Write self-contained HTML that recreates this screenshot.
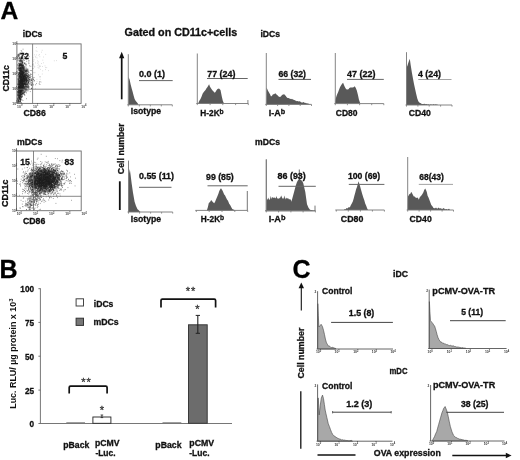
<!DOCTYPE html>
<html><head><meta charset="utf-8"><title>Figure</title>
<style>html,body{margin:0;padding:0;background:#fff;overflow:hidden}svg{display:block;filter:grayscale(1) blur(0.4px)}</style></head>
<body>
<svg width="520" height="460" viewBox="0 0 520 460" font-family="&quot;Liberation Sans&quot;, Arial, sans-serif" font-weight="bold">
<rect width="520" height="460" fill="#fff"/>
<text x="0.6" y="19.3" font-size="24.6" fill="#000" stroke="#000" stroke-width="0.3" text-anchor="start" >A</text>
<text x="-0.6" y="278.3" font-size="25" fill="#000" stroke="#000" stroke-width="0.3" text-anchor="start" >B</text>
<text x="292.6" y="278.4" font-size="25" fill="#000" stroke="#000" stroke-width="0.3" text-anchor="start" >C</text>
<path d="M25.5 81.4h0.7M21.1 69.9h0.7M17.5 98.5h0.7M36.2 83.6h0.7M23.6 86.1h0.7M24.3 88.4h0.7M20.7 65.0h0.7M19.8 95.2h0.7M21.4 79.7h0.7M21.4 65.6h0.7M30.2 75.7h0.7M25.5 83.7h0.7M19.3 83.6h0.7M30.9 85.6h0.7M22.2 74.9h0.7M22.4 73.8h0.7M22.2 62.7h0.7M21.0 97.4h0.7M23.0 77.8h0.7M18.7 100.6h0.7M23.8 79.0h0.7M19.6 73.5h0.7M20.6 98.0h0.7M22.9 83.6h0.7M28.9 76.1h0.7M17.9 93.1h0.7M25.1 78.8h0.7M20.2 91.7h0.7M21.4 79.1h0.7M18.9 86.7h0.7M19.7 76.2h0.7M23.0 86.1h0.7M20.9 87.9h0.7M20.3 67.0h0.7M22.3 68.2h0.7M20.2 70.4h0.7M25.1 81.1h0.7M18.5 68.6h0.7M20.3 69.7h0.7M21.5 70.5h0.7M23.4 73.1h0.7M25.1 71.6h0.7M19.5 83.8h0.7M19.1 87.5h0.7M21.1 73.5h0.7M24.2 77.0h0.7M25.0 77.6h0.7M19.6 92.7h0.7M23.6 78.0h0.7M22.3 80.9h0.7M20.9 79.1h0.7M25.7 71.5h0.7M20.7 84.1h0.7M24.7 68.9h0.7M21.8 81.3h0.7M27.3 86.8h0.7M23.6 83.6h0.7M23.8 69.7h0.7M22.4 85.9h0.7M23.9 79.3h0.7M22.6 72.0h0.7M20.6 81.0h0.7M20.2 100.9h0.7M17.9 101.2h0.7M30.2 80.0h0.7M19.2 72.7h0.7M21.2 81.0h0.7M27.2 76.5h0.7M22.0 92.5h0.7M20.7 96.7h0.7M17.4 96.2h0.7M26.6 76.2h0.7M22.0 61.2h0.7M23.6 76.6h0.7M19.7 64.1h0.7M25.7 84.3h0.7M26.0 88.5h0.7M25.1 86.6h0.7M22.2 67.4h0.7M23.5 79.5h0.7M22.2 71.0h0.7M17.6 83.7h0.7M21.6 83.0h0.7M20.6 83.0h0.7M23.0 77.2h0.7M23.6 72.9h0.7M22.0 83.6h0.7M20.6 66.3h0.7M19.7 85.7h0.7M22.1 67.3h0.7M25.2 84.7h0.7M23.6 72.8h0.7M21.5 67.7h0.7M26.5 80.9h0.7M19.9 89.5h0.7M20.6 96.7h0.7M20.0 94.0h0.7M20.6 75.8h0.7M26.7 70.1h0.7M25.7 72.8h0.7M19.6 90.6h0.7M21.5 90.7h0.7M21.1 84.1h0.7M21.0 81.4h0.7M22.0 93.7h0.7M24.4 92.6h0.7M21.1 81.3h0.7M18.7 65.5h0.7M30.9 80.4h0.7M25.9 75.0h0.7M21.7 80.8h0.7M22.6 68.6h0.7M22.3 74.1h0.7M20.2 77.1h0.7M19.7 90.2h0.7M24.6 88.3h0.7M24.5 75.2h0.7M23.3 67.9h0.7M21.9 93.5h0.7M20.5 70.3h0.7M21.7 83.4h0.7M20.5 73.4h0.7M28.4 72.0h0.7M25.6 77.8h0.7M20.3 74.0h0.7M18.5 91.2h0.7M22.4 84.7h0.7M23.4 81.3h0.7M19.9 67.8h0.7M24.6 89.4h0.7M21.1 65.4h0.7M23.7 68.0h0.7M19.1 73.8h0.7M28.5 77.6h0.7M20.7 84.8h0.7M23.2 80.2h0.7M21.8 93.3h0.7M21.5 86.0h0.7M20.1 80.0h0.7M22.0 84.5h0.7M20.2 68.0h0.7M23.8 75.3h0.7M26.9 83.6h0.7M21.3 71.3h0.7M26.0 78.3h0.7M19.6 96.3h0.7M20.6 89.1h0.7M24.1 80.9h0.7M24.3 70.7h0.7M33.8 81.1h0.7M19.7 76.0h0.7M25.0 71.4h0.7M20.9 75.0h0.7M22.7 76.4h0.7M22.7 77.8h0.7M22.6 85.9h0.7M22.6 70.6h0.7M19.3 72.6h0.7M20.5 94.2h0.7M20.2 65.5h0.7M25.6 79.6h0.7M18.5 91.4h0.7M23.5 81.6h0.7M22.9 70.8h0.7M23.5 69.4h0.7M20.3 79.9h0.7M26.4 83.3h0.7M24.5 84.2h0.7M25.7 86.8h0.7M21.4 86.3h0.7M19.3 68.4h0.7M27.4 80.5h0.7M28.8 87.1h0.7M23.0 71.6h0.7M23.9 63.1h0.7M28.5 74.7h0.7M20.9 68.2h0.7M26.9 82.3h0.7M19.1 70.1h0.7M19.3 77.9h0.7M23.6 74.2h0.7M17.5 99.9h0.7M24.5 84.0h0.7M20.8 76.1h0.7M20.1 59.3h0.7M21.1 90.6h0.7M24.0 88.6h0.7M27.4 77.2h0.7M28.5 88.2h0.7M21.1 65.8h0.7M18.5 82.7h0.7M21.9 82.2h0.7M25.2 76.8h0.7M22.6 75.7h0.7M23.6 80.9h0.7M20.4 92.7h0.7M23.4 72.5h0.7M18.4 80.6h0.7M21.8 81.6h0.7M21.3 82.7h0.7M19.5 75.8h0.7M20.6 84.9h0.7M19.1 82.4h0.7M20.7 68.1h0.7M20.4 72.7h0.7M18.0 87.0h0.7M20.0 74.9h0.7M20.0 77.7h0.7M24.3 79.4h0.7M20.0 58.9h0.7M24.3 80.5h0.7M21.2 74.5h0.7M28.3 70.2h0.7M17.6 82.9h0.7M18.8 81.7h0.7M24.3 69.0h0.7M19.8 91.2h0.7M18.1 100.1h0.7M27.2 76.1h0.7M21.5 87.2h0.7M20.9 87.6h0.7M26.6 71.2h0.7M29.2 79.5h0.7M20.5 60.2h0.7M21.8 74.6h0.7M18.7 73.0h0.7M27.1 78.1h0.7M21.5 72.2h0.7M20.0 80.0h0.7M26.1 81.3h0.7M30.0 82.0h0.7M21.3 94.4h0.7M20.4 92.8h0.7M20.3 78.0h0.7M19.5 84.8h0.7M20.6 83.5h0.7M19.6 80.7h0.7M22.4 72.7h0.7M31.7 83.6h0.7M21.8 71.3h0.7M22.6 67.2h0.7M20.7 82.8h0.7M19.7 82.6h0.7M20.4 86.7h0.7M19.7 89.6h0.7M24.5 86.8h0.7M29.7 81.9h0.7M20.9 72.3h0.7M24.7 87.0h0.7M25.0 83.7h0.7M20.7 80.0h0.7M19.4 76.9h0.7M25.3 79.6h0.7M20.9 75.3h0.7M18.3 89.1h0.7M19.2 86.2h0.7M20.9 94.4h0.7M19.8 93.5h0.7M21.6 70.9h0.7M19.8 99.5h0.7M26.0 81.9h0.7M21.6 87.4h0.7M21.7 82.2h0.7M25.9 77.3h0.7M18.3 95.7h0.7M21.6 72.5h0.7M22.4 80.3h0.7M23.2 77.5h0.7M24.1 89.7h0.7M20.8 76.6h0.7M20.5 69.2h0.7M23.6 68.7h0.7M21.5 61.2h0.7M23.9 78.4h0.7M18.9 85.5h0.7M18.5 74.9h0.7M26.8 85.1h0.7M19.9 97.0h0.7M17.8 86.4h0.7M19.6 72.6h0.7M19.2 76.5h0.7M28.8 80.8h0.7M20.4 80.3h0.7M24.6 70.6h0.7M21.5 83.1h0.7M28.8 81.4h0.7M23.1 86.4h0.7M20.2 81.4h0.7M20.3 97.0h0.7M27.1 69.4h0.7M22.1 72.6h0.7M22.3 83.4h0.7M18.2 92.4h0.7M24.4 74.2h0.7M19.8 57.5h0.7M24.7 75.9h0.7M24.5 91.1h0.7M20.1 78.7h0.7M20.0 70.0h0.7M28.8 75.2h0.7M23.6 76.0h0.7M20.5 99.6h0.7M26.6 87.7h0.7M22.4 67.3h0.7M33.7 77.5h0.7M23.3 76.6h0.7M22.8 85.4h0.7M19.3 86.5h0.7M21.1 90.7h0.7M24.7 87.6h0.7M20.0 88.2h0.7M20.0 87.3h0.7M24.7 79.2h0.7M31.5 82.6h0.7M21.8 85.4h0.7M24.3 74.2h0.7M18.3 95.6h0.7M27.4 87.0h0.7M20.5 77.2h0.7M17.6 88.2h0.7M20.5 83.5h0.7M18.9 83.8h0.7M25.5 80.7h0.7M19.4 65.8h0.7M19.7 89.2h0.7M25.6 83.0h0.7M20.4 70.5h0.7M22.1 83.7h0.7M18.4 97.3h0.7M17.7 98.2h0.7M21.4 79.9h0.7M20.0 90.2h0.7M20.5 81.7h0.7M31.0 88.5h0.7M19.0 64.5h0.7M19.3 70.6h0.7M21.7 73.7h0.7M21.8 74.7h0.7M23.3 59.0h0.7M21.8 92.2h0.7M17.9 88.0h0.7M19.2 65.1h0.7M23.9 75.8h0.7M20.7 70.1h0.7M20.7 100.2h0.7M19.7 68.2h0.7M22.3 64.1h0.7M18.8 97.9h0.7M18.0 89.5h0.7M20.6 61.7h0.7M21.9 90.6h0.7M24.9 77.0h0.7M24.5 70.9h0.7M19.8 75.9h0.7M22.3 71.5h0.7M19.7 87.8h0.7M20.2 92.1h0.7M21.4 65.3h0.7M24.0 91.5h0.7M22.7 78.5h0.7M23.9 72.7h0.7M23.5 79.1h0.7M19.0 77.2h0.7M20.5 79.8h0.7M22.3 83.6h0.7M20.1 70.4h0.7M22.5 75.0h0.7M17.3 94.9h0.7M22.5 65.7h0.7M19.1 81.7h0.7M22.5 62.7h0.7M24.1 75.6h0.7M20.5 85.3h0.7M19.1 92.1h0.7M20.1 91.1h0.7M20.2 86.4h0.7M22.0 87.9h0.7M18.6 94.4h0.7M24.4 82.9h0.7M22.6 88.4h0.7M25.6 70.5h0.7M22.0 90.2h0.7M19.2 89.9h0.7M26.1 87.1h0.7M24.5 90.4h0.7M19.7 88.7h0.7M20.3 81.5h0.7M23.9 66.6h0.7M19.4 89.5h0.7M21.6 83.7h0.7M22.6 77.5h0.7M24.9 82.4h0.7M26.8 80.9h0.7M24.1 74.3h0.7M24.7 80.6h0.7M22.0 69.6h0.7M20.3 96.2h0.7M19.0 68.0h0.7M20.1 92.1h0.7M25.8 91.9h0.7M17.5 91.4h0.7M24.7 78.7h0.7M20.4 76.6h0.7M22.8 86.9h0.7M22.2 87.2h0.7M20.8 65.1h0.7M20.6 93.9h0.7M29.9 74.0h0.7M22.0 53.1h0.7M22.1 80.4h0.7M25.7 73.8h0.7M19.3 68.3h0.7M25.3 76.6h0.7M20.8 89.8h0.7M22.1 79.6h0.7M24.1 83.7h0.7M19.8 83.0h0.7M23.7 83.9h0.7M22.3 90.0h0.7M21.8 88.3h0.7M19.4 87.5h0.7M20.9 84.9h0.7M19.2 70.5h0.7M19.5 86.4h0.7M18.6 74.2h0.7M19.0 97.2h0.7M20.7 84.0h0.7M22.8 80.5h0.7M19.8 88.8h0.7M23.3 87.7h0.7M20.7 71.3h0.7M26.2 80.1h0.7M20.7 65.1h0.7M20.3 68.4h0.7M19.9 86.1h0.7M27.2 84.3h0.7M19.6 98.1h0.7M20.4 78.5h0.7M30.9 79.9h0.7M24.0 95.0h0.7M18.9 65.0h0.7M20.9 66.9h0.7M21.6 83.2h0.7M19.1 84.4h0.7M19.7 95.0h0.7M21.5 51.3h0.7M26.2 79.3h0.7M26.4 77.6h0.7M18.5 91.7h0.7M20.0 84.8h0.7M22.6 67.4h0.7M22.4 76.3h0.7M20.3 64.2h0.7M23.4 81.7h0.7M25.4 75.5h0.7M20.1 74.1h0.7M18.1 89.0h0.7M21.6 73.7h0.7M23.1 69.2h0.7M19.3 70.6h0.7M19.4 96.1h0.7M20.4 98.1h0.7M21.5 73.2h0.7M18.2 86.3h0.7M18.6 85.3h0.7M20.9 73.4h0.7M19.3 79.3h0.7M19.3 95.4h0.7M20.2 83.0h0.7M24.2 76.9h0.7M22.2 78.8h0.7M18.1 101.3h0.7M18.0 86.5h0.7M26.7 80.1h0.7M18.5 67.1h0.7M26.0 75.3h0.7M19.3 84.1h0.7M20.8 89.4h0.7M20.7 71.7h0.7M19.2 78.7h0.7M23.2 79.9h0.7M24.7 80.1h0.7M33.1 79.6h0.7M22.1 83.0h0.7M26.6 81.3h0.7M21.2 80.8h0.7M23.2 85.4h0.7M21.1 89.6h0.7M20.4 78.0h0.7M25.0 80.6h0.7M22.1 79.6h0.7M25.7 84.8h0.7M22.3 79.9h0.7M19.9 71.3h0.7M20.2 74.7h0.7M25.6 71.4h0.7M28.1 87.3h0.7M31.3 74.4h0.7M28.8 83.9h0.7M21.3 61.4h0.7M22.5 93.2h0.7M22.5 84.6h0.7M20.9 73.2h0.7M18.6 87.0h0.7M19.3 88.4h0.7M17.8 88.1h0.7M20.1 85.9h0.7M21.0 86.8h0.7M22.2 76.5h0.7M20.2 68.8h0.7M20.5 72.5h0.7M20.6 95.0h0.7M19.1 87.0h0.7M24.3 94.6h0.7M19.4 90.9h0.7M21.1 77.6h0.7M24.9 79.7h0.7M27.6 87.1h0.7M22.5 78.2h0.7M22.2 73.5h0.7M20.1 74.5h0.7M20.7 78.6h0.7M21.3 77.3h0.7M21.3 86.8h0.7M20.9 73.4h0.7M19.8 64.1h0.7M24.1 81.7h0.7M24.8 89.4h0.7M23.7 72.0h0.7M22.0 74.1h0.7M18.5 92.4h0.7M19.4 70.1h0.7M23.9 79.2h0.7M20.1 94.8h0.7M21.6 82.6h0.7M21.6 62.9h0.7M19.3 99.5h0.7M21.6 77.2h0.7M21.6 65.5h0.7M19.3 94.8h0.7M20.9 76.8h0.7M20.9 83.9h0.7M25.6 77.8h0.7M25.3 84.2h0.7M19.3 58.2h0.7M27.8 76.1h0.7M25.9 82.0h0.7M26.0 84.7h0.7M24.7 83.1h0.7M22.8 86.4h0.7M22.3 78.0h0.7M26.8 86.3h0.7M23.4 81.1h0.7M20.9 71.8h0.7M23.1 77.9h0.7M27.8 82.2h0.7M20.0 100.0h0.7M23.1 72.5h0.7M19.4 74.5h0.7M23.7 72.9h0.7M19.3 93.5h0.7M24.9 73.6h0.7M19.5 68.9h0.7M22.6 83.5h0.7M27.2 75.0h0.7M20.4 70.3h0.7M21.8 82.7h0.7M19.6 69.0h0.7M23.4 83.3h0.7M20.0 68.7h0.7M25.9 71.2h0.7M18.4 90.7h0.7M18.4 96.6h0.7M26.6 76.9h0.7M19.9 61.7h0.7M20.8 78.6h0.7M23.0 72.8h0.7M17.8 83.1h0.7M20.5 95.9h0.7M28.1 81.6h0.7M18.7 95.2h0.7M18.0 85.8h0.7M31.2 80.6h0.7M20.3 75.8h0.7M22.1 79.5h0.7M24.4 92.5h0.7M21.9 61.4h0.7M20.7 78.8h0.7M21.9 81.8h0.7M23.1 65.0h0.7M26.1 73.4h0.7M24.1 79.6h0.7M27.1 71.1h0.7M19.4 93.7h0.7M20.8 64.7h0.7M22.9 74.4h0.7M28.4 83.2h0.7M22.7 74.0h0.7M22.6 70.8h0.7M22.7 90.0h0.7M21.7 84.8h0.7M24.6 95.1h0.7M21.8 75.5h0.7M27.4 84.4h0.7M22.4 84.6h0.7M20.4 92.1h0.7M21.3 71.1h0.7M21.1 72.8h0.7M20.7 92.5h0.7M26.9 85.8h0.7M22.8 76.7h0.7M20.2 71.4h0.7M21.6 67.5h0.7M19.1 85.1h0.7M19.7 93.6h0.7M20.8 81.9h0.7M22.5 71.5h0.7M21.0 76.9h0.7M33.0 79.4h0.7M19.9 64.8h0.7M20.7 74.9h0.7M27.0 81.9h0.7M19.8 81.1h0.7M19.0 77.2h0.7M20.9 90.6h0.7M24.4 84.0h0.7M21.7 77.4h0.7M20.8 87.0h0.7M22.6 89.4h0.7M22.3 73.1h0.7M24.5 86.2h0.7M25.4 76.2h0.7M18.0 81.0h0.7M27.4 83.1h0.7M23.6 88.4h0.7M20.1 90.9h0.7M22.9 83.2h0.7M19.6 74.7h0.7M25.1 77.0h0.7M21.6 83.6h0.7M21.7 88.0h0.7M18.4 75.0h0.7M23.6 75.8h0.7M19.5 98.3h0.7M21.7 84.4h0.7M22.8 86.8h0.7M22.3 93.3h0.7M23.0 91.7h0.7M22.1 90.9h0.7M18.3 78.6h0.7M24.1 80.5h0.7M19.6 92.7h0.7M21.9 85.8h0.7M18.3 87.7h0.7M28.6 86.7h0.7M20.8 69.7h0.7M25.4 81.5h0.7M18.3 99.0h0.7M20.1 87.4h0.7M26.1 90.3h0.7M24.4 78.0h0.7M21.0 95.8h0.7M18.4 101.4h0.7M18.5 87.2h0.7M29.0 77.6h0.7M24.7 67.9h0.7M23.6 78.4h0.7M22.3 87.2h0.7M24.1 80.0h0.7M19.6 67.7h0.7M26.7 79.9h0.7M26.4 68.8h0.7M20.4 93.2h0.7M20.8 64.8h0.7M24.8 84.4h0.7M21.7 66.9h0.7M26.3 85.3h0.7M27.6 76.6h0.7M20.1 86.3h0.7M23.7 70.2h0.7M22.2 72.3h0.7M19.5 92.2h0.7M27.1 75.6h0.7M29.4 79.7h0.7M18.2 93.3h0.7M18.8 76.3h0.7M25.1 88.3h0.7M20.6 82.9h0.7M19.1 65.5h0.7M25.8 79.5h0.7M21.3 81.4h0.7M20.3 81.6h0.7M19.6 67.5h0.7M18.6 95.5h0.7M21.2 85.2h0.7M23.6 84.6h0.7M25.6 72.2h0.7M26.2 84.1h0.7M26.4 75.5h0.7M22.5 71.1h0.7M27.8 84.7h0.7M20.7 87.6h0.7M20.2 95.7h0.7M18.4 92.6h0.7M23.3 85.2h0.7M20.0 84.6h0.7M22.2 89.7h0.7M20.9 84.7h0.7M23.7 80.7h0.7M22.0 71.2h0.7M25.0 74.7h0.7M23.4 80.7h0.7M28.6 72.4h0.7M21.1 74.5h0.7M21.3 87.7h0.7M23.3 83.5h0.7M22.5 88.7h0.7M19.6 69.4h0.7M27.6 86.8h0.7M21.9 73.8h0.7M22.4 82.2h0.7M22.7 86.6h0.7M18.5 86.0h0.7M19.0 97.3h0.7M19.3 97.0h0.7M19.5 97.2h0.7M20.7 90.5h0.7M23.9 76.5h0.7M22.7 49.2h0.7M21.9 89.9h0.7M25.4 75.7h0.7M19.9 73.1h0.7M19.4 88.2h0.7M19.4 91.7h0.7M21.2 77.6h0.7M23.5 84.3h0.7M27.7 73.7h0.7M19.0 75.8h0.7M20.0 71.5h0.7M22.9 82.2h0.7M19.8 83.6h0.7M22.1 88.1h0.7M17.6 85.0h0.7M19.8 90.7h0.7M24.4 78.9h0.7M19.8 82.1h0.7M19.5 90.4h0.7M22.2 65.6h0.7M27.4 78.6h0.7M19.3 87.1h0.7M19.9 72.9h0.7M30.8 79.8h0.7M20.0 81.2h0.7M28.7 84.7h0.7M22.4 57.9h0.7M22.5 81.2h0.7M18.9 73.2h0.7M23.6 82.1h0.7M22.0 72.3h0.7M21.4 69.6h0.7M22.5 86.4h0.7M18.5 95.9h0.7M18.7 90.6h0.7M21.0 77.5h0.7M28.6 80.0h0.7M28.4 75.8h0.7M19.0 87.1h0.7M22.6 61.7h0.7M20.9 77.3h0.7M24.2 83.2h0.7M18.6 91.4h0.7M25.2 71.1h0.7M21.4 74.5h0.7M20.4 78.4h0.7M18.5 74.5h0.7M22.0 84.5h0.7M25.3 78.0h0.7M21.9 75.5h0.7M18.4 67.6h0.7M22.8 73.6h0.7M20.2 85.2h0.7M22.4 77.9h0.7M20.8 94.5h0.7M19.3 92.5h0.7M26.1 69.7h0.7M22.7 78.3h0.7M22.6 73.0h0.7M23.4 88.9h0.7M23.4 78.4h0.7M22.0 94.8h0.7M22.9 79.4h0.7M19.2 66.2h0.7M21.6 87.6h0.7M26.5 79.6h0.7M23.6 77.7h0.7M28.4 79.8h0.7M19.6 96.3h0.7M20.9 68.1h0.7M25.0 73.7h0.7M22.5 85.2h0.7M26.8 75.3h0.7M22.7 73.8h0.7M23.3 81.6h0.7M18.8 87.0h0.7M17.9 102.6h0.7M30.0 84.0h0.7M24.3 82.0h0.7M18.5 69.8h0.7M24.0 72.0h0.7M18.6 84.5h0.7M19.3 96.2h0.7M21.6 80.5h0.7M20.4 98.1h0.7M25.8 86.9h0.7M19.1 89.2h0.7M19.1 79.9h0.7M20.5 74.1h0.7M20.8 87.9h0.7M20.5 61.4h0.7M22.4 80.4h0.7M24.5 71.1h0.7M17.4 101.0h0.7M23.4 73.8h0.7M22.5 78.0h0.7M24.1 78.8h0.7M23.4 72.9h0.7M22.4 65.2h0.7M24.2 83.1h0.7M18.3 91.4h0.7M21.3 94.2h0.7M25.7 78.7h0.7M23.1 90.1h0.7M26.7 84.1h0.7M22.2 75.3h0.7M32.9 78.1h0.7M23.2 67.8h0.7M23.0 69.2h0.7M19.7 80.6h0.7M19.2 80.5h0.7M23.2 77.8h0.7M25.0 85.1h0.7M24.7 69.6h0.7M19.6 66.5h0.7M27.5 89.7h0.7M20.9 69.8h0.7M21.2 79.5h0.7M21.6 84.0h0.7M23.7 56.6h0.7M24.0 79.6h0.7M18.7 97.5h0.7M21.6 64.5h0.7M23.3 84.5h0.7M17.9 92.4h0.7M24.9 85.7h0.7M20.9 92.3h0.7M23.6 87.2h0.7M19.0 98.2h0.7M19.0 54.1h0.7M20.6 85.9h0.7M26.8 73.7h0.7M20.9 81.5h0.7M27.3 84.9h0.7M25.7 85.9h0.7M19.1 76.1h0.7M19.9 88.3h0.7M22.9 90.6h0.7M18.9 69.4h0.7M22.0 82.2h0.7M19.8 76.9h0.7M19.5 88.0h0.7M20.9 75.3h0.7M23.9 68.9h0.7M25.7 72.0h0.7M21.4 67.0h0.7M20.6 79.6h0.7M18.5 98.3h0.7M22.2 85.7h0.7M25.2 89.0h0.7M25.6 75.1h0.7M19.3 67.2h0.7M21.7 67.4h0.7M22.4 79.3h0.7M23.2 71.5h0.7M24.6 83.9h0.7M24.1 83.9h0.7M24.8 68.9h0.7M18.8 87.0h0.7M18.1 84.3h0.7M18.9 102.6h0.7M21.2 76.6h0.7M19.5 95.0h0.7M19.9 73.0h0.7M21.6 78.7h0.7M20.4 83.1h0.7M23.0 90.6h0.7M21.6 69.2h0.7M25.3 76.7h0.7M21.0 85.3h0.7M21.1 64.3h0.7M20.4 76.9h0.7M20.7 77.4h0.7M22.3 72.4h0.7M22.8 84.9h0.7M26.8 81.0h0.7M21.8 66.3h0.7M27.7 78.7h0.7M20.0 60.8h0.7M21.1 68.8h0.7M23.9 86.2h0.7M20.8 70.3h0.7M20.9 97.7h0.7M20.7 89.6h0.7M17.9 98.7h0.7M22.9 79.1h0.7M23.6 78.6h0.7M25.4 70.3h0.7M20.6 88.9h0.7M27.7 78.8h0.7M26.5 86.2h0.7M23.0 72.1h0.7M30.7 84.8h0.7M22.3 91.5h0.7M21.7 88.7h0.7M19.5 80.9h0.7M23.9 87.9h0.7M20.2 85.9h0.7M20.6 91.4h0.7M23.1 85.1h0.7M27.8 79.6h0.7M22.4 80.2h0.7M27.3 77.1h0.7M20.7 93.3h0.7M26.8 80.1h0.7M23.5 85.1h0.7M23.8 80.5h0.7M20.0 91.9h0.7M28.3 82.6h0.7M20.6 86.2h0.7M18.2 87.2h0.7M23.5 93.3h0.7M18.3 97.3h0.7M23.5 81.8h0.7M20.9 67.3h0.7M21.9 69.1h0.7M20.3 70.8h0.7M19.4 65.6h0.7M20.0 81.7h0.7M23.5 88.0h0.7M18.8 96.7h0.7M24.7 82.6h0.7M20.0 77.3h0.7M22.2 79.2h0.7M23.8 80.4h0.7M22.8 65.4h0.7M18.2 73.2h0.7M18.2 86.9h0.7M20.2 91.2h0.7M19.4 94.0h0.7M27.5 77.6h0.7M23.1 81.6h0.7M19.8 96.5h0.7M23.3 87.8h0.7M21.5 89.0h0.7M19.9 65.8h0.7M18.4 94.6h0.7M17.2 89.4h0.7M19.6 75.0h0.7M21.3 78.7h0.7M19.4 75.4h0.7M20.6 94.9h0.7M20.5 91.3h0.7M20.6 90.7h0.7M20.6 81.3h0.7M26.0 87.0h0.7M19.9 82.6h0.7M24.6 77.4h0.7M20.2 80.9h0.7M19.5 99.5h0.7M19.9 68.4h0.7M25.8 84.2h0.7M19.2 86.2h0.7M21.4 89.9h0.7M21.8 83.3h0.7M28.0 76.6h0.7M25.7 74.4h0.7M22.8 91.1h0.7M21.0 72.0h0.7M20.2 76.8h0.7M21.2 73.0h0.7M19.6 65.8h0.7M25.7 79.4h0.7M18.4 83.9h0.7M22.9 78.1h0.7M23.4 80.8h0.7M32.6 84.2h0.7M19.8 81.3h0.7M20.5 64.0h0.7M20.8 77.5h0.7M22.1 80.6h0.7M21.3 68.7h0.7M20.0 80.4h0.7M20.9 79.4h0.7M26.7 80.7h0.7M19.0 95.5h0.7M27.5 69.8h0.7M24.5 62.9h0.7M20.5 82.8h0.7M21.4 95.0h0.7M19.9 71.5h0.7M20.9 66.4h0.7M23.3 92.8h0.7M22.1 80.5h0.7M22.8 85.3h0.7M27.4 84.8h0.7M22.9 69.2h0.7M18.4 90.5h0.7M22.1 87.7h0.7M21.8 96.5h0.7M20.0 88.6h0.7M17.9 96.8h0.7M26.0 83.2h0.7M22.8 74.8h0.7M17.8 90.4h0.7M29.6 80.0h0.7M20.4 78.7h0.7M22.3 80.1h0.7M20.7 86.6h0.7M21.0 89.3h0.7M21.1 81.8h0.7M22.4 82.8h0.7M25.6 86.1h0.7M24.1 76.6h0.7M19.9 67.9h0.7M19.9 87.8h0.7M20.0 90.7h0.7M23.2 78.6h0.7M22.9 86.6h0.7M22.0 79.6h0.7M20.6 68.3h0.7M25.2 79.1h0.7M22.2 93.8h0.7M20.4 71.4h0.7M19.8 71.8h0.7M18.8 89.1h0.7M19.0 80.0h0.7M20.5 64.2h0.7M23.0 70.6h0.7M21.5 76.1h0.7M22.4 76.7h0.7M19.3 65.1h0.7M25.4 70.0h0.7M20.1 88.0h0.7M21.0 90.4h0.7M23.4 72.4h0.7M19.1 78.0h0.7M18.8 72.1h0.7M24.3 83.8h0.7M21.4 76.5h0.7M25.4 90.0h0.7M25.1 80.4h0.7M18.0 79.8h0.7M18.8 95.3h0.7M21.0 78.4h0.7M22.6 69.0h0.7M20.6 64.5h0.7M21.1 84.7h0.7M21.1 79.9h0.7M22.7 87.4h0.7M26.0 81.5h0.7M20.6 93.5h0.7M17.8 92.5h0.7M20.3 85.3h0.7M19.0 84.3h0.7M23.5 70.7h0.7M20.6 92.4h0.7M19.8 93.3h0.7M21.2 94.7h0.7M25.1 83.1h0.7M24.7 75.8h0.7M21.4 80.6h0.7M26.2 77.2h0.7M25.9 70.6h0.7M21.8 81.6h0.7M24.1 78.6h0.7M21.2 68.8h0.7M23.2 75.9h0.7M27.1 73.5h0.7M20.3 79.5h0.7M22.7 80.8h0.7M21.5 86.1h0.7M26.7 80.3h0.7M25.5 89.5h0.7M22.9 67.6h0.7M22.5 76.7h0.7M18.6 97.4h0.7M22.3 64.0h0.7M21.1 86.7h0.7M19.9 88.6h0.7M21.8 71.9h0.7M21.0 64.6h0.7M22.4 86.3h0.7M20.9 84.1h0.7M22.7 73.2h0.7M23.3 82.8h0.7M26.1 79.6h0.7M24.8 74.1h0.7M21.8 87.6h0.7M22.5 82.3h0.7M19.1 84.3h0.7M20.8 65.8h0.7M22.2 87.3h0.7M21.8 83.5h0.7M17.7 84.4h0.7M22.5 85.0h0.7M19.3 61.1h0.7M24.2 83.9h0.7M22.2 87.3h0.7M18.6 88.3h0.7M18.2 81.7h0.7M21.8 75.3h0.7M25.3 64.8h0.7M21.7 76.9h0.7M28.0 82.7h0.7M20.0 58.4h0.7M21.7 57.8h0.7M21.1 63.8h0.7M25.2 77.9h0.7M22.5 74.3h0.7M21.6 87.1h0.7M27.7 80.6h0.7M24.6 76.5h0.7M23.0 94.4h0.7M17.8 77.2h0.7M26.2 75.1h0.7M22.4 76.7h0.7M21.4 69.1h0.7M22.8 76.9h0.7M20.6 86.1h0.7M21.1 76.3h0.7M20.2 83.3h0.7M19.9 95.2h0.7M18.6 88.2h0.7M20.6 75.2h0.7M22.7 78.0h0.7M20.4 80.4h0.7M28.2 78.4h0.7M22.7 77.2h0.7M19.0 77.6h0.7M22.5 78.7h0.7M23.7 76.9h0.7M25.6 79.2h0.7M23.0 76.3h0.7M22.4 73.0h0.7M20.4 78.0h0.7M20.7 74.7h0.7M18.4 96.1h0.7M23.5 93.2h0.7M31.4 84.2h0.7M22.9 92.3h0.7M22.6 66.2h0.7M19.8 82.6h0.7M27.6 72.4h0.7M22.7 68.5h0.7M25.1 87.4h0.7M18.8 99.0h0.7M21.4 71.1h0.7M25.6 80.2h0.7M22.0 77.4h0.7M23.7 75.1h0.7M22.3 65.0h0.7M21.8 62.7h0.7M21.3 72.0h0.7M22.0 85.2h0.7M20.6 80.8h0.7M19.5 70.3h0.7M21.7 76.0h0.7M18.4 73.7h0.7M19.0 98.4h0.7M18.1 76.3h0.7M19.0 57.7h0.7M19.2 64.3h0.7M21.9 74.2h0.7M26.4 89.2h0.7M20.6 92.4h0.7M22.5 78.5h0.7M22.7 71.9h0.7M28.4 82.8h0.7M24.2 76.7h0.7M18.7 75.5h0.7M21.9 75.2h0.7M26.5 75.6h0.7M18.3 81.2h0.7M23.0 88.7h0.7M24.2 76.3h0.7M22.6 86.2h0.7M23.4 76.2h0.7M19.7 88.9h0.7M22.7 87.8h0.7M20.9 77.1h0.7M19.3 98.1h0.7M18.5 80.1h0.7M19.8 78.0h0.7M19.2 82.0h0.7M28.3 82.9h0.7M21.5 58.7h0.7M27.8 74.7h0.7M24.5 86.9h0.7M27.2 70.9h0.7M26.1 76.0h0.7M20.6 87.6h0.7M27.9 88.0h0.7M27.4 70.5h0.7M17.5 92.4h0.7M21.0 89.5h0.7M22.8 84.1h0.7M18.9 75.8h0.7M20.2 88.8h0.7M26.1 86.7h0.7M21.3 91.4h0.7M26.6 71.9h0.7M20.9 82.0h0.7M22.7 67.2h0.7M22.2 73.3h0.7M19.7 98.3h0.7M24.3 71.1h0.7M28.5 81.1h0.7M21.2 92.0h0.7M23.4 77.6h0.7M21.2 91.2h0.7M19.8 75.2h0.7M18.6 101.1h0.7M21.3 77.9h0.7M18.1 82.3h0.7M17.8 92.9h0.7M17.9 82.0h0.7M20.8 86.2h0.7M25.4 82.3h0.7M21.8 91.2h0.7M22.7 75.1h0.7M19.8 88.0h0.7M25.6 76.9h0.7M21.0 88.3h0.7M18.9 91.9h0.7M25.3 70.4h0.7M22.2 73.7h0.7M26.0 81.1h0.7M25.3 72.2h0.7M20.5 85.6h0.7M23.2 88.9h0.7M28.3 80.1h0.7M22.1 89.2h0.7M20.1 82.6h0.7M23.8 76.9h0.7M19.7 92.3h0.7M18.5 95.1h0.7M24.3 82.0h0.7M19.8 64.0h0.7M25.4 89.2h0.7M19.7 65.6h0.7M18.3 102.3h0.7M22.6 78.8h0.7M18.4 78.9h0.7M23.9 89.9h0.7M21.2 74.6h0.7M19.3 91.7h0.7M22.2 81.6h0.7M23.1 92.9h0.7M20.1 79.1h0.7M22.9 75.2h0.7M29.6 77.9h0.7M22.0 83.7h0.7M19.9 81.7h0.7M18.2 91.2h0.7M29.6 83.2h0.7M22.7 82.2h0.7M20.0 72.5h0.7M18.9 89.1h0.7M24.4 63.4h0.7M26.7 80.8h0.7M26.1 82.4h0.7M23.8 88.3h0.7M23.9 82.7h0.7M23.3 73.2h0.7M22.4 88.3h0.7M20.1 97.6h0.7M26.4 76.9h0.7M17.6 95.3h0.7M22.5 84.2h0.7M20.7 85.5h0.7M20.9 90.1h0.7M26.9 90.8h0.7M25.1 75.8h0.7M23.9 81.6h0.7M22.2 72.2h0.7M19.8 80.6h0.7M28.4 81.6h0.7M24.8 85.9h0.7M22.3 86.7h0.7M31.1 70.6h0.7M22.2 69.3h0.7M18.5 83.9h0.7M23.9 84.0h0.7M17.9 79.1h0.7M20.8 88.1h0.7M22.2 65.7h0.7M18.9 92.1h0.7M20.6 63.7h0.7M24.3 67.8h0.7M19.9 90.7h0.7M23.4 76.6h0.7M21.7 97.0h0.7M19.5 96.0h0.7M19.7 65.5h0.7M24.1 74.2h0.7M20.3 99.2h0.7M23.9 84.2h0.7M19.2 98.6h0.7M22.4 82.5h0.7M20.5 60.5h0.7M27.0 87.7h0.7M28.1 74.3h0.7M18.8 76.5h0.7M22.7 93.6h0.7M20.0 69.8h0.7M19.7 59.9h0.7M22.9 85.4h0.7M26.3 89.4h0.7M21.2 91.3h0.7M25.2 78.1h0.7M22.8 82.9h0.7M19.7 80.9h0.7M20.0 68.0h0.7M22.9 74.0h0.7M19.5 96.8h0.7M23.0 68.6h0.7M20.7 83.1h0.7M25.8 78.5h0.7M22.2 70.9h0.7M18.6 93.1h0.7M22.9 84.6h0.7M25.6 74.8h0.7M19.4 90.8h0.7M20.6 73.3h0.7M20.8 77.5h0.7M30.7 76.5h0.7M20.6 87.0h0.7M21.5 81.3h0.7M21.3 71.7h0.7M22.2 79.3h0.7M21.7 77.7h0.7M20.4 74.4h0.7M22.4 80.0h0.7M20.1 75.4h0.7M20.6 81.6h0.7M19.5 66.3h0.7M23.5 79.6h0.7M18.0 93.0h0.7M25.6 81.0h0.7M24.1 83.3h0.7M23.0 73.8h0.7M19.1 89.1h0.7M20.5 75.7h0.7M20.5 63.8h0.7M23.9 78.9h0.7M25.9 79.1h0.7M20.3 88.6h0.7M25.8 84.4h0.7M20.1 70.6h0.7M18.4 85.4h0.7M21.5 90.3h0.7M19.5 53.2h0.7M20.6 85.5h0.7M21.5 70.8h0.7M18.9 94.5h0.7M24.3 81.6h0.7M21.8 81.7h0.7M21.0 79.1h0.7M19.3 97.8h0.7M17.3 102.1h0.7M19.6 88.7h0.7M19.4 82.7h0.7M23.7 82.5h0.7M21.0 83.3h0.7M19.2 64.4h0.7M18.3 79.7h0.7M20.7 72.5h0.7M31.3 88.2h0.7M20.5 71.6h0.7M23.5 91.6h0.7M22.0 87.6h0.7M28.2 82.1h0.7M27.5 83.6h0.7M17.3 97.5h0.7M22.1 82.3h0.7M18.5 85.1h0.7M23.8 83.8h0.7M26.1 90.0h0.7M24.6 92.0h0.7M23.3 66.0h0.7M20.8 88.1h0.7M20.5 84.9h0.7M20.6 65.7h0.7M24.7 78.7h0.7M24.7 75.1h0.7M19.6 83.6h0.7M21.1 91.1h0.7M20.8 92.2h0.7M20.7 84.5h0.7M20.3 88.2h0.7M28.6 80.3h0.7M21.2 81.4h0.7M22.2 65.7h0.7M21.5 79.7h0.7M18.3 97.1h0.7M22.0 61.0h0.7M23.1 73.1h0.7M21.6 84.2h0.7M20.6 74.8h0.7M25.2 84.1h0.7M22.1 85.7h0.7M24.9 89.3h0.7M21.1 84.2h0.7M19.8 60.4h0.7M18.7 90.8h0.7M28.0 85.8h0.7M20.4 90.0h0.7M19.4 85.9h0.7M22.9 79.2h0.7M19.4 82.8h0.7M20.8 89.5h0.7M20.1 87.1h0.7M22.9 77.4h0.7M23.2 68.2h0.7M21.4 81.1h0.7M21.9 78.8h0.7M22.9 66.7h0.7M18.0 88.8h0.7M24.3 81.1h0.7M22.6 83.8h0.7M18.6 70.4h0.7M28.0 75.9h0.7M20.1 74.7h0.7M22.4 77.3h0.7M19.4 73.2h0.7M19.8 101.4h0.7M20.8 91.6h0.7M22.1 67.4h0.7M28.5 75.9h0.7M26.3 70.9h0.7M20.8 81.1h0.7M21.6 80.7h0.7M21.5 84.7h0.7M17.7 84.0h0.7M21.0 88.7h0.7M18.4 79.8h0.7M19.4 83.2h0.7M26.7 79.4h0.7M22.4 82.9h0.7M20.1 92.1h0.7M18.5 99.2h0.7M17.5 95.3h0.7M22.3 81.2h0.7M21.0 80.2h0.7M22.4 83.8h0.7M20.8 74.4h0.7M23.2 75.4h0.7M20.1 89.0h0.7M21.3 93.6h0.7M24.0 80.9h0.7M23.8 75.9h0.7M22.1 76.1h0.7M19.2 61.5h0.7M30.2 77.9h0.7M18.5 88.3h0.7M30.3 77.1h0.7M20.4 79.9h0.7M26.9 76.1h0.7M20.8 64.6h0.7M26.8 71.6h0.7M18.3 93.6h0.7M23.0 77.1h0.7M25.5 88.1h0.7M26.6 87.1h0.7M18.0 100.6h0.7M20.0 76.4h0.7M20.3 81.0h0.7M23.4 68.9h0.7M20.3 78.9h0.7M20.9 75.0h0.7M21.9 74.8h0.7M19.3 63.7h0.7M18.0 72.5h0.7M22.7 69.7h0.7M19.5 95.3h0.7M28.6 78.4h0.7M21.9 91.0h0.7M28.2 76.7h0.7M22.1 66.6h0.7M19.8 71.7h0.7M20.2 82.1h0.7M23.8 86.6h0.7M24.6 79.0h0.7M23.0 87.8h0.7M24.1 77.7h0.7M20.0 100.2h0.7M25.8 80.9h0.7M20.4 57.9h0.7M18.5 78.0h0.7M21.2 70.7h0.7M21.5 62.5h0.7M18.6 88.1h0.7M26.3 80.7h0.7M26.0 82.8h0.7M24.2 75.6h0.7M22.3 75.0h0.7M20.2 79.8h0.7M20.9 85.0h0.7M23.7 87.9h0.7M26.0 77.5h0.7M19.5 84.8h0.7M22.3 63.1h0.7M24.1 79.2h0.7M18.9 73.5h0.7M20.5 79.0h0.7M24.9 89.3h0.7M26.7 77.4h0.7M21.6 71.1h0.7M24.8 80.0h0.7M21.0 57.6h0.7M23.6 79.7h0.7M21.9 65.2h0.7M19.6 92.0h0.7M21.6 72.1h0.7M22.4 79.0h0.7M19.7 81.9h0.7M23.7 76.2h0.7M23.7 81.4h0.7M20.2 85.3h0.7M20.4 92.1h0.7M24.3 87.5h0.7M19.8 81.4h0.7M23.7 81.0h0.7M24.3 79.7h0.7M27.8 90.8h0.7M21.0 58.2h0.7M19.3 88.1h0.7M24.8 77.2h0.7M22.1 85.9h0.7M23.7 78.8h0.7M20.8 67.8h0.7M21.5 88.3h0.7M18.6 89.7h0.7M19.1 65.8h0.7M21.4 80.9h0.7M22.3 68.5h0.7M20.1 76.4h0.7M22.1 90.9h0.7M22.1 64.2h0.7M22.2 89.6h0.7M21.1 65.9h0.7M39.8 81.8h0.7M23.7 70.3h0.7M25.5 82.3h0.7M28.5 78.0h0.7M20.8 80.4h0.7M21.1 77.0h0.7M20.5 73.9h0.7M19.2 60.2h0.7M22.2 68.3h0.7M22.8 84.4h0.7M20.9 89.9h0.7M21.4 87.6h0.7M21.4 79.6h0.7M20.7 83.2h0.7M22.6 60.1h0.7M22.3 84.4h0.7M20.9 86.7h0.7M20.8 85.7h0.7M24.2 73.8h0.7M19.3 86.9h0.7M20.1 94.9h0.7M20.9 96.3h0.7M22.0 95.9h0.7M18.8 63.4h0.7M22.2 84.8h0.7M18.8 81.3h0.7M24.8 84.3h0.7M22.9 79.1h0.7M24.8 71.9h0.7M20.2 76.7h0.7M25.6 86.3h0.7M19.6 77.6h0.7M19.5 85.2h0.7M24.7 86.4h0.7M19.8 58.6h0.7M23.3 76.5h0.7M22.6 76.8h0.7M20.8 74.1h0.7M20.0 80.5h0.7M25.2 82.0h0.7M28.1 86.2h0.7M18.6 80.2h0.7M21.0 87.5h0.7M21.9 75.3h0.7M25.1 78.4h0.7M18.2 84.8h0.7M21.5 67.1h0.7M23.1 70.0h0.7M19.3 69.0h0.7M25.7 74.1h0.7M21.0 77.1h0.7M24.3 74.7h0.7M34.2 80.4h0.7M21.7 79.8h0.7M20.6 93.9h0.7M17.7 94.8h0.7M20.3 71.1h0.7M24.1 87.8h0.7M26.3 78.6h0.7M25.7 75.6h0.7M18.1 77.8h0.7M22.1 78.9h0.7M19.2 71.8h0.7M22.9 87.1h0.7M20.1 68.2h0.7M23.9 78.1h0.7M20.7 88.1h0.7M21.6 82.5h0.7M20.0 90.1h0.7M18.7 70.1h0.7M25.9 84.6h0.7M23.5 75.7h0.7M19.6 84.9h0.7M22.3 83.3h0.7M21.5 87.3h0.7M20.8 78.9h0.7M29.2 77.4h0.7M24.4 84.4h0.7M19.3 84.0h0.7M22.6 71.3h0.7M25.1 77.3h0.7M20.0 74.5h0.7M28.0 86.0h0.7M22.3 87.2h0.7M19.8 93.8h0.7M21.0 71.3h0.7M23.3 74.9h0.7M19.0 92.0h0.7M19.2 78.7h0.7M19.6 78.6h0.7M21.4 71.1h0.7M22.1 73.1h0.7M23.2 88.9h0.7M22.3 58.0h0.7M21.2 84.9h0.7M26.6 73.4h0.7M21.9 81.2h0.7M33.0 84.9h0.7M20.5 63.4h0.7M19.6 90.8h0.7M17.5 88.0h0.7M27.6 83.0h0.7M31.2 84.4h0.7M20.5 79.4h0.7M20.7 76.9h0.7M19.5 88.3h0.7M20.4 92.7h0.7M24.6 74.5h0.7M26.0 78.4h0.7M21.9 92.5h0.7M23.6 86.9h0.7M24.5 79.4h0.7M29.3 79.5h0.7M21.7 79.8h0.7M23.9 77.9h0.7M24.5 76.6h0.7M18.2 88.8h0.7M25.8 80.4h0.7M26.0 92.9h0.7M19.4 86.4h0.7M19.3 84.5h0.7M21.1 74.2h0.7M18.5 74.6h0.7M18.9 73.5h0.7M20.8 50.6h0.7M20.7 73.2h0.7M31.1 78.7h0.7M23.6 85.5h0.7M29.3 75.8h0.7M22.3 82.4h0.7M22.4 65.5h0.7M20.5 82.0h0.7M24.3 67.3h0.7M22.7 81.5h0.7M19.1 81.9h0.7M19.9 88.2h0.7M19.9 76.1h0.7M20.4 85.8h0.7M23.8 79.2h0.7M22.3 75.2h0.7M22.3 89.0h0.7M26.4 89.5h0.7M24.2 70.0h0.7M21.2 71.2h0.7M21.1 80.3h0.7M23.0 86.0h0.7M26.6 74.4h0.7M22.7 66.5h0.7M31.1 88.4h0.7M21.0 78.6h0.7M20.1 61.0h0.7M18.7 88.9h0.7M24.2 77.2h0.7M21.4 82.0h0.7M18.6 87.3h0.7M27.8 87.8h0.7M22.1 58.2h0.7M26.5 79.9h0.7M22.2 88.1h0.7M21.0 89.1h0.7M19.5 86.6h0.7M19.7 86.4h0.7M25.4 84.8h0.7M18.9 66.2h0.7M20.1 69.0h0.7M19.7 77.0h0.7M23.8 71.9h0.7M21.6 89.5h0.7M19.6 72.8h0.7M25.4 78.3h0.7M39.7 76.8h0.7M20.7 68.3h0.7M22.8 73.9h0.7M20.5 81.6h0.7M19.0 91.1h0.7M19.7 75.8h0.7M18.7 87.3h0.7M21.5 82.6h0.7M20.7 69.0h0.7M20.2 80.4h0.7M21.0 73.3h0.7M18.4 92.8h0.7M17.7 89.5h0.7M31.4 85.5h0.7M19.5 72.8h0.7M19.2 60.2h0.7M17.3 98.6h0.7M17.5 56.8h0.7M28.5 77.7h0.7M17.7 101.6h0.7M17.6 75.2h0.7M19.7 95.1h0.7M19.8 80.0h0.7M19.8 67.9h0.7M18.2 64.2h0.7M17.4 84.3h0.7M23.6 65.0h0.7M17.1 75.9h0.7M21.1 88.5h0.7M22.0 96.8h0.7M22.9 86.0h0.7M17.4 81.2h0.7M18.8 83.2h0.7M19.0 88.4h0.7M21.1 60.5h0.7M21.9 60.2h0.7M22.6 75.4h0.7M17.2 78.7h0.7M30.5 66.3h0.7M17.6 92.8h0.7M21.5 78.1h0.7M25.4 91.8h0.7M21.2 81.9h0.7M24.9 75.2h0.7M29.9 91.6h0.7M18.6 68.4h0.7M23.1 84.9h0.7M31.0 80.0h0.7M32.5 64.5h0.7M23.9 75.9h0.7M31.3 82.2h0.7M20.6 99.2h0.7M23.2 81.0h0.7M28.7 56.6h0.7M19.6 71.0h0.7M21.8 69.0h0.7M19.8 73.8h0.7M21.4 61.5h0.7M26.2 70.4h0.7M18.1 66.2h0.7M25.9 72.2h0.7M21.1 78.6h0.7M21.4 57.4h0.7M19.0 81.2h0.7M32.6 68.5h0.7M24.7 84.0h0.7M20.7 56.7h0.7M20.7 87.7h0.7M18.9 98.2h0.7M18.7 60.8h0.7M17.2 87.4h0.7M18.6 96.4h0.7M20.1 84.8h0.7M23.8 93.8h0.7M23.0 65.4h0.7M17.6 61.0h0.7M19.2 81.3h0.7M20.2 76.0h0.7M21.2 102.5h0.7M19.4 83.9h0.7M19.3 97.0h0.7M17.0 95.7h0.7M16.9 103.1h0.7M22.7 66.4h0.7M21.0 89.9h0.7M20.3 74.8h0.7M17.4 72.6h0.7M17.8 54.9h0.7M21.6 68.5h0.7M18.2 56.1h0.7M20.3 99.5h0.7M23.7 84.9h0.7M22.4 93.4h0.7M18.6 55.5h0.7M17.7 103.0h0.7M18.4 101.1h0.7M22.4 75.6h0.7M20.0 91.0h0.7M28.0 71.7h0.7M18.0 76.2h0.7M18.9 63.1h0.7M19.9 102.9h0.7M18.7 54.0h0.7M18.3 94.3h0.7M20.9 67.2h0.7M19.0 55.7h0.7M19.9 103.1h0.7M23.3 68.6h0.7M22.8 67.8h0.7M19.7 101.5h0.7M28.5 61.1h0.7M19.9 64.3h0.7M20.7 60.6h0.7M19.9 74.0h0.7M19.1 93.4h0.7M21.5 62.3h0.7M28.6 63.6h0.7M20.3 101.0h0.7M21.2 56.1h0.7M19.7 76.9h0.7M18.9 54.3h0.7M17.5 100.1h0.7M23.9 92.3h0.7M18.4 84.2h0.7M17.7 79.6h0.7M17.5 55.4h0.7M21.2 93.0h0.7M20.2 85.1h0.7M19.4 77.9h0.7M19.4 69.1h0.7M21.8 75.2h0.7M20.1 65.3h0.7M17.6 94.6h0.7M18.6 70.9h0.7M20.6 70.4h0.7M20.6 60.3h0.7M16.9 91.7h0.7M25.3 80.3h0.7M24.8 66.8h0.7M17.7 89.9h0.7M20.4 98.7h0.7M20.4 99.8h0.7M18.6 54.2h0.7M19.0 72.2h0.7M38.8 83.7h0.7M21.6 85.8h0.7M25.8 65.3h0.7M25.3 74.2h0.7M21.0 57.7h0.7M28.5 62.8h0.7M23.4 64.9h0.7M20.9 73.7h0.7M25.9 70.4h0.7M20.7 83.0h0.7M17.7 55.0h0.7M20.9 71.5h0.7M25.6 74.2h0.7M19.8 98.3h0.7M22.6 70.0h0.7M20.7 89.0h0.7M19.2 90.0h0.7M25.9 81.6h0.7M18.5 63.0h0.7M17.9 58.9h0.7M21.2 58.6h0.7M17.0 55.0h0.7M30.1 74.3h0.7M18.3 55.7h0.7M23.3 60.0h0.7M19.5 95.0h0.7M21.1 84.8h0.7M17.2 99.3h0.7M17.5 65.4h0.7M20.4 98.7h0.7M19.8 90.8h0.7M22.8 67.4h0.7M18.7 102.9h0.7M26.4 61.3h0.7M17.6 99.5h0.7M18.2 65.2h0.7M25.6 64.1h0.7M20.3 94.5h0.7M22.0 79.6h0.7M18.3 82.9h0.7M19.7 65.3h0.7M20.1 81.2h0.7M19.6 85.6h0.7M20.5 59.1h0.7M18.9 99.3h0.7M24.1 80.8h0.7M18.4 78.6h0.7M18.5 81.3h0.7M20.3 67.9h0.7M17.1 68.4h0.7M24.1 72.3h0.7M19.4 84.5h0.7M19.5 97.9h0.7M22.8 75.9h0.7M23.9 58.0h0.7M21.2 57.5h0.7M18.3 91.5h0.7M21.6 99.6h0.7M19.1 95.6h0.7M21.9 86.6h0.7M24.9 91.1h0.7M20.7 90.7h0.7M20.9 60.9h0.7M22.5 81.4h0.7M22.6 66.2h0.7M19.6 100.6h0.7M18.1 69.7h0.7M19.3 72.8h0.7M21.6 74.7h0.7M26.3 78.4h0.7M18.4 63.7h0.7M18.9 75.9h0.7M20.9 73.2h0.7M19.4 89.9h0.7M18.6 67.9h0.7M21.0 96.5h0.7M22.3 62.9h0.7M17.1 67.9h0.7M17.0 94.2h0.7M20.7 92.0h0.7M17.1 91.7h0.7M29.9 70.5h0.7M17.5 84.8h0.7M18.5 100.0h0.7M18.3 89.7h0.7M19.5 93.6h0.7M25.8 64.3h0.7M23.9 79.7h0.7M18.1 54.5h0.7M18.0 100.3h0.7M35.1 84.8h0.7M28.6 60.6h0.7M20.7 84.4h0.7M21.3 94.1h0.7M19.3 58.2h0.7M39.6 84.5h0.7M22.6 58.1h0.7M20.9 70.3h0.7M25.4 83.1h0.7M17.4 57.2h0.7M19.3 101.7h0.7M18.2 67.2h0.7M17.2 59.9h0.7M19.7 92.7h0.7M22.8 93.2h0.7M18.2 83.8h0.7M21.1 74.4h0.7M22.6 100.5h0.7M26.3 59.2h0.7M25.9 67.2h0.7M23.0 68.2h0.7M26.0 70.9h0.7M17.2 93.6h0.7M21.0 54.7h0.7M22.7 89.0h0.7M23.0 78.7h0.7M25.0 90.3h0.7M19.7 101.3h0.7M21.0 79.9h0.7M26.2 98.7h0.7M20.3 99.5h0.7M19.8 74.4h0.7M22.0 94.7h0.7M20.3 94.7h0.7M20.2 74.3h0.7M17.4 79.9h0.7M25.4 54.0h0.7M25.3 58.1h0.7M24.5 57.0h0.7M24.2 56.5h0.7M19.8 92.5h0.7M27.5 68.8h0.7M20.0 54.3h0.7M19.3 90.1h0.7M18.3 90.6h0.7M17.7 94.8h0.7M18.1 68.8h0.7M22.8 88.3h0.7M17.7 66.0h0.7M22.1 62.6h0.7M24.4 63.7h0.7M19.4 68.5h0.7M26.1 69.0h0.7M17.0 100.1h0.7M19.1 58.1h0.7M18.3 81.0h0.7M20.2 96.4h0.7M19.8 64.6h0.7M21.5 71.6h0.7M19.9 101.7h0.7M17.2 91.5h0.7M22.7 80.5h0.7M20.0 62.4h0.7M17.5 57.4h0.7M23.0 63.0h0.7M19.4 76.5h0.7M23.9 54.5h0.7M21.7 79.6h0.7M20.6 76.2h0.7M23.5 83.1h0.7M18.2 74.6h0.7M18.7 101.2h0.7M29.1 65.8h0.7M17.8 60.1h0.7M18.6 56.6h0.7M24.3 60.4h0.7M17.0 64.6h0.7M20.9 63.5h0.7M18.6 58.4h0.7M21.2 97.6h0.7M18.5 56.3h0.7M24.6 63.4h0.7M17.0 92.5h0.7M19.9 102.1h0.7M18.7 74.0h0.7M23.7 66.6h0.7M18.5 87.0h0.7M39.1 82.0h0.7M19.7 69.2h0.7M17.0 58.3h0.7M19.3 85.8h0.7M20.8 59.7h0.7M22.6 54.9h0.7M18.5 95.1h0.7M18.0 77.3h0.7M21.3 91.6h0.7M19.5 82.7h0.7M21.9 79.9h0.7M18.1 87.9h0.7M19.8 74.2h0.7M21.3 85.5h0.7M17.3 98.9h0.7M17.9 82.6h0.7M17.9 68.6h0.7M17.1 102.2h0.7M20.7 95.7h0.7" stroke="#222" stroke-width="0.7" stroke-opacity="0.8" fill="none"/>
<path d="M37.2 63.2h0.7M32.9 72.6h0.7M33.8 67.1h0.7M33.2 61.4h0.7M32.8 65.3h0.7M39.9 66.4h0.7M33.0 63.8h0.7M39.5 66.4h0.7M53.9 60.8h0.7M43.0 57.0h0.7M42.2 66.5h0.7M45.4 54.4h0.7M35.7 50.8h0.7M42.5 60.2h0.7M38.0 74.8h0.7M33.4 80.8h0.7M36.6 79.4h0.7M39.1 54.5h0.7M34.5 72.8h0.7M56.3 60.6h0.7M36.7 51.4h0.7M41.0 63.5h0.7M39.5 56.7h0.7M38.9 66.9h0.7M34.5 66.7h0.7M38.2 61.9h0.7M36.7 57.9h0.7M33.6 66.0h0.7M38.0 64.2h0.7M41.9 74.0h0.7M35.1 62.9h0.7M36.2 47.5h0.7M41.3 52.2h0.7M34.0 54.8h0.7M37.6 65.6h0.7M34.9 56.4h0.7M44.7 65.9h0.7M37.7 67.5h0.7M36.7 81.6h0.7M45.3 67.6h0.7M35.5 57.3h0.7M40.2 69.4h0.7M43.2 62.8h0.7M34.6 72.4h0.7M32.7 57.6h0.7M45.0 69.6h0.7M38.5 55.3h0.7M42.4 70.8h0.7M32.6 60.0h0.7M39.8 79.3h0.7M46.4 67.6h0.7M48.1 70.6h0.7M37.3 60.9h0.7M36.0 54.9h0.7M35.3 88.6h0.7M39.5 65.4h0.7M41.8 50.3h0.7M41.0 82.1h0.7M38.6 68.3h0.7M33.7 59.7h0.7" stroke="#b0b0b0" stroke-width="0.7" stroke-opacity="0.8" fill="none"/>
<rect x="16.9" y="43.9" width="64.2" height="59.5" fill="none" stroke="#6a6a6a" stroke-width="0.9"/>
<line x1="32.6" y1="43.9" x2="32.6" y2="103.4" stroke="#6a6a6a" stroke-width="0.8"/>
<line x1="16.9" y1="89.2" x2="81.1" y2="89.2" stroke="#6a6a6a" stroke-width="0.8"/>
<text x="12.3" y="45.1" font-size="3.4" fill="#444">10<tspan font-size="2.6" dy="-1.2">4</tspan></text>
<text x="17.1" y="107.6" font-size="3.4" fill="#444">10<tspan font-size="2.6" dy="-1.2">0</tspan></text>
<text x="12.3" y="60.0" font-size="3.4" fill="#444">10<tspan font-size="2.6" dy="-1.2">3</tspan></text>
<text x="33.1" y="107.6" font-size="3.4" fill="#444">10<tspan font-size="2.6" dy="-1.2">1</tspan></text>
<text x="12.3" y="74.9" font-size="3.4" fill="#444">10<tspan font-size="2.6" dy="-1.2">2</tspan></text>
<text x="49.2" y="107.6" font-size="3.4" fill="#444">10<tspan font-size="2.6" dy="-1.2">2</tspan></text>
<text x="12.3" y="89.7" font-size="3.4" fill="#444">10<tspan font-size="2.6" dy="-1.2">1</tspan></text>
<text x="65.2" y="107.6" font-size="3.4" fill="#444">10<tspan font-size="2.6" dy="-1.2">3</tspan></text>
<text x="12.3" y="104.6" font-size="3.4" fill="#444">10<tspan font-size="2.6" dy="-1.2">0</tspan></text>
<text x="81.3" y="107.6" font-size="3.4" fill="#444">10<tspan font-size="2.6" dy="-1.2">4</tspan></text>
<text x="22.8" y="37.4" font-size="8.7" fill="#111" stroke="#111" stroke-width="0.3" text-anchor="start" textLength="19.6" lengthAdjust="spacingAndGlyphs" >iDCs</text>
<text x="20.0" y="58.6" font-size="8.7" fill="#111" stroke="#111" stroke-width="0.3" text-anchor="start" textLength="8.8" lengthAdjust="spacingAndGlyphs" >72</text>
<text x="62.6" y="58.6" font-size="8.7" fill="#111" stroke="#111" stroke-width="0.3" text-anchor="start" >5</text>
<text transform="translate(9.1 91.6) rotate(-90)" font-size="8.7" fill="#111" stroke="#111" stroke-width="0.3" textLength="26.4" lengthAdjust="spacingAndGlyphs">CD11c</text>
<text x="23.5" y="116.4" font-size="8.7" fill="#111" stroke="#111" stroke-width="0.3" text-anchor="start" textLength="22.3" lengthAdjust="spacingAndGlyphs" >CD86</text>
<path d="M33.9 186.4h0.7M35.5 183.5h0.7M35.7 173.9h0.7M46.6 181.6h0.7M55.0 184.0h0.7M46.5 187.1h0.7M41.3 174.0h0.7M31.8 168.0h0.7M46.2 180.9h0.7M57.6 172.9h0.7M41.4 187.0h0.7M24.0 190.4h0.7M46.2 173.0h0.7M52.7 174.4h0.7M32.5 187.5h0.7M29.5 179.5h0.7M32.8 186.5h0.7M40.1 182.5h0.7M52.3 173.6h0.7M24.8 181.6h0.7M35.9 175.6h0.7M53.1 172.6h0.7M44.6 174.4h0.7M33.4 185.4h0.7M37.2 193.0h0.7M40.1 180.5h0.7M49.9 174.6h0.7M39.8 178.9h0.7M48.0 176.0h0.7M36.5 183.1h0.7M55.9 184.0h0.7M44.7 185.3h0.7M33.3 179.0h0.7M36.3 184.1h0.7M44.2 175.6h0.7M39.8 182.9h0.7M57.5 178.7h0.7M31.2 176.7h0.7M44.3 179.5h0.7M57.8 182.1h0.7M54.6 179.5h0.7M40.2 178.1h0.7M41.3 180.9h0.7M40.5 177.9h0.7M31.5 177.6h0.7M46.0 186.9h0.7M62.8 173.1h0.7M40.4 179.7h0.7M28.5 158.4h0.7M41.5 177.0h0.7M53.6 183.5h0.7M47.1 182.1h0.7M49.0 181.7h0.7M25.2 173.1h0.7M35.4 182.6h0.7M49.4 184.8h0.7M35.6 171.7h0.7M52.8 179.0h0.7M36.3 190.6h0.7M30.4 173.6h0.7M53.6 171.5h0.7M53.8 178.8h0.7M47.0 188.1h0.7M48.8 182.8h0.7M42.3 189.3h0.7M30.2 177.4h0.7M23.0 181.6h0.7M42.8 189.2h0.7M35.5 183.0h0.7M46.2 180.9h0.7M42.0 181.5h0.7M39.9 175.5h0.7M47.1 167.4h0.7M48.6 181.5h0.7M38.7 178.5h0.7M26.7 183.7h0.7M44.9 179.0h0.7M41.6 180.3h0.7M33.7 180.2h0.7M55.6 167.5h0.7M38.8 178.1h0.7M53.4 183.8h0.7M43.1 175.0h0.7M48.4 180.7h0.7M46.5 183.6h0.7M44.6 175.9h0.7M36.5 183.6h0.7M54.9 183.1h0.7M41.7 178.0h0.7M44.5 172.2h0.7M29.3 168.3h0.7M43.2 180.5h0.7M57.1 170.7h0.7M27.0 174.8h0.7M34.8 170.5h0.7M35.4 182.5h0.7M52.6 178.8h0.7M55.4 175.4h0.7M38.2 173.2h0.7M61.3 186.2h0.7M55.6 180.2h0.7M46.1 174.4h0.7M20.8 179.2h0.7M48.1 183.8h0.7M17.3 181.2h0.7M45.8 189.1h0.7M49.9 183.3h0.7M41.5 174.4h0.7M41.1 181.5h0.7M46.0 184.2h0.7M51.2 185.3h0.7M39.3 174.4h0.7M35.5 178.8h0.7M52.0 172.8h0.7M39.9 186.3h0.7M57.0 175.0h0.7M34.7 172.5h0.7M45.8 176.3h0.7M47.3 184.8h0.7M41.5 179.4h0.7M42.9 176.2h0.7M50.9 171.7h0.7M33.7 185.9h0.7M43.5 187.4h0.7M51.9 187.5h0.7M57.8 176.2h0.7M44.4 166.1h0.7M46.6 180.1h0.7M49.1 180.6h0.7M62.2 176.1h0.7M35.8 183.4h0.7M37.0 185.1h0.7M37.0 188.6h0.7M51.4 173.7h0.7M38.1 173.1h0.7M58.1 187.8h0.7M45.1 170.3h0.7M45.0 188.3h0.7M33.4 176.9h0.7M33.0 186.8h0.7M50.8 190.3h0.7M47.1 186.4h0.7M43.0 183.8h0.7M51.3 179.3h0.7M56.6 185.3h0.7M44.5 181.0h0.7M45.7 182.5h0.7M44.8 182.3h0.7M46.3 186.8h0.7M34.4 178.9h0.7M56.1 177.2h0.7M24.0 180.0h0.7M37.6 189.8h0.7M49.7 167.7h0.7M44.9 178.5h0.7M50.6 175.0h0.7M32.4 174.9h0.7M48.7 177.2h0.7M64.3 183.4h0.7M59.3 175.8h0.7M40.2 175.0h0.7M33.7 181.4h0.7M54.0 174.9h0.7M43.1 187.5h0.7M52.3 180.8h0.7M54.5 171.3h0.7M44.9 190.6h0.7M48.9 175.0h0.7M43.8 171.5h0.7M53.4 196.3h0.7M52.8 178.7h0.7M32.0 186.6h0.7M41.6 171.2h0.7M30.9 180.7h0.7M68.2 179.3h0.7M44.7 177.2h0.7M54.7 183.8h0.7M57.9 166.4h0.7M64.3 178.9h0.7M59.4 174.6h0.7M37.6 177.7h0.7M40.9 176.2h0.7M35.3 185.9h0.7M45.6 174.0h0.7M55.0 188.0h0.7M31.3 182.0h0.7M36.1 176.3h0.7M42.4 178.8h0.7M59.0 184.6h0.7M37.1 180.7h0.7M44.0 171.7h0.7M57.2 184.8h0.7M24.4 188.1h0.7M49.1 173.7h0.7M38.3 178.7h0.7M44.3 171.0h0.7M47.1 180.4h0.7M56.3 175.1h0.7M31.2 183.5h0.7M35.7 184.9h0.7M56.7 173.9h0.7M39.0 182.5h0.7M52.8 183.4h0.7M48.7 172.9h0.7M48.2 183.0h0.7M50.9 188.3h0.7M47.5 185.2h0.7M39.7 183.2h0.7M58.8 172.4h0.7M48.5 181.6h0.7M34.9 172.8h0.7M25.0 188.8h0.7M45.6 179.4h0.7M50.5 179.7h0.7M36.7 181.4h0.7M33.6 179.6h0.7M47.9 176.0h0.7M53.9 178.9h0.7M35.3 179.8h0.7M59.0 177.6h0.7M26.0 173.5h0.7M61.3 179.0h0.7M29.4 178.8h0.7M42.7 172.8h0.7M52.1 174.9h0.7M59.0 176.6h0.7M29.0 181.3h0.7M34.4 182.8h0.7M41.0 184.5h0.7M44.6 185.0h0.7M47.9 181.4h0.7M39.4 183.7h0.7M24.5 185.2h0.7M56.4 174.1h0.7M40.5 173.5h0.7M54.6 178.1h0.7M27.2 167.6h0.7M30.1 175.2h0.7M50.6 189.2h0.7M36.5 174.7h0.7M60.4 174.1h0.7M34.1 187.8h0.7M44.6 186.6h0.7M35.4 184.7h0.7M38.5 182.2h0.7M53.9 173.7h0.7M45.1 178.2h0.7M46.3 182.9h0.7M31.4 179.7h0.7M48.3 180.6h0.7M35.2 187.3h0.7M37.3 177.9h0.7M44.8 179.4h0.7M57.7 178.0h0.7M53.3 173.3h0.7M40.5 186.9h0.7M35.9 175.1h0.7M57.7 177.0h0.7M53.3 179.3h0.7M41.6 172.6h0.7M43.3 193.0h0.7M53.9 185.0h0.7M43.5 182.5h0.7M33.4 174.7h0.7M55.4 181.6h0.7M40.8 154.3h0.7M40.9 183.8h0.7M60.3 183.9h0.7M52.7 174.3h0.7M41.4 183.8h0.7M55.7 171.9h0.7M37.6 192.3h0.7M66.1 178.3h0.7M53.9 177.1h0.7M39.6 168.4h0.7M32.3 190.2h0.7M43.8 179.5h0.7M48.9 178.9h0.7M44.3 186.4h0.7M39.4 175.5h0.7M47.5 172.2h0.7M46.5 183.2h0.7M50.1 171.9h0.7M50.6 174.5h0.7M32.3 187.2h0.7M54.0 173.7h0.7M38.6 190.2h0.7M39.7 181.5h0.7M54.1 187.4h0.7M42.2 190.5h0.7M45.1 183.7h0.7M42.4 177.9h0.7M46.8 173.5h0.7M41.2 177.9h0.7M45.4 177.6h0.7M51.7 172.2h0.7M36.2 184.4h0.7M37.8 184.7h0.7M49.1 173.5h0.7M49.3 175.8h0.7M51.7 173.8h0.7M49.9 185.2h0.7M47.9 186.2h0.7M57.2 175.1h0.7M48.2 183.9h0.7M52.8 175.8h0.7M49.7 177.2h0.7M40.5 188.6h0.7M36.1 183.8h0.7M53.0 169.3h0.7M36.4 168.6h0.7M25.6 181.6h0.7M56.0 194.7h0.7M47.3 181.5h0.7M45.7 184.3h0.7M48.8 168.4h0.7M44.2 185.1h0.7M47.1 173.2h0.7M31.7 182.5h0.7M39.6 183.7h0.7M36.9 176.9h0.7M53.0 182.4h0.7M52.6 181.8h0.7M59.1 175.0h0.7M39.1 181.0h0.7M46.8 172.5h0.7M29.2 186.1h0.7M34.3 182.7h0.7M38.8 173.4h0.7M34.9 188.2h0.7M33.4 190.7h0.7M43.5 175.7h0.7M49.3 181.1h0.7M41.0 182.9h0.7M32.7 186.8h0.7M48.5 174.3h0.7M66.2 173.3h0.7M46.5 168.3h0.7M39.8 179.9h0.7M35.2 178.1h0.7M31.3 172.2h0.7M38.9 177.3h0.7M49.0 187.0h0.7M44.6 176.4h0.7M30.5 177.7h0.7M56.6 178.2h0.7M49.9 187.4h0.7M45.8 184.8h0.7M27.2 178.5h0.7M44.5 181.7h0.7M45.5 185.2h0.7M38.3 186.2h0.7M54.6 186.3h0.7M64.8 176.0h0.7M48.0 167.5h0.7M36.1 176.2h0.7M38.3 173.0h0.7M41.0 175.2h0.7M40.4 175.8h0.7M57.8 173.6h0.7M36.7 174.7h0.7M49.2 180.0h0.7M51.6 187.2h0.7M41.1 179.4h0.7M45.3 177.5h0.7M50.8 182.7h0.7M46.0 189.5h0.7M32.0 181.5h0.7M41.1 171.4h0.7M46.0 179.5h0.7M39.0 178.7h0.7M39.1 183.5h0.7M59.2 180.4h0.7M51.2 175.1h0.7M35.2 178.7h0.7M46.0 180.5h0.7M41.2 180.3h0.7M57.0 166.9h0.7M45.1 180.2h0.7M57.5 175.2h0.7M51.0 163.9h0.7M45.9 162.6h0.7M47.4 182.3h0.7M53.1 172.1h0.7M47.7 183.7h0.7M39.5 188.8h0.7M53.6 182.4h0.7M41.3 186.6h0.7M55.6 176.1h0.7M49.0 187.4h0.7M47.9 179.6h0.7M43.5 182.3h0.7M39.6 183.0h0.7M46.5 185.4h0.7M35.3 173.4h0.7M35.7 179.2h0.7M45.6 170.0h0.7M59.7 175.4h0.7M51.8 190.7h0.7M38.5 186.3h0.7M38.4 178.9h0.7M35.7 186.8h0.7M39.9 179.6h0.7M25.7 184.9h0.7M52.0 167.0h0.7M37.7 175.6h0.7M53.2 175.9h0.7M48.6 180.9h0.7M34.1 177.6h0.7M51.6 176.3h0.7M22.2 193.7h0.7M35.4 187.7h0.7M47.0 174.5h0.7M45.8 185.0h0.7M30.7 183.8h0.7M31.7 174.0h0.7M47.0 178.6h0.7M39.4 193.3h0.7M56.3 184.9h0.7M44.6 188.1h0.7M33.9 174.5h0.7M36.5 194.5h0.7M48.1 163.1h0.7M40.7 177.1h0.7M55.6 171.0h0.7M55.5 174.3h0.7M39.9 177.9h0.7M40.4 171.5h0.7M31.2 182.9h0.7M52.7 174.6h0.7M42.8 182.1h0.7M40.7 184.8h0.7M50.3 179.5h0.7M42.4 183.3h0.7M39.7 175.1h0.7M30.3 180.7h0.7M53.1 180.9h0.7M47.8 176.0h0.7M43.1 180.6h0.7M34.3 182.3h0.7M35.9 172.3h0.7M50.9 179.9h0.7M37.9 182.0h0.7M37.7 182.3h0.7M46.8 184.5h0.7M38.6 188.0h0.7M26.4 190.2h0.7M52.4 182.6h0.7M27.5 176.9h0.7M44.3 179.8h0.7M54.6 178.8h0.7M56.0 196.1h0.7M53.5 178.5h0.7M53.3 177.3h0.7M43.3 182.4h0.7M59.7 181.7h0.7M36.5 199.9h0.7M34.6 180.6h0.7M47.0 174.1h0.7M45.2 181.0h0.7M50.2 181.1h0.7M44.4 168.9h0.7M44.7 184.7h0.7M44.6 173.3h0.7M31.2 178.7h0.7M38.4 188.1h0.7M31.5 185.1h0.7M20.0 181.7h0.7M45.8 171.4h0.7M39.7 179.9h0.7M48.1 180.3h0.7M55.0 182.2h0.7M32.8 183.2h0.7M36.5 169.9h0.7M51.1 186.9h0.7M51.6 175.8h0.7M53.9 182.9h0.7M38.4 188.5h0.7M58.2 176.8h0.7M41.5 171.9h0.7M56.8 173.5h0.7M44.2 182.1h0.7M34.0 193.2h0.7M28.6 181.2h0.7M56.2 186.9h0.7M39.7 182.7h0.7M56.7 181.1h0.7M50.8 177.9h0.7M47.2 177.8h0.7M49.3 179.1h0.7M30.2 182.9h0.7M39.4 173.7h0.7M36.0 194.9h0.7M36.6 183.9h0.7M36.7 167.8h0.7M51.2 190.2h0.7M43.4 176.4h0.7M46.8 180.8h0.7M37.1 183.0h0.7M47.7 182.9h0.7M40.2 170.3h0.7M25.3 183.5h0.7M43.3 182.8h0.7M45.5 175.4h0.7M28.4 180.8h0.7M42.9 180.3h0.7M44.6 186.4h0.7M40.1 175.2h0.7M45.4 177.8h0.7M54.4 190.7h0.7M36.6 180.4h0.7M36.2 171.3h0.7M55.7 178.2h0.7M47.3 183.9h0.7M50.0 188.8h0.7M41.4 180.9h0.7M43.4 178.9h0.7M57.3 181.1h0.7M54.8 171.1h0.7M52.4 172.8h0.7M30.6 192.1h0.7M48.2 182.9h0.7M36.7 181.3h0.7M37.9 176.4h0.7M48.4 176.8h0.7M29.2 175.7h0.7M58.3 183.0h0.7M47.7 171.3h0.7M52.0 191.5h0.7M50.7 187.8h0.7M38.9 181.3h0.7M36.7 164.2h0.7M40.8 181.6h0.7M34.3 181.3h0.7M39.5 181.8h0.7M43.1 184.2h0.7M33.9 176.8h0.7M55.7 185.4h0.7M39.7 180.4h0.7M49.6 190.0h0.7M48.5 173.8h0.7M37.7 158.1h0.7M37.9 173.4h0.7M49.1 172.9h0.7M49.8 176.8h0.7M51.2 187.7h0.7M46.4 185.8h0.7M45.7 183.8h0.7M56.2 181.1h0.7M44.7 188.1h0.7M47.3 173.1h0.7M55.6 181.1h0.7M44.8 174.3h0.7M42.0 181.0h0.7M34.2 182.1h0.7M51.8 184.3h0.7M43.1 172.3h0.7M36.2 166.9h0.7M34.5 169.7h0.7M59.3 175.1h0.7M36.7 178.7h0.7M50.1 167.6h0.7M40.9 181.9h0.7M42.5 167.8h0.7M31.4 189.8h0.7M37.1 174.4h0.7M43.0 173.6h0.7M45.6 191.6h0.7M44.6 188.7h0.7M33.6 178.6h0.7M38.8 168.8h0.7M48.7 180.8h0.7M58.1 184.6h0.7M48.1 181.1h0.7M58.8 169.1h0.7M47.8 174.2h0.7M51.8 182.1h0.7M54.3 180.8h0.7M53.0 189.2h0.7M41.3 186.1h0.7M46.4 164.7h0.7M43.3 179.6h0.7M47.2 172.2h0.7M44.0 178.1h0.7M48.8 191.4h0.7M44.5 172.9h0.7M48.7 186.9h0.7M57.9 171.9h0.7M51.0 177.3h0.7M50.3 180.8h0.7M49.0 176.8h0.7M28.7 186.2h0.7M52.0 176.2h0.7M43.4 177.2h0.7M44.3 181.2h0.7M29.2 177.1h0.7M74.2 174.3h0.7M47.3 180.9h0.7M35.1 176.4h0.7M28.4 189.5h0.7M39.3 178.4h0.7M41.8 183.1h0.7M57.5 180.9h0.7M58.3 174.6h0.7M41.9 173.3h0.7M53.2 183.1h0.7M48.1 188.4h0.7M39.2 186.1h0.7M34.0 187.8h0.7M51.9 182.4h0.7M46.5 176.0h0.7M48.0 179.3h0.7M34.0 181.1h0.7M53.2 178.4h0.7M44.3 177.5h0.7M52.8 177.6h0.7M32.7 185.8h0.7M30.5 174.0h0.7M55.2 182.8h0.7M35.8 184.4h0.7M33.8 170.6h0.7M47.6 184.6h0.7M51.5 180.0h0.7M35.0 180.0h0.7M36.0 187.2h0.7M53.4 172.3h0.7M41.9 182.8h0.7M37.6 189.4h0.7M31.5 186.5h0.7M42.1 178.8h0.7M43.2 178.0h0.7M36.2 174.4h0.7M47.9 169.8h0.7M43.6 181.8h0.7M54.1 180.8h0.7M37.5 181.8h0.7M58.5 180.4h0.7M53.6 182.2h0.7M35.7 179.0h0.7M41.9 189.6h0.7M50.7 165.5h0.7M27.8 177.1h0.7M48.6 177.1h0.7M43.3 188.6h0.7M44.1 183.8h0.7M71.0 181.6h0.7M36.2 185.5h0.7M41.0 186.4h0.7M44.2 169.1h0.7M57.9 188.4h0.7M37.8 187.8h0.7M59.5 180.3h0.7M36.2 178.3h0.7M50.3 174.4h0.7M57.0 177.0h0.7M29.4 173.0h0.7M46.1 177.8h0.7M52.4 179.6h0.7M40.0 184.2h0.7M51.1 184.4h0.7M50.8 182.1h0.7M54.1 171.8h0.7M34.7 192.9h0.7M45.9 172.3h0.7M57.7 180.1h0.7M43.6 172.9h0.7M37.4 191.7h0.7M62.0 171.6h0.7M49.9 179.3h0.7M37.4 167.7h0.7M36.5 184.0h0.7M48.0 172.7h0.7M44.5 170.0h0.7M50.5 186.9h0.7M52.5 185.6h0.7M55.7 187.9h0.7M31.3 171.1h0.7M31.3 179.7h0.7M49.3 181.3h0.7M47.8 178.6h0.7M48.9 167.9h0.7M41.0 184.5h0.7M37.9 174.2h0.7M44.5 181.4h0.7M20.7 200.3h0.7M37.3 175.2h0.7M39.7 173.4h0.7M47.5 183.3h0.7M43.7 171.9h0.7M51.3 182.2h0.7M49.0 190.0h0.7M55.5 182.8h0.7M45.1 179.1h0.7M38.7 168.4h0.7M32.4 186.9h0.7M44.2 170.1h0.7M40.8 185.3h0.7M54.2 188.0h0.7M36.1 171.0h0.7M50.8 178.5h0.7M27.0 176.1h0.7M46.1 180.8h0.7M31.9 192.0h0.7M27.4 180.7h0.7M46.2 179.9h0.7M31.0 174.4h0.7M24.6 176.2h0.7M38.4 184.9h0.7M56.7 182.0h0.7M39.4 178.2h0.7M63.8 173.4h0.7M24.5 173.1h0.7M27.5 184.1h0.7M36.9 174.1h0.7M47.6 187.1h0.7M32.6 173.6h0.7M39.6 185.9h0.7M36.8 195.1h0.7M52.8 185.3h0.7M41.4 190.9h0.7M35.2 182.6h0.7M39.4 176.6h0.7M58.5 173.9h0.7M50.1 182.6h0.7M48.3 185.6h0.7M35.2 187.3h0.7M54.2 178.2h0.7M45.1 182.3h0.7M46.4 180.5h0.7M46.9 173.4h0.7M57.6 168.5h0.7M36.7 171.6h0.7M51.9 178.3h0.7M36.6 178.8h0.7M56.8 191.8h0.7M53.0 177.1h0.7M52.6 169.7h0.7M50.9 181.1h0.7M40.5 172.1h0.7M47.9 170.4h0.7M41.1 173.5h0.7M30.8 180.5h0.7M49.1 186.8h0.7M44.4 164.1h0.7M40.5 174.5h0.7M40.5 183.4h0.7M45.3 173.5h0.7M46.0 188.9h0.7M39.7 174.7h0.7M60.4 179.5h0.7M43.1 185.9h0.7M30.5 178.6h0.7M50.5 183.6h0.7M56.9 170.2h0.7M41.4 178.3h0.7M53.6 179.3h0.7M58.2 179.0h0.7M61.2 178.2h0.7M34.1 184.0h0.7M29.2 179.7h0.7M40.1 177.9h0.7M49.8 180.6h0.7M34.0 175.7h0.7M50.5 177.2h0.7M45.7 172.0h0.7M38.6 169.4h0.7M32.9 176.3h0.7M45.4 181.9h0.7M48.3 170.4h0.7M44.1 183.3h0.7M50.7 191.6h0.7M49.3 187.0h0.7M45.3 179.8h0.7M32.0 189.4h0.7M42.0 180.6h0.7M40.0 171.9h0.7M46.3 173.7h0.7M41.5 181.4h0.7M30.5 175.2h0.7M38.3 179.9h0.7M50.0 183.2h0.7M53.0 190.4h0.7M51.1 174.1h0.7M44.4 182.0h0.7M57.0 178.9h0.7M31.5 180.0h0.7M33.2 173.8h0.7M39.0 186.8h0.7M48.6 183.4h0.7M57.5 182.4h0.7M30.5 184.6h0.7M39.1 168.6h0.7M53.8 184.7h0.7M54.4 172.3h0.7M44.9 172.6h0.7M44.1 191.5h0.7M41.9 170.4h0.7M53.1 164.8h0.7M53.6 181.5h0.7M54.9 158.5h0.7M61.3 184.2h0.7M34.1 173.4h0.7M55.6 179.1h0.7M45.0 181.3h0.7M45.7 183.1h0.7M49.2 181.7h0.7M45.2 181.2h0.7M54.7 182.0h0.7M35.7 185.9h0.7M46.5 174.6h0.7M45.7 178.5h0.7M50.8 181.2h0.7M54.5 172.8h0.7M49.7 189.4h0.7M36.2 190.2h0.7M39.0 178.7h0.7M33.5 183.7h0.7M36.8 180.5h0.7M49.5 188.9h0.7M44.6 173.8h0.7M45.9 173.5h0.7M39.1 179.0h0.7M50.2 185.9h0.7M49.5 175.5h0.7M43.1 196.3h0.7M45.8 181.0h0.7M53.3 176.1h0.7M55.3 179.1h0.7M38.3 179.8h0.7M46.0 172.7h0.7M47.5 173.9h0.7M38.7 178.2h0.7M38.8 179.6h0.7M39.6 179.3h0.7M34.2 185.8h0.7M57.5 182.7h0.7M43.4 177.0h0.7M47.7 183.7h0.7M41.6 175.6h0.7M30.1 183.5h0.7M38.4 191.3h0.7M46.8 175.4h0.7M20.0 186.1h0.7M50.0 183.5h0.7M37.0 184.9h0.7M53.7 176.6h0.7M41.5 183.8h0.7M48.5 178.9h0.7M49.5 185.2h0.7M49.0 180.5h0.7M30.9 180.0h0.7M28.7 190.8h0.7M41.3 174.7h0.7M57.8 177.4h0.7M36.9 182.3h0.7M41.2 180.8h0.7M49.2 185.0h0.7M43.0 174.5h0.7M59.0 174.4h0.7M45.2 191.4h0.7M49.1 171.9h0.7M34.7 192.5h0.7M28.0 182.3h0.7M62.3 178.9h0.7M32.5 175.0h0.7M45.5 183.9h0.7M45.1 191.7h0.7M40.1 188.3h0.7M37.4 173.8h0.7M44.4 172.3h0.7M49.6 181.7h0.7M35.9 172.8h0.7M44.0 175.9h0.7M52.5 187.2h0.7M47.3 174.1h0.7M40.9 182.9h0.7M37.0 172.6h0.7M47.3 174.6h0.7M46.4 176.9h0.7M56.2 174.4h0.7M51.7 185.6h0.7M51.2 176.7h0.7M29.1 183.3h0.7M36.6 188.9h0.7M31.9 178.1h0.7M37.0 171.0h0.7M44.0 185.6h0.7M27.4 178.9h0.7M39.8 195.7h0.7M49.1 165.2h0.7M37.0 178.9h0.7M46.3 174.9h0.7M42.3 188.0h0.7M55.5 176.0h0.7M47.7 182.2h0.7M53.5 189.9h0.7M41.0 174.9h0.7M30.7 181.6h0.7M49.9 188.6h0.7M37.8 176.9h0.7M58.5 177.6h0.7M54.2 183.8h0.7M37.8 187.1h0.7M53.5 176.3h0.7M41.7 185.3h0.7M55.6 176.8h0.7M47.3 186.3h0.7M48.2 180.6h0.7M28.0 182.7h0.7M43.2 174.3h0.7M58.5 178.8h0.7M43.3 182.7h0.7M33.4 178.5h0.7M34.3 179.8h0.7M52.9 176.4h0.7M37.4 181.5h0.7M40.7 176.1h0.7M49.7 190.6h0.7M36.0 179.6h0.7M51.8 179.6h0.7M42.3 185.6h0.7M65.8 180.5h0.7M41.9 182.4h0.7M41.3 182.0h0.7M32.3 175.3h0.7M44.1 181.7h0.7M49.8 171.2h0.7M40.6 185.8h0.7M28.9 177.4h0.7M33.9 176.7h0.7M37.4 176.6h0.7M63.8 189.8h0.7M47.4 173.2h0.7M49.9 173.5h0.7M33.8 185.5h0.7M52.7 172.6h0.7M49.9 177.6h0.7M38.0 179.5h0.7M55.4 180.3h0.7M44.9 175.4h0.7M39.4 175.3h0.7M40.6 180.7h0.7M46.7 181.2h0.7M41.7 183.0h0.7M24.8 174.2h0.7M69.4 172.9h0.7M41.2 185.8h0.7M55.8 174.0h0.7M43.5 182.9h0.7M48.3 178.3h0.7M36.0 188.4h0.7M62.7 177.0h0.7M62.0 173.4h0.7M43.2 173.7h0.7M55.9 169.4h0.7M43.1 183.2h0.7M31.5 182.6h0.7M46.3 181.7h0.7M42.3 191.5h0.7M53.6 170.8h0.7M35.7 181.9h0.7M44.8 169.4h0.7M40.6 186.9h0.7M40.1 175.5h0.7M29.7 185.5h0.7M41.9 174.8h0.7M43.8 178.6h0.7M28.4 190.3h0.7M52.9 164.2h0.7M49.4 186.3h0.7M44.3 185.6h0.7M46.2 184.9h0.7M37.7 188.4h0.7M50.2 186.6h0.7M50.0 182.9h0.7M42.0 174.1h0.7M42.6 169.5h0.7M59.6 188.4h0.7M54.9 177.5h0.7M39.5 179.7h0.7M50.2 181.8h0.7M45.3 189.0h0.7M40.1 170.8h0.7M50.2 175.9h0.7M64.3 174.0h0.7M47.7 182.7h0.7M35.4 181.4h0.7M50.7 180.1h0.7M46.9 185.2h0.7M44.6 168.0h0.7M41.5 163.9h0.7M34.6 181.0h0.7M33.7 185.2h0.7M48.2 181.2h0.7M19.3 195.3h0.7M62.3 176.5h0.7M34.0 177.7h0.7M55.8 181.8h0.7M55.0 170.3h0.7M50.2 180.7h0.7M37.1 175.1h0.7M49.4 183.5h0.7M43.7 189.6h0.7M41.1 174.9h0.7M51.6 175.4h0.7M43.5 185.1h0.7M51.5 176.6h0.7M47.9 176.5h0.7M37.7 174.8h0.7M42.9 175.2h0.7M47.6 176.4h0.7M32.7 181.6h0.7M46.0 181.0h0.7M39.9 170.8h0.7M43.4 170.6h0.7M49.2 180.0h0.7M51.0 169.5h0.7M40.7 173.7h0.7M38.1 176.9h0.7M35.1 173.7h0.7M30.0 180.0h0.7M38.5 175.1h0.7M37.5 179.9h0.7M36.3 173.2h0.7M33.3 195.9h0.7M56.7 176.9h0.7M45.8 183.0h0.7M43.1 176.3h0.7M26.5 188.1h0.7M51.9 182.1h0.7M51.3 164.4h0.7M50.0 185.5h0.7M36.9 181.1h0.7M37.5 172.9h0.7M51.7 170.5h0.7M42.7 178.2h0.7M41.8 187.1h0.7M47.7 182.9h0.7M55.5 177.6h0.7M28.9 178.8h0.7M41.1 188.3h0.7M53.2 174.1h0.7M57.3 180.4h0.7M43.2 179.6h0.7M42.6 188.1h0.7M39.3 183.8h0.7M53.0 190.3h0.7M48.9 178.8h0.7M41.6 187.8h0.7M40.8 170.5h0.7M39.9 191.6h0.7M52.1 189.5h0.7M43.4 188.4h0.7M38.1 181.5h0.7M29.3 183.8h0.7M42.5 187.7h0.7M53.0 178.2h0.7M36.7 178.6h0.7M38.4 179.9h0.7M30.2 187.7h0.7M58.5 179.4h0.7M38.0 181.8h0.7M49.4 184.6h0.7M47.1 177.2h0.7M39.0 181.7h0.7M57.1 186.6h0.7M40.8 176.7h0.7M47.2 180.1h0.7M44.8 181.3h0.7M46.7 191.2h0.7M34.7 184.3h0.7M54.7 177.2h0.7M31.8 176.0h0.7M49.3 192.2h0.7M35.8 194.9h0.7M38.7 178.3h0.7M31.7 184.6h0.7M30.8 186.9h0.7M53.4 174.7h0.7M38.7 188.9h0.7M44.1 179.4h0.7M39.5 190.1h0.7M51.1 178.5h0.7M42.9 165.7h0.7M59.5 160.6h0.7M54.6 182.0h0.7M46.1 170.9h0.7M52.9 188.5h0.7M48.7 184.1h0.7M54.4 164.3h0.7M35.4 192.3h0.7M35.3 181.1h0.7M49.1 178.0h0.7M46.6 185.4h0.7M59.1 184.7h0.7M48.8 183.7h0.7M39.8 189.8h0.7M48.0 177.5h0.7M45.9 156.3h0.7M35.0 170.4h0.7M48.6 179.1h0.7M47.7 174.0h0.7M48.3 178.0h0.7M51.8 187.3h0.7M43.5 186.5h0.7M48.5 184.9h0.7M56.3 176.2h0.7M47.6 190.7h0.7M33.0 171.7h0.7M30.3 185.3h0.7M43.8 184.4h0.7M47.4 178.4h0.7M37.5 169.2h0.7M56.2 181.1h0.7M45.1 181.5h0.7M41.2 183.2h0.7M41.9 179.9h0.7M51.7 181.4h0.7M42.3 179.8h0.7M40.6 171.1h0.7M52.6 181.5h0.7M53.0 187.1h0.7M48.2 176.9h0.7M39.1 185.1h0.7M42.8 176.4h0.7M33.7 180.2h0.7M34.7 183.6h0.7M37.6 172.5h0.7M43.1 186.0h0.7M38.1 179.9h0.7M36.1 174.6h0.7M44.9 172.2h0.7M40.2 179.8h0.7M43.9 188.6h0.7M41.2 171.0h0.7M36.6 175.6h0.7M31.1 161.1h0.7M42.9 178.1h0.7M53.0 194.6h0.7M47.6 182.2h0.7M37.6 181.9h0.7M55.5 178.2h0.7M39.0 190.2h0.7M53.8 179.5h0.7M50.9 182.9h0.7M45.8 180.0h0.7M44.2 180.3h0.7M33.1 194.8h0.7M46.7 181.2h0.7M64.8 182.3h0.7M44.9 176.9h0.7M35.6 178.0h0.7M45.3 169.3h0.7M42.8 170.8h0.7M54.9 177.5h0.7M42.7 168.1h0.7M26.6 186.6h0.7M51.9 181.1h0.7M47.6 187.1h0.7M41.2 177.7h0.7M28.3 179.4h0.7M43.6 184.1h0.7M30.6 177.1h0.7M57.0 182.5h0.7M41.0 173.4h0.7M48.6 172.8h0.7M45.5 176.1h0.7M28.7 184.8h0.7M36.4 172.0h0.7M44.4 186.3h0.7M40.7 174.5h0.7M54.4 171.7h0.7M50.2 179.3h0.7M48.6 193.7h0.7M42.6 185.4h0.7M62.8 171.4h0.7M55.6 166.4h0.7M48.9 189.8h0.7M41.1 182.5h0.7M50.7 186.5h0.7M38.9 180.8h0.7M27.6 182.4h0.7M36.1 188.4h0.7M44.9 177.8h0.7M42.3 182.5h0.7M40.4 179.3h0.7M56.6 180.0h0.7M29.8 185.2h0.7M49.7 178.7h0.7M23.8 179.5h0.7M54.0 172.9h0.7M35.0 173.3h0.7M42.8 184.9h0.7M60.8 179.0h0.7M45.1 184.6h0.7M49.3 168.9h0.7M37.8 190.5h0.7M29.7 181.0h0.7M36.9 178.8h0.7M44.2 185.9h0.7M25.5 171.4h0.7M39.2 176.1h0.7M47.3 179.1h0.7M37.9 176.5h0.7M39.3 194.7h0.7M32.6 177.1h0.7M44.1 182.9h0.7M28.8 187.0h0.7M40.6 188.4h0.7M38.7 175.3h0.7M37.1 180.9h0.7M43.7 178.9h0.7M48.9 174.9h0.7M44.0 171.0h0.7M46.2 190.5h0.7M55.6 174.9h0.7M44.4 186.4h0.7M39.2 175.9h0.7M43.6 174.8h0.7M48.1 176.6h0.7M26.2 177.0h0.7M50.2 196.3h0.7M52.3 170.3h0.7M39.0 179.0h0.7M47.3 178.8h0.7M45.8 189.9h0.7M54.5 177.8h0.7M50.1 172.3h0.7M30.2 176.3h0.7M42.9 185.9h0.7M48.4 171.4h0.7M39.2 185.1h0.7M37.9 186.3h0.7M51.2 174.4h0.7M46.5 184.8h0.7M39.5 185.4h0.7M46.6 184.5h0.7M30.0 176.9h0.7M42.9 188.5h0.7M55.8 182.7h0.7M46.8 177.5h0.7M40.8 163.8h0.7M38.8 169.4h0.7M34.4 177.1h0.7M52.5 174.7h0.7M45.8 182.8h0.7M44.0 176.5h0.7M53.7 183.7h0.7M42.5 180.6h0.7M41.1 188.5h0.7M23.4 175.8h0.7M45.7 177.2h0.7M37.3 190.4h0.7M47.8 170.9h0.7M48.8 166.0h0.7M42.2 177.1h0.7M61.4 179.4h0.7M31.7 175.5h0.7M42.6 181.8h0.7M49.5 186.7h0.7M50.0 178.8h0.7M57.2 175.7h0.7M55.2 173.2h0.7M35.0 188.1h0.7M56.7 173.1h0.7M37.8 174.0h0.7M41.1 184.4h0.7M52.4 180.2h0.7M32.9 184.0h0.7M36.5 186.8h0.7M41.1 176.5h0.7M40.9 174.3h0.7M48.0 182.0h0.7M51.9 176.3h0.7M48.7 170.4h0.7M37.8 174.6h0.7M47.9 175.1h0.7M56.3 173.0h0.7M53.9 185.8h0.7M54.5 173.0h0.7M35.1 166.6h0.7M34.4 177.7h0.7M34.9 186.2h0.7M50.1 182.1h0.7M55.6 169.2h0.7M28.9 180.7h0.7M37.7 173.5h0.7M47.6 177.9h0.7M30.5 176.3h0.7M49.9 170.8h0.7M48.9 172.8h0.7M61.8 179.0h0.7M33.0 182.4h0.7M57.2 183.4h0.7M44.5 172.1h0.7M47.9 171.9h0.7M46.7 174.5h0.7M31.5 179.4h0.7M32.1 191.1h0.7M37.8 175.7h0.7M38.4 169.6h0.7M34.3 189.4h0.7M34.3 181.3h0.7M39.3 172.3h0.7M59.8 176.2h0.7M48.4 192.7h0.7M48.4 182.2h0.7M42.3 181.8h0.7M46.4 181.4h0.7M43.1 182.6h0.7M56.1 177.4h0.7M41.2 169.6h0.7M56.8 184.9h0.7M36.6 169.3h0.7M44.2 186.3h0.7M38.6 174.8h0.7M54.8 163.8h0.7M44.7 185.6h0.7M59.9 165.7h0.7M25.4 192.0h0.7M39.1 193.4h0.7M60.4 176.5h0.7M35.6 178.6h0.7M51.1 169.8h0.7M45.8 170.5h0.7M53.6 179.9h0.7M48.9 181.3h0.7M30.1 184.4h0.7M38.4 177.6h0.7M53.2 182.4h0.7M48.3 183.5h0.7M38.4 181.2h0.7M61.8 185.5h0.7M35.5 177.4h0.7M30.2 175.9h0.7M33.6 172.0h0.7M47.7 175.6h0.7M46.6 186.3h0.7M46.8 183.3h0.7M36.5 180.6h0.7M35.6 188.7h0.7M32.8 176.7h0.7M46.5 168.6h0.7M52.2 189.0h0.7M41.9 181.5h0.7M48.8 187.1h0.7M61.5 173.3h0.7M45.6 179.0h0.7M50.1 176.6h0.7M44.6 191.2h0.7M38.7 183.1h0.7M32.8 187.5h0.7M50.2 180.7h0.7M46.0 179.0h0.7M45.9 177.5h0.7M48.8 174.4h0.7M39.5 182.6h0.7M33.7 181.4h0.7M39.9 169.7h0.7M49.5 177.9h0.7M41.6 174.8h0.7M44.9 192.0h0.7M35.6 178.8h0.7M17.1 183.6h0.7M53.1 187.5h0.7M49.9 174.2h0.7M35.7 183.9h0.7M44.3 183.1h0.7M45.1 185.6h0.7M27.6 177.5h0.7M57.1 185.7h0.7M67.2 177.3h0.7M29.6 174.6h0.7M36.5 168.1h0.7M52.6 181.0h0.7M44.5 179.3h0.7M36.4 196.4h0.7M56.0 179.8h0.7M51.5 170.9h0.7M34.8 178.8h0.7M40.5 185.9h0.7M41.3 179.1h0.7M51.6 185.0h0.7M44.4 177.2h0.7M33.8 176.3h0.7M37.9 179.1h0.7M55.3 183.3h0.7M46.5 188.5h0.7M51.3 184.8h0.7M43.6 184.2h0.7M27.9 181.3h0.7M54.5 177.4h0.7M49.1 179.0h0.7M40.3 175.2h0.7M44.5 178.0h0.7M40.6 185.6h0.7M32.5 180.2h0.7M45.3 192.8h0.7M48.1 177.7h0.7M45.9 170.3h0.7M42.5 173.2h0.7M37.6 183.9h0.7M54.8 175.8h0.7M49.5 169.0h0.7M38.5 180.6h0.7M53.4 180.1h0.7M45.0 178.4h0.7M49.3 184.0h0.7M54.8 177.4h0.7M34.2 188.2h0.7M29.6 186.6h0.7M35.0 185.4h0.7M52.5 177.9h0.7M47.8 180.9h0.7M43.7 182.1h0.7M50.3 191.6h0.7M41.1 174.2h0.7M56.4 184.2h0.7M28.1 165.8h0.7M31.8 176.1h0.7M57.6 175.1h0.7M40.0 182.3h0.7M49.7 184.2h0.7M48.6 178.3h0.7M23.2 180.3h0.7M52.9 179.5h0.7M41.4 184.5h0.7M45.2 174.1h0.7M36.8 184.3h0.7M47.8 174.7h0.7M39.4 189.0h0.7M40.0 182.0h0.7M42.7 175.0h0.7M47.0 190.8h0.7M35.9 183.1h0.7M50.1 188.2h0.7M29.9 182.1h0.7M37.6 178.6h0.7M45.9 178.5h0.7M35.0 184.6h0.7M38.5 169.1h0.7M47.4 181.5h0.7M36.8 177.8h0.7M57.1 181.5h0.7M46.7 162.1h0.7M45.1 170.9h0.7M35.8 171.1h0.7M52.1 175.4h0.7M24.5 174.6h0.7M35.1 193.6h0.7M43.1 192.2h0.7M55.6 184.3h0.7M30.4 176.6h0.7M51.0 186.0h0.7M44.8 174.8h0.7M37.7 171.3h0.7M33.3 169.5h0.7M45.2 171.5h0.7M49.9 176.8h0.7M42.2 183.9h0.7M51.9 180.2h0.7M44.5 180.5h0.7M36.6 186.3h0.7M37.8 185.4h0.7M45.3 169.4h0.7M57.2 185.8h0.7M36.6 184.4h0.7M30.9 176.0h0.7M54.4 186.4h0.7M47.6 180.2h0.7M39.1 178.2h0.7M38.7 177.4h0.7M55.9 180.4h0.7M53.5 194.0h0.7M48.4 181.5h0.7M50.5 182.0h0.7M51.7 164.0h0.7M59.1 190.3h0.7M49.1 183.3h0.7M43.7 190.5h0.7M50.2 182.7h0.7M37.2 188.9h0.7M61.7 162.0h0.7M42.1 172.4h0.7M49.6 175.2h0.7M36.5 183.0h0.7M38.8 175.5h0.7M48.3 178.2h0.7M53.6 169.5h0.7M33.2 178.5h0.7M29.3 173.5h0.7M37.2 171.1h0.7M48.0 178.7h0.7M37.1 180.6h0.7M42.2 191.3h0.7M39.6 174.0h0.7M30.9 189.8h0.7M70.4 180.8h0.7M48.8 184.0h0.7M37.1 186.9h0.7M50.7 180.7h0.7M42.1 182.2h0.7M32.5 192.1h0.7M43.5 175.8h0.7M46.7 178.3h0.7M39.9 177.6h0.7M48.5 182.2h0.7M49.1 178.8h0.7M35.6 185.5h0.7M46.1 178.6h0.7M44.6 193.1h0.7M46.5 186.7h0.7M46.9 184.7h0.7M46.0 170.8h0.7M28.5 196.5h0.7M61.3 170.5h0.7M45.4 171.6h0.7M29.4 191.3h0.7M47.9 181.6h0.7M35.6 179.4h0.7M48.2 184.8h0.7M61.3 182.1h0.7M33.1 176.8h0.7M52.6 189.7h0.7M47.4 179.2h0.7M38.2 180.9h0.7M47.0 177.5h0.7M55.0 176.8h0.7M51.2 181.4h0.7M58.4 178.4h0.7M44.6 179.5h0.7M39.3 186.5h0.7M31.2 169.9h0.7M43.3 178.7h0.7M43.4 171.2h0.7M41.1 181.7h0.7M50.1 181.2h0.7M55.3 174.8h0.7M48.9 175.5h0.7M52.5 187.2h0.7M54.1 181.1h0.7M33.0 183.2h0.7M39.0 181.8h0.7M46.4 180.7h0.7M46.7 179.3h0.7M50.2 171.5h0.7M48.8 191.2h0.7M32.2 172.8h0.7M50.6 184.4h0.7M42.5 174.2h0.7M35.0 181.8h0.7M47.2 188.2h0.7M42.2 181.8h0.7M47.8 177.8h0.7M35.2 173.5h0.7M35.6 177.9h0.7M22.8 172.7h0.7M28.2 180.0h0.7M61.0 177.8h0.7M45.6 188.2h0.7M42.9 176.5h0.7M58.8 168.9h0.7M38.8 170.2h0.7M45.2 183.4h0.7M49.4 178.0h0.7M43.9 179.1h0.7M53.1 180.7h0.7M55.6 186.2h0.7M41.8 181.8h0.7M48.3 187.6h0.7M49.0 182.7h0.7M31.6 184.9h0.7M46.8 191.7h0.7M42.5 178.8h0.7M36.1 180.9h0.7M35.2 173.5h0.7M46.4 176.9h0.7M50.2 181.9h0.7M40.6 172.0h0.7M56.9 167.9h0.7M49.4 179.1h0.7M58.7 179.0h0.7M17.5 169.0h0.7M38.0 172.5h0.7M62.5 185.3h0.7M48.2 179.0h0.7M41.2 178.2h0.7M41.0 188.9h0.7M33.2 164.8h0.7M44.8 184.6h0.7M53.9 179.3h0.7M38.8 178.4h0.7M32.3 179.8h0.7M58.9 183.0h0.7M45.5 186.2h0.7M58.4 170.8h0.7M48.4 190.8h0.7M36.0 166.6h0.7M48.5 167.4h0.7M39.7 179.9h0.7M46.8 173.8h0.7M53.6 186.2h0.7M34.2 184.7h0.7M43.0 181.9h0.7M42.3 187.8h0.7M26.2 181.3h0.7M41.3 176.1h0.7M52.9 181.3h0.7M47.5 187.8h0.7M45.1 177.8h0.7M41.7 174.9h0.7M45.5 174.2h0.7M44.3 169.3h0.7M54.5 169.8h0.7M43.4 166.5h0.7M51.1 183.1h0.7M51.6 184.6h0.7M37.7 185.7h0.7M38.5 186.0h0.7M58.1 184.6h0.7M42.0 175.2h0.7M54.8 176.8h0.7M51.2 174.2h0.7M62.3 177.8h0.7M39.9 183.1h0.7M50.8 185.0h0.7M49.7 186.1h0.7M38.7 177.7h0.7M39.7 176.1h0.7M45.9 179.5h0.7M47.7 173.0h0.7M38.4 183.4h0.7M54.4 186.2h0.7M33.4 183.4h0.7M51.5 184.7h0.7M44.5 176.1h0.7M46.5 188.7h0.7M48.9 183.0h0.7M48.2 178.7h0.7M46.2 183.9h0.7M37.7 166.9h0.7M43.4 191.7h0.7M33.9 183.0h0.7M49.9 188.1h0.7M28.4 178.2h0.7M32.5 187.7h0.7M49.8 184.2h0.7M44.3 169.9h0.7M50.5 171.4h0.7M52.8 176.9h0.7M61.3 178.5h0.7M35.2 191.3h0.7M25.8 182.1h0.7M60.0 185.3h0.7M44.6 191.9h0.7M52.7 173.8h0.7M40.2 174.7h0.7M48.6 171.4h0.7M45.3 175.3h0.7M39.2 171.2h0.7M48.4 181.5h0.7M35.1 172.1h0.7M42.6 174.9h0.7M48.1 182.8h0.7M58.7 175.8h0.7M56.0 189.9h0.7M33.0 186.2h0.7M36.7 188.7h0.7M53.3 190.2h0.7M42.2 185.8h0.7M61.8 180.0h0.7M37.1 184.0h0.7M45.1 173.2h0.7M49.6 175.7h0.7M42.9 180.8h0.7M51.9 179.2h0.7M44.1 175.7h0.7M47.0 186.2h0.7M43.6 182.4h0.7M42.9 182.7h0.7M45.5 177.5h0.7M48.5 170.2h0.7M38.9 186.2h0.7M43.2 180.5h0.7M45.3 184.1h0.7M37.5 177.8h0.7M39.0 184.3h0.7M37.7 173.7h0.7M61.9 160.2h0.7M34.6 176.1h0.7M53.0 170.4h0.7M60.0 173.7h0.7M47.9 165.5h0.7M50.0 176.6h0.7M57.4 181.5h0.7M60.3 173.2h0.7M49.2 172.4h0.7M38.1 185.1h0.7M23.3 189.5h0.7M56.6 180.3h0.7M44.5 182.3h0.7M49.4 178.3h0.7M40.8 187.2h0.7M32.2 184.9h0.7M53.9 178.7h0.7M51.8 180.3h0.7M51.5 174.3h0.7M44.4 174.9h0.7M44.0 182.4h0.7M47.6 183.5h0.7M49.2 175.5h0.7M40.1 174.9h0.7M31.4 183.7h0.7M46.6 183.2h0.7M41.8 186.6h0.7M40.4 177.9h0.7M33.9 183.4h0.7M43.5 173.4h0.7M49.3 190.7h0.7M36.4 192.8h0.7M51.2 171.2h0.7M40.4 172.9h0.7M28.7 173.4h0.7M42.9 177.6h0.7M56.7 178.7h0.7M46.1 181.1h0.7M39.5 184.2h0.7M51.5 181.1h0.7M52.1 187.8h0.7M55.3 183.1h0.7M60.0 189.5h0.7M43.0 175.3h0.7M24.2 183.4h0.7M41.5 178.3h0.7M38.0 173.3h0.7M52.0 188.6h0.7M39.0 175.4h0.7M41.6 192.0h0.7M54.7 192.6h0.7M43.1 176.9h0.7M30.5 176.7h0.7M50.1 171.6h0.7M33.0 189.8h0.7M44.6 187.6h0.7M40.8 178.5h0.7M31.7 189.1h0.7M29.5 186.3h0.7M44.8 178.7h0.7M43.0 181.9h0.7M44.5 185.4h0.7M35.6 186.1h0.7M69.2 183.4h0.7M32.2 170.7h0.7M47.2 174.9h0.7M45.1 177.1h0.7M35.5 178.7h0.7M50.6 185.3h0.7M50.5 176.4h0.7M45.3 182.1h0.7M33.5 182.2h0.7M38.1 175.1h0.7M51.1 172.1h0.7M32.0 165.1h0.7M46.9 176.9h0.7M35.9 176.3h0.7M35.9 183.6h0.7M27.6 184.3h0.7M38.5 175.7h0.7M43.9 183.0h0.7M34.0 180.1h0.7M40.8 189.9h0.7M40.9 189.3h0.7M42.8 186.5h0.7M36.2 180.9h0.7M52.9 172.6h0.7M46.2 179.9h0.7M45.6 184.1h0.7M39.4 190.5h0.7M59.3 166.5h0.7M59.2 179.8h0.7M49.0 178.7h0.7M39.7 179.1h0.7M54.4 170.1h0.7M69.3 180.5h0.7M43.4 187.8h0.7M41.7 174.6h0.7M25.8 183.7h0.7M50.2 166.1h0.7M40.7 172.7h0.7M50.9 184.2h0.7M36.6 167.0h0.7M37.0 171.4h0.7M53.3 177.6h0.7M39.5 186.6h0.7M44.3 173.9h0.7M51.4 170.1h0.7M44.1 174.3h0.7M40.2 177.7h0.7M41.7 185.3h0.7M53.4 176.8h0.7M35.6 181.4h0.7M33.0 169.0h0.7M45.3 176.2h0.7M36.6 180.0h0.7M53.1 175.3h0.7M38.2 183.1h0.7M41.9 183.5h0.7M38.8 182.5h0.7M46.1 179.4h0.7M48.6 185.1h0.7M45.2 179.8h0.7M52.5 168.8h0.7M51.5 182.0h0.7M54.5 180.8h0.7M58.3 193.3h0.7M42.0 181.0h0.7M33.7 174.1h0.7M54.9 166.6h0.7M38.8 167.4h0.7M31.2 176.2h0.7M45.2 170.8h0.7M49.6 182.8h0.7M43.7 183.4h0.7M38.7 189.3h0.7M41.5 174.0h0.7M39.0 178.6h0.7M41.1 171.3h0.7M29.3 181.2h0.7M37.0 184.7h0.7M35.8 187.0h0.7M43.8 178.4h0.7M47.9 182.5h0.7M37.1 180.6h0.7M37.2 181.3h0.7M50.8 184.2h0.7M47.0 181.5h0.7M54.9 186.0h0.7M49.0 176.5h0.7M39.3 178.8h0.7M32.3 181.9h0.7M47.5 179.3h0.7M43.0 176.5h0.7M45.0 177.4h0.7M67.6 187.6h0.7M28.4 180.9h0.7M44.3 169.8h0.7M29.8 179.6h0.7M60.7 181.9h0.7M37.4 183.1h0.7M46.2 173.0h0.7M50.6 179.4h0.7M43.1 178.4h0.7M40.6 171.6h0.7M59.2 175.0h0.7M53.4 187.6h0.7M49.6 173.8h0.7M50.7 189.2h0.7M43.3 174.8h0.7M38.5 183.2h0.7M49.2 181.5h0.7M49.0 185.7h0.7M41.7 184.7h0.7M57.3 184.7h0.7M45.4 170.8h0.7M42.0 183.7h0.7M55.5 184.5h0.7M35.9 180.5h0.7M35.2 180.8h0.7M45.7 179.4h0.7M42.5 180.2h0.7M36.5 183.3h0.7M56.2 175.0h0.7M50.3 188.6h0.7M35.1 179.5h0.7M39.0 181.3h0.7M50.1 186.7h0.7M55.3 177.9h0.7M45.6 172.0h0.7M47.2 163.0h0.7M44.2 170.8h0.7M43.7 179.5h0.7M62.0 179.3h0.7M38.4 177.6h0.7M29.9 173.4h0.7M30.6 170.4h0.7M29.8 176.6h0.7M52.7 192.8h0.7M44.5 188.0h0.7M37.1 185.0h0.7M46.6 189.0h0.7M51.5 177.5h0.7M44.0 188.0h0.7M45.4 186.6h0.7M47.3 179.5h0.7M28.1 182.8h0.7M40.8 181.7h0.7M44.3 178.4h0.7M40.0 187.0h0.7M60.9 179.9h0.7M34.2 176.9h0.7M39.5 184.6h0.7M41.3 170.5h0.7M54.0 182.1h0.7M32.9 163.5h0.7M43.1 186.9h0.7M33.5 179.1h0.7M53.9 167.6h0.7M36.9 180.1h0.7M41.5 183.4h0.7M31.6 163.0h0.7M46.9 173.1h0.7M50.4 177.2h0.7M39.1 171.1h0.7M44.8 180.4h0.7M53.7 168.1h0.7M46.5 169.0h0.7M33.3 178.8h0.7M62.6 172.0h0.7M49.0 180.5h0.7M51.1 177.7h0.7M39.5 175.3h0.7M41.1 179.9h0.7M50.8 172.6h0.7M27.6 184.1h0.7M52.0 178.4h0.7M50.3 174.3h0.7M51.2 179.8h0.7M53.2 181.1h0.7M54.3 170.3h0.7M47.6 190.6h0.7M33.0 192.6h0.7M33.9 172.8h0.7M53.2 179.8h0.7M45.8 177.1h0.7M48.6 178.4h0.7M41.4 195.4h0.7M49.7 185.0h0.7M54.8 179.3h0.7M39.1 182.6h0.7M44.6 177.6h0.7M41.8 174.0h0.7M44.7 184.5h0.7M63.8 174.5h0.7M51.9 168.3h0.7M43.1 172.8h0.7M37.6 175.6h0.7M46.4 189.6h0.7M53.5 172.5h0.7M28.5 176.4h0.7M48.8 180.0h0.7M39.1 174.3h0.7M50.8 186.0h0.7M45.2 173.2h0.7M49.4 177.2h0.7M46.6 187.1h0.7M51.2 182.0h0.7M51.5 175.2h0.7M41.7 183.4h0.7M34.4 182.8h0.7M47.1 189.3h0.7M42.9 177.4h0.7M50.0 193.9h0.7M31.3 180.0h0.7M50.1 188.3h0.7M44.6 175.9h0.7M54.2 181.1h0.7M37.2 178.8h0.7M41.3 175.9h0.7M59.3 179.0h0.7M44.8 173.7h0.7M30.1 183.7h0.7M40.9 184.2h0.7M38.7 188.5h0.7M52.5 172.4h0.7M37.1 178.5h0.7M49.7 181.9h0.7M52.7 179.0h0.7M40.7 167.1h0.7M66.4 176.2h0.7M52.9 198.5h0.7M43.3 183.1h0.7M54.9 186.6h0.7M44.5 171.5h0.7M54.1 170.9h0.7M49.8 174.8h0.7M47.7 178.9h0.7M35.5 180.7h0.7M57.9 164.6h0.7M26.5 179.9h0.7M33.5 176.5h0.7M57.1 170.9h0.7M37.9 175.0h0.7M34.6 182.1h0.7M63.4 179.7h0.7M49.5 165.9h0.7M40.4 179.9h0.7M40.5 191.0h0.7M40.4 185.7h0.7M40.3 184.6h0.7M43.8 177.5h0.7M43.1 188.9h0.7M40.9 178.3h0.7M45.4 179.2h0.7M46.7 171.5h0.7M28.6 177.0h0.7M41.9 178.5h0.7M53.3 184.2h0.7M35.1 183.7h0.7M34.6 178.7h0.7M27.8 169.8h0.7M36.7 186.5h0.7M55.3 182.6h0.7M34.7 187.5h0.7M44.9 174.8h0.7M31.8 186.6h0.7M32.2 182.7h0.7M32.4 184.1h0.7M29.8 179.9h0.7M39.7 176.2h0.7M38.4 189.5h0.7M34.2 173.2h0.7M41.7 188.9h0.7M26.9 177.4h0.7M54.9 168.6h0.7M48.5 182.9h0.7M35.5 196.3h0.7M36.7 181.0h0.7M51.0 185.5h0.7M58.0 181.9h0.7M50.8 185.1h0.7M49.1 175.3h0.7M44.4 177.5h0.7M41.3 184.2h0.7M40.3 171.3h0.7M38.1 178.6h0.7M34.5 190.4h0.7M40.1 196.0h0.7M51.5 186.8h0.7M35.0 177.4h0.7M52.5 183.8h0.7M37.0 184.3h0.7M39.5 183.2h0.7M43.3 183.5h0.7M54.7 178.8h0.7M60.7 183.3h0.7M70.9 183.4h0.7M36.7 182.2h0.7M45.1 178.8h0.7M42.8 187.8h0.7M40.1 184.2h0.7M27.5 181.3h0.7M45.2 182.4h0.7M39.5 186.8h0.7M44.5 187.2h0.7M37.2 180.6h0.7M32.1 182.5h0.7M36.8 177.3h0.7M36.7 175.6h0.7M33.2 167.5h0.7M38.6 182.0h0.7M39.4 182.7h0.7M51.3 186.8h0.7M44.7 180.7h0.7M48.2 178.5h0.7M45.1 184.6h0.7M44.6 174.6h0.7M40.0 182.6h0.7M36.5 186.7h0.7M44.9 184.3h0.7M38.1 181.5h0.7M52.8 189.3h0.7M42.4 171.1h0.7M60.5 176.7h0.7M44.2 179.4h0.7M29.7 188.4h0.7M39.1 185.8h0.7M36.0 164.9h0.7M42.9 190.0h0.7M47.4 179.2h0.7M43.6 182.4h0.7M42.6 183.1h0.7M45.5 185.3h0.7M48.9 183.1h0.7M42.3 176.6h0.7M31.7 185.6h0.7M52.0 192.8h0.7M30.3 172.5h0.7M59.9 196.0h0.7M43.7 179.4h0.7M28.4 179.8h0.7M41.8 176.3h0.7M37.2 177.6h0.7M42.1 182.0h0.7M40.0 173.4h0.7M37.2 185.1h0.7M31.2 186.4h0.7M43.5 169.5h0.7M43.4 168.6h0.7M47.2 183.4h0.7M39.4 182.3h0.7M35.3 183.3h0.7M28.4 188.3h0.7M39.7 179.4h0.7M35.4 162.7h0.7M44.1 179.2h0.7M43.2 180.1h0.7M37.4 178.3h0.7M46.8 181.3h0.7M45.1 173.1h0.7M30.1 176.1h0.7M38.0 188.2h0.7M43.0 186.4h0.7M41.0 183.1h0.7M33.0 180.5h0.7M61.1 171.5h0.7M44.6 183.6h0.7M37.7 174.5h0.7M41.6 179.5h0.7M39.0 178.0h0.7M48.4 174.0h0.7M53.5 177.4h0.7M34.4 176.7h0.7M44.2 181.8h0.7M52.0 174.9h0.7M34.9 173.7h0.7M36.1 176.5h0.7M50.3 176.3h0.7M58.5 181.4h0.7M47.3 173.6h0.7M33.5 183.5h0.7M42.6 184.2h0.7M51.5 184.4h0.7M35.9 185.0h0.7M42.7 184.3h0.7M49.3 177.8h0.7M34.0 183.5h0.7M28.8 181.2h0.7M27.1 190.8h0.7M57.0 193.5h0.7M52.4 173.4h0.7M30.3 187.9h0.7M47.6 171.3h0.7M51.6 189.3h0.7M44.8 174.5h0.7M41.7 169.4h0.7M38.2 180.5h0.7M47.2 181.2h0.7M32.8 167.2h0.7M44.1 175.7h0.7M47.8 179.6h0.7M50.9 197.6h0.7M49.0 168.0h0.7M49.8 179.5h0.7M38.6 181.3h0.7M42.7 187.7h0.7M56.5 195.4h0.7M35.0 205.2h0.7M61.3 178.7h0.7M43.5 179.2h0.7M57.8 176.0h0.7M39.1 190.8h0.7M52.2 168.2h0.7M55.5 171.5h0.7M42.0 185.6h0.7M46.9 178.5h0.7M36.7 181.6h0.7M35.7 179.8h0.7M47.5 183.4h0.7M42.4 170.8h0.7M40.0 168.0h0.7M61.2 185.1h0.7M49.2 182.5h0.7M49.2 181.0h0.7M42.4 180.7h0.7M32.7 190.3h0.7M28.8 192.8h0.7M41.0 174.7h0.7M43.7 172.3h0.7M39.1 181.3h0.7M44.1 183.8h0.7M48.0 188.7h0.7M58.8 179.5h0.7M32.3 188.5h0.7M41.3 190.9h0.7M39.9 187.1h0.7M54.3 172.7h0.7M40.2 178.8h0.7M42.9 183.0h0.7M32.0 183.8h0.7M43.5 178.9h0.7M56.2 178.6h0.7M35.2 183.8h0.7M53.1 182.5h0.7M53.1 177.6h0.7M46.4 181.5h0.7M34.8 180.7h0.7M48.5 172.5h0.7M35.6 180.4h0.7M37.7 181.5h0.7M53.9 179.5h0.7M50.5 187.3h0.7M50.8 168.5h0.7M37.1 179.9h0.7M32.4 180.2h0.7M45.4 182.8h0.7M49.8 187.9h0.7M48.0 179.6h0.7M27.8 184.7h0.7M46.5 169.4h0.7M39.6 178.3h0.7M56.2 184.4h0.7M32.9 184.5h0.7M45.9 191.0h0.7M45.0 181.7h0.7M42.8 179.1h0.7M49.1 179.6h0.7M43.6 168.9h0.7M35.6 180.0h0.7M38.8 187.5h0.7M50.9 186.8h0.7M45.0 179.4h0.7M47.2 184.7h0.7M38.9 180.9h0.7M50.3 189.1h0.7M49.1 171.4h0.7M41.2 183.9h0.7M47.4 176.2h0.7M51.8 175.7h0.7M41.3 172.8h0.7M46.6 173.5h0.7M36.9 173.9h0.7M55.1 193.7h0.7M38.1 170.4h0.7M34.9 184.7h0.7M49.5 175.6h0.7M55.1 178.8h0.7M58.8 184.3h0.7M53.7 183.8h0.7M39.6 180.3h0.7M40.1 175.8h0.7M36.5 187.9h0.7M38.1 186.0h0.7M35.3 173.8h0.7M47.0 177.1h0.7M45.9 172.3h0.7M46.9 185.4h0.7M34.4 188.7h0.7M38.9 177.1h0.7M39.6 186.7h0.7M57.0 180.6h0.7M31.0 176.5h0.7M41.7 176.8h0.7M24.3 179.0h0.7M48.1 179.0h0.7M42.8 184.9h0.7M41.4 182.5h0.7M44.8 182.7h0.7M36.6 171.7h0.7M47.0 170.5h0.7M51.1 177.8h0.7M37.9 187.0h0.7M45.0 178.0h0.7M53.4 185.7h0.7M51.6 181.3h0.7M39.3 179.9h0.7M46.4 178.2h0.7M66.1 177.1h0.7M46.0 173.7h0.7M23.0 171.6h0.7M45.9 186.9h0.7M55.0 182.4h0.7M42.7 181.1h0.7M48.2 170.0h0.7M38.2 169.7h0.7M51.8 186.7h0.7M55.9 176.4h0.7M35.9 173.8h0.7M22.3 189.3h0.7M35.3 182.9h0.7M40.3 190.2h0.7M51.5 180.9h0.7M47.9 182.1h0.7M36.9 172.1h0.7M43.9 172.2h0.7M39.9 176.2h0.7M34.2 177.9h0.7M49.9 188.6h0.7M26.6 181.6h0.7M57.8 181.0h0.7M47.3 172.2h0.7M30.6 182.0h0.7M47.8 183.4h0.7M41.5 180.3h0.7M31.8 186.9h0.7M32.7 194.3h0.7M46.7 181.0h0.7M36.3 176.6h0.7M39.5 180.8h0.7M37.7 183.1h0.7M57.1 187.6h0.7M55.8 179.4h0.7M54.1 187.0h0.7M57.0 178.2h0.7M41.6 175.7h0.7M36.2 176.2h0.7M38.2 183.0h0.7M33.8 184.4h0.7M44.4 192.7h0.7M48.4 185.2h0.7M44.1 168.6h0.7M52.2 185.0h0.7M43.7 180.4h0.7M33.7 184.7h0.7M32.8 184.1h0.7M39.7 179.3h0.7M60.3 180.9h0.7M39.0 177.8h0.7M49.5 182.6h0.7M43.1 165.6h0.7M42.5 178.8h0.7M49.0 169.1h0.7M47.3 167.8h0.7M49.0 176.0h0.7M54.0 183.7h0.7M36.0 180.5h0.7M30.9 168.2h0.7M45.8 183.8h0.7M50.2 182.9h0.7M55.8 173.0h0.7M47.0 194.0h0.7M43.2 177.0h0.7M56.4 183.8h0.7M52.3 182.5h0.7M45.0 176.1h0.7M54.2 178.7h0.7M44.6 183.9h0.7M37.2 182.0h0.7M52.9 169.7h0.7M48.1 171.3h0.7M35.9 183.4h0.7M61.8 174.7h0.7M49.8 173.6h0.7M45.1 189.1h0.7M47.0 169.1h0.7M59.0 179.4h0.7M34.0 179.0h0.7M39.3 180.8h0.7M45.4 177.1h0.7M50.1 175.0h0.7M44.8 187.4h0.7M39.1 180.3h0.7M58.2 175.4h0.7M45.0 180.0h0.7M48.5 180.8h0.7M47.8 173.9h0.7M31.0 169.6h0.7M44.9 167.4h0.7M37.9 183.3h0.7M36.4 175.3h0.7M54.9 184.3h0.7M45.7 190.5h0.7M51.0 172.3h0.7M51.5 169.1h0.7M38.5 183.4h0.7M32.6 182.1h0.7M54.2 183.8h0.7M53.3 177.4h0.7M47.7 183.2h0.7M45.5 173.7h0.7M20.1 185.0h0.7M48.3 190.8h0.7M40.4 180.1h0.7M42.0 175.5h0.7M58.0 179.3h0.7M49.4 173.5h0.7M48.4 178.4h0.7M35.7 180.3h0.7M53.7 184.4h0.7M47.8 176.8h0.7M31.5 185.7h0.7M38.6 173.2h0.7M28.0 188.7h0.7M49.6 179.5h0.7M40.0 189.0h0.7M38.9 185.6h0.7M33.5 181.5h0.7M44.3 185.4h0.7M56.7 177.0h0.7M51.6 180.5h0.7M44.8 173.0h0.7M47.3 177.7h0.7M49.7 172.1h0.7M45.9 186.4h0.7M38.9 191.6h0.7M47.6 178.6h0.7M46.2 185.4h0.7M21.3 176.3h0.7M35.3 173.2h0.7M41.3 175.7h0.7M40.9 176.6h0.7M19.9 183.8h0.7M44.9 194.5h0.7M32.9 182.3h0.7M43.0 177.9h0.7M31.4 169.4h0.7M41.7 171.5h0.7M40.6 186.0h0.7M57.7 187.3h0.7M36.8 178.7h0.7M52.2 181.0h0.7M49.1 175.0h0.7M53.7 176.8h0.7M40.9 180.2h0.7M42.0 179.7h0.7M45.3 169.1h0.7M57.2 175.1h0.7M40.7 186.2h0.7M40.6 166.3h0.7M53.0 169.5h0.7M38.4 180.9h0.7M46.4 174.7h0.7M45.6 186.1h0.7M36.3 184.5h0.7M44.1 177.4h0.7M47.6 176.5h0.7M50.5 186.3h0.7M34.4 180.1h0.7M48.8 179.3h0.7M44.2 170.9h0.7M47.9 196.2h0.7M35.2 176.8h0.7M45.0 184.0h0.7M55.0 184.2h0.7M31.2 183.2h0.7M38.4 178.0h0.7M40.5 176.8h0.7M58.4 178.3h0.7M37.2 183.9h0.7M36.7 187.8h0.7M41.9 177.2h0.7M40.7 177.8h0.7M50.0 190.2h0.7M45.0 184.8h0.7M49.6 178.4h0.7M35.6 177.7h0.7M47.5 189.0h0.7M26.4 185.1h0.7M52.4 179.0h0.7M41.4 184.2h0.7M39.6 175.6h0.7M25.7 184.0h0.7M43.5 174.6h0.7M48.0 180.0h0.7M35.5 177.4h0.7M51.7 179.1h0.7M35.0 188.9h0.7M47.1 192.3h0.7M47.0 174.4h0.7M56.2 171.0h0.7M49.9 190.1h0.7M39.1 176.3h0.7M40.9 167.0h0.7M23.0 191.2h0.7M56.8 168.7h0.7M42.9 178.7h0.7M52.1 171.7h0.7M33.1 184.3h0.7M48.3 183.6h0.7M42.3 169.9h0.7M42.8 189.7h0.7M31.9 175.2h0.7M38.9 183.9h0.7M42.7 183.2h0.7M46.2 192.0h0.7M52.4 189.6h0.7M38.0 179.7h0.7M31.9 173.2h0.7M57.2 197.6h0.7M51.8 178.4h0.7M28.5 187.3h0.7M30.5 177.7h0.7M51.9 188.0h0.7M42.8 182.4h0.7M44.5 182.3h0.7M46.5 177.1h0.7M50.7 171.0h0.7M36.2 193.6h0.7M45.0 174.9h0.7M53.9 175.7h0.7M56.9 183.8h0.7M38.6 183.2h0.7M30.8 185.1h0.7M43.1 176.4h0.7M50.3 175.9h0.7M48.1 178.2h0.7M41.4 171.3h0.7M51.7 186.9h0.7M37.0 185.1h0.7M40.2 189.0h0.7M44.4 171.3h0.7M51.2 166.7h0.7M52.6 171.6h0.7M49.7 179.9h0.7M51.1 187.5h0.7M56.0 182.4h0.7M51.6 179.5h0.7M38.8 191.6h0.7M25.6 184.4h0.7M40.9 190.9h0.7M45.5 181.4h0.7M57.9 185.6h0.7M36.3 184.1h0.7M31.0 176.4h0.7M45.9 174.0h0.7M36.1 180.8h0.7M48.3 173.8h0.7M49.0 176.5h0.7M43.9 194.1h0.7M38.7 180.1h0.7M40.9 182.9h0.7M37.4 196.3h0.7M41.3 171.8h0.7M47.7 189.2h0.7M51.7 184.6h0.7M48.8 190.8h0.7M45.9 174.3h0.7M44.8 172.1h0.7M55.1 178.9h0.7M39.5 183.5h0.7M56.6 172.5h0.7M33.4 176.4h0.7M51.4 180.9h0.7M24.1 177.0h0.7M39.6 172.9h0.7M41.4 186.7h0.7M48.5 183.9h0.7M49.8 184.1h0.7M50.3 187.6h0.7M22.3 191.6h0.7M55.1 183.1h0.7M28.7 175.9h0.7M48.5 191.9h0.7M54.3 187.0h0.7M38.5 178.3h0.7M38.4 188.2h0.7M66.4 177.1h0.7M33.0 179.6h0.7M45.2 176.4h0.7M58.3 177.8h0.7M45.1 180.8h0.7M47.1 174.3h0.7M41.6 184.3h0.7M31.2 190.3h0.7M47.9 161.4h0.7M49.8 180.2h0.7M34.6 164.7h0.7M27.1 183.5h0.7M46.4 176.1h0.7M42.8 181.0h0.7M46.2 179.3h0.7M53.6 185.1h0.7M36.5 177.1h0.7M40.3 188.6h0.7M43.4 173.2h0.7M23.7 183.9h0.7M44.4 192.4h0.7M56.0 176.1h0.7M50.1 178.1h0.7M48.5 173.3h0.7M66.0 170.2h0.7M34.9 181.1h0.7M59.6 175.7h0.7M62.8 183.5h0.7M65.7 174.8h0.7M41.0 182.8h0.7M39.9 179.4h0.7M58.5 177.6h0.7M47.7 188.7h0.7M47.6 174.5h0.7M33.9 177.2h0.7M47.6 172.3h0.7M45.4 181.2h0.7M45.7 176.1h0.7M40.7 180.9h0.7M29.2 177.6h0.7M37.8 173.3h0.7M68.3 179.9h0.7M32.1 175.6h0.7M42.5 177.6h0.7M40.7 179.5h0.7M37.5 177.4h0.7M29.2 183.5h0.7M55.6 166.0h0.7M27.2 175.9h0.7M33.2 184.5h0.7M55.0 180.4h0.7M30.1 178.0h0.7M38.1 173.7h0.7M54.6 178.0h0.7M42.3 188.1h0.7M39.2 184.2h0.7M46.0 184.2h0.7M43.4 177.9h0.7M26.1 173.4h0.7M53.4 181.4h0.7M60.0 172.5h0.7M50.7 176.7h0.7M43.3 172.3h0.7M55.8 182.6h0.7M39.7 181.7h0.7M40.6 179.0h0.7M47.0 176.8h0.7M54.6 175.6h0.7M37.0 173.4h0.7M47.2 177.0h0.7M42.1 167.6h0.7M49.6 190.4h0.7M40.9 179.3h0.7M35.5 175.2h0.7M41.1 189.1h0.7M31.2 177.7h0.7M41.3 182.2h0.7M59.6 179.1h0.7M53.5 179.4h0.7M44.5 181.6h0.7M39.8 183.3h0.7M48.3 184.9h0.7M39.1 172.9h0.7M41.8 179.4h0.7M57.7 184.5h0.7M51.3 183.4h0.7M41.6 188.0h0.7M40.9 177.9h0.7M42.8 171.2h0.7M40.9 178.9h0.7M32.5 184.7h0.7M52.2 180.9h0.7M46.2 184.5h0.7M50.2 175.2h0.7M34.4 184.2h0.7M21.8 180.6h0.7M49.3 187.1h0.7M39.5 175.9h0.7M43.0 178.6h0.7M37.9 178.1h0.7M34.5 187.3h0.7M45.0 182.9h0.7M43.2 179.5h0.7M37.1 170.8h0.7M50.6 171.7h0.7M57.1 178.1h0.7M41.9 179.7h0.7M37.4 180.9h0.7M49.6 175.9h0.7M34.2 184.3h0.7M57.2 181.3h0.7M52.0 188.0h0.7M24.8 186.4h0.7M52.4 176.8h0.7M44.8 177.7h0.7M52.1 178.1h0.7M50.9 185.5h0.7M46.0 189.5h0.7M59.2 182.9h0.7M42.1 171.9h0.7M48.5 172.2h0.7M36.9 185.1h0.7M34.6 173.1h0.7M36.0 191.6h0.7M43.5 186.9h0.7M32.6 181.2h0.7M36.6 178.1h0.7M40.1 164.7h0.7M43.6 180.2h0.7M48.0 172.3h0.7M52.9 178.9h0.7M49.7 171.5h0.7M45.7 186.0h0.7M22.0 182.7h0.7M43.5 175.6h0.7M45.4 188.6h0.7M41.5 184.3h0.7M33.9 185.2h0.7M57.2 177.3h0.7M38.8 184.2h0.7M37.7 191.6h0.7M47.3 178.7h0.7M38.0 187.5h0.7M58.0 179.7h0.7M28.2 183.6h0.7M40.8 179.8h0.7M53.8 183.9h0.7M27.2 191.1h0.7M49.2 184.6h0.7M34.0 167.0h0.7M50.6 176.6h0.7M53.7 178.0h0.7M47.1 174.9h0.7M39.2 191.1h0.7M43.0 179.1h0.7M49.6 176.2h0.7M55.9 181.7h0.7M40.6 169.9h0.7M50.9 186.5h0.7M38.9 176.4h0.7M32.2 172.6h0.7M48.0 184.8h0.7M28.8 182.0h0.7M50.4 181.4h0.7M45.4 180.1h0.7M32.9 183.6h0.7M47.7 182.2h0.7M46.3 179.6h0.7M57.1 169.9h0.7M50.3 167.0h0.7M52.6 167.6h0.7M44.6 183.7h0.7M57.7 177.6h0.7M32.4 175.5h0.7M48.4 200.0h0.7M32.4 184.5h0.7M38.2 185.0h0.7M37.4 176.6h0.7M65.7 178.6h0.7M53.4 180.6h0.7M49.7 191.1h0.7M41.8 169.0h0.7M35.6 176.9h0.7M25.8 179.0h0.7M40.3 187.2h0.7M51.7 174.0h0.7M34.6 176.6h0.7M43.0 170.0h0.7M44.6 168.5h0.7M52.9 186.5h0.7M54.4 178.0h0.7M35.1 196.5h0.7M60.6 173.7h0.7M37.7 184.1h0.7M55.9 180.1h0.7M37.8 182.2h0.7M56.8 183.4h0.7M44.2 172.9h0.7M32.5 180.8h0.7M44.8 161.8h0.7M35.7 190.7h0.7M47.8 191.1h0.7M41.5 167.6h0.7M45.3 184.3h0.7M42.8 172.9h0.7M54.0 185.3h0.7M54.1 187.9h0.7M30.1 179.0h0.7M51.9 184.9h0.7M48.4 180.8h0.7M56.4 173.6h0.7M34.9 183.0h0.7M33.5 180.8h0.7M37.9 188.6h0.7M46.6 180.2h0.7M48.5 177.5h0.7M41.1 187.5h0.7M42.2 181.5h0.7M38.9 168.0h0.7M41.1 188.4h0.7M23.1 179.9h0.7M48.4 196.1h0.7M43.3 186.1h0.7M43.2 182.3h0.7M45.1 188.9h0.7M39.8 183.8h0.7M50.8 185.3h0.7M39.7 179.9h0.7M40.5 168.7h0.7M54.3 178.7h0.7M47.7 181.4h0.7M49.5 197.4h0.7M50.8 176.6h0.7M50.9 166.1h0.7M32.6 184.9h0.7M38.5 164.5h0.7M35.0 186.2h0.7M45.4 178.8h0.7M34.8 181.7h0.7M43.8 175.9h0.7M35.8 172.8h0.7M42.8 172.7h0.7M38.6 180.0h0.7M37.2 184.4h0.7M40.4 161.5h0.7M40.8 186.2h0.7M55.7 175.8h0.7M40.8 182.5h0.7M43.8 186.4h0.7M24.7 192.8h0.7M40.7 180.0h0.7M33.8 173.7h0.7M52.0 178.0h0.7M42.5 183.7h0.7M64.4 183.9h0.7M32.0 185.3h0.7M32.5 170.2h0.7M52.2 175.9h0.7M39.9 180.3h0.7M49.8 179.4h0.7M51.2 168.3h0.7M46.2 186.9h0.7M44.8 190.3h0.7M46.7 180.6h0.7M50.2 186.3h0.7M49.0 183.5h0.7M40.6 185.7h0.7M46.7 179.1h0.7M40.8 178.1h0.7M45.2 170.8h0.7M67.0 170.7h0.7M41.1 181.9h0.7M30.0 164.3h0.7M52.6 185.6h0.7M39.4 173.6h0.7M48.4 182.8h0.7M44.1 172.2h0.7M43.7 174.8h0.7M51.0 184.0h0.7M45.2 174.2h0.7M48.2 182.4h0.7M51.6 176.9h0.7M50.0 183.4h0.7M61.2 175.5h0.7M35.1 182.0h0.7M30.2 174.2h0.7M42.7 172.0h0.7M42.5 182.2h0.7M56.8 190.1h0.7M30.8 179.0h0.7M47.0 177.2h0.7M56.8 187.8h0.7M40.2 174.9h0.7M48.6 175.0h0.7M42.5 184.5h0.7M38.2 174.7h0.7M34.8 185.2h0.7M25.4 186.6h0.7M53.5 180.7h0.7M39.6 171.9h0.7M31.7 180.0h0.7M39.9 182.0h0.7M62.6 174.9h0.7M45.3 181.0h0.7M43.5 180.0h0.7M40.4 188.9h0.7M34.2 183.9h0.7M48.4 182.0h0.7M38.5 179.2h0.7M35.4 181.3h0.7M37.1 181.2h0.7M51.9 172.1h0.7M42.9 172.5h0.7M48.9 180.5h0.7M39.8 174.3h0.7M49.3 186.3h0.7M48.8 187.1h0.7M43.7 186.5h0.7M45.1 186.7h0.7M49.0 169.8h0.7M38.1 170.9h0.7M49.9 183.6h0.7M44.8 186.6h0.7M51.5 181.1h0.7M39.9 177.5h0.7M52.9 174.1h0.7M39.6 181.2h0.7M36.8 190.5h0.7M55.7 184.7h0.7M37.2 180.1h0.7M57.1 181.4h0.7M41.6 173.5h0.7M38.8 181.9h0.7M46.0 183.7h0.7M56.0 175.3h0.7M44.4 180.8h0.7M31.5 190.8h0.7M37.3 179.2h0.7M48.4 175.0h0.7M29.9 178.8h0.7M35.9 187.4h0.7M44.9 191.4h0.7M44.5 175.0h0.7M48.7 179.5h0.7M44.4 184.3h0.7M49.3 185.7h0.7M42.8 182.9h0.7M43.3 178.2h0.7M39.0 176.9h0.7M53.0 181.7h0.7M47.6 177.7h0.7M57.0 165.7h0.7M31.9 180.1h0.7M42.2 185.5h0.7M48.8 184.1h0.7M41.5 186.3h0.7M41.5 175.4h0.7M48.8 173.4h0.7M47.3 176.8h0.7M34.6 178.4h0.7M39.8 183.6h0.7M49.2 184.2h0.7M38.7 169.7h0.7M51.7 172.0h0.7M49.6 184.3h0.7M47.6 179.9h0.7M53.3 177.8h0.7M57.6 175.9h0.7M48.8 186.2h0.7M46.3 175.1h0.7M40.5 186.2h0.7M36.6 182.3h0.7M40.2 180.3h0.7M51.5 182.3h0.7M40.1 182.5h0.7M42.4 185.4h0.7M38.6 174.9h0.7M59.6 193.9h0.7M42.8 182.5h0.7M31.2 185.1h0.7M43.6 176.3h0.7M22.9 198.3h0.7M41.5 188.4h0.7M47.6 171.5h0.7M40.1 185.9h0.7M50.6 174.1h0.7M44.4 186.7h0.7M61.8 177.5h0.7M46.8 177.8h0.7M49.5 174.0h0.7M40.5 174.2h0.7M52.3 165.4h0.7M49.1 183.7h0.7M42.5 179.9h0.7M35.8 177.6h0.7M53.7 175.8h0.7M26.9 177.8h0.7M57.4 177.9h0.7M39.6 185.5h0.7M50.3 179.3h0.7M32.1 170.8h0.7M56.0 174.3h0.7M49.1 189.6h0.7M63.5 173.2h0.7M41.4 183.2h0.7M47.4 175.7h0.7M37.2 178.0h0.7M36.3 176.0h0.7M50.2 178.7h0.7M42.9 170.6h0.7M34.7 182.2h0.7M41.9 178.2h0.7M43.2 184.3h0.7M34.9 190.1h0.7M51.3 184.1h0.7M51.2 187.4h0.7M30.7 175.0h0.7M43.3 168.4h0.7M46.1 182.4h0.7M51.0 190.4h0.7M42.0 180.1h0.7M44.4 200.4h0.7M57.2 176.0h0.7M36.8 174.5h0.7M60.9 188.9h0.7M47.7 185.0h0.7M45.9 176.7h0.7M46.0 179.1h0.7M60.7 171.7h0.7M38.5 176.5h0.7M38.0 185.3h0.7M44.8 184.3h0.7M39.6 169.9h0.7M51.3 185.6h0.7M35.8 175.1h0.7M47.1 176.0h0.7M61.5 174.1h0.7M32.0 183.6h0.7M48.3 176.9h0.7M45.4 181.8h0.7M59.8 171.4h0.7M54.2 180.5h0.7M35.1 190.0h0.7M54.2 186.0h0.7M55.7 169.1h0.7M58.1 175.8h0.7M54.3 181.6h0.7M51.4 183.3h0.7M41.4 178.7h0.7M39.4 180.6h0.7M47.7 187.4h0.7M44.7 186.8h0.7M43.1 185.5h0.7M41.8 180.5h0.7M33.1 179.4h0.7M23.1 178.0h0.7M53.6 176.6h0.7M48.6 181.0h0.7M45.0 182.0h0.7M48.0 185.1h0.7M37.5 172.3h0.7M43.8 180.1h0.7M45.7 189.0h0.7M42.7 183.9h0.7M41.4 170.7h0.7M53.4 173.4h0.7M37.7 183.6h0.7M41.8 180.5h0.7M37.8 173.9h0.7M39.6 183.5h0.7M43.3 174.4h0.7M43.3 187.5h0.7M40.6 176.0h0.7M49.1 198.2h0.7M42.6 172.0h0.7M42.9 183.5h0.7M31.4 175.4h0.7M45.5 172.9h0.7M48.1 178.0h0.7M40.9 182.6h0.7M52.2 176.3h0.7M49.0 173.1h0.7M46.0 185.5h0.7M46.2 182.8h0.7M40.5 170.5h0.7M44.7 166.7h0.7M37.8 171.7h0.7M38.4 178.1h0.7M54.8 179.6h0.7M36.9 175.4h0.7M44.2 176.7h0.7M41.5 185.3h0.7M40.6 179.5h0.7M42.8 184.3h0.7M47.8 169.8h0.7M28.5 183.0h0.7M38.7 177.1h0.7M37.1 193.5h0.7M33.9 187.7h0.7M57.7 182.7h0.7M47.1 177.4h0.7M48.1 184.5h0.7M37.7 176.0h0.7M45.2 179.1h0.7M42.3 185.5h0.7M44.7 170.8h0.7M38.2 174.2h0.7M54.6 181.8h0.7M39.1 180.6h0.7M41.0 170.3h0.7M39.3 193.2h0.7M56.5 188.4h0.7M53.4 176.9h0.7M45.7 186.4h0.7M42.4 177.0h0.7M38.8 173.6h0.7M34.4 184.2h0.7M39.9 190.1h0.7M43.5 172.1h0.7M36.8 177.5h0.7M64.2 173.2h0.7M49.4 182.1h0.7M51.9 182.2h0.7M32.8 187.5h0.7M36.8 178.9h0.7M39.0 186.2h0.7M45.5 185.7h0.7M44.5 178.2h0.7M46.1 177.0h0.7M55.3 188.0h0.7M41.8 181.0h0.7M28.6 181.0h0.7M48.0 187.2h0.7M52.8 178.0h0.7M43.4 184.6h0.7M52.4 172.9h0.7M49.3 172.2h0.7M37.6 171.2h0.7M53.1 169.6h0.7M44.3 174.7h0.7M52.5 178.8h0.7M41.8 180.1h0.7M50.8 190.2h0.7M32.5 176.2h0.7M55.7 177.3h0.7M40.6 191.1h0.7M56.0 180.4h0.7M46.0 176.6h0.7M29.4 185.9h0.7M37.0 178.2h0.7M29.6 186.0h0.7M57.1 170.5h0.7M42.4 185.6h0.7M54.3 181.0h0.7M50.3 175.2h0.7M58.5 175.4h0.7M42.8 183.9h0.7M32.7 177.3h0.7M41.9 172.0h0.7M52.1 172.0h0.7M37.4 186.4h0.7M50.4 176.1h0.7M45.8 178.4h0.7M33.2 188.9h0.7M27.9 184.7h0.7M50.1 187.1h0.7M53.1 174.2h0.7M38.3 178.3h0.7M51.0 177.0h0.7M38.1 185.6h0.7M55.2 165.9h0.7M55.4 170.7h0.7M36.6 180.8h0.7M43.3 175.9h0.7M38.3 169.6h0.7M28.7 176.9h0.7M46.4 183.0h0.7M24.6 180.1h0.7M50.9 169.1h0.7M51.6 187.2h0.7M54.7 177.7h0.7M32.2 192.1h0.7M51.5 182.0h0.7M34.7 171.9h0.7M35.1 180.4h0.7M41.4 176.8h0.7M43.3 169.9h0.7M43.9 185.4h0.7M40.4 184.8h0.7M57.1 182.4h0.7M51.1 182.1h0.7M41.6 178.4h0.7M40.1 188.0h0.7M45.1 181.1h0.7M63.3 176.2h0.7M50.0 169.6h0.7M48.7 183.6h0.7M49.5 190.0h0.7M36.2 177.7h0.7M50.1 177.2h0.7M46.7 171.6h0.7M44.2 186.0h0.7M37.2 186.1h0.7M39.7 177.4h0.7M42.7 174.8h0.7M36.0 184.6h0.7M40.9 187.7h0.7M59.2 178.0h0.7M33.6 173.4h0.7M41.4 180.6h0.7M54.8 177.2h0.7M44.7 188.5h0.7M39.6 192.2h0.7M39.9 186.3h0.7M49.2 190.4h0.7M42.8 186.1h0.7M39.6 178.2h0.7M42.0 176.3h0.7M32.5 181.0h0.7M48.2 167.8h0.7M42.8 175.9h0.7M51.0 171.2h0.7M56.6 191.3h0.7M29.7 181.4h0.7M45.8 170.0h0.7M45.5 179.3h0.7M53.3 191.3h0.7M52.5 171.6h0.7M21.9 169.1h0.7M58.9 176.0h0.7M45.7 178.8h0.7M47.2 182.8h0.7M39.4 179.7h0.7M34.4 186.4h0.7M49.2 170.7h0.7M35.3 181.1h0.7M31.9 189.4h0.7M37.1 174.4h0.7M50.0 179.5h0.7M40.8 174.7h0.7M45.5 174.5h0.7M52.9 172.3h0.7M48.9 179.1h0.7M47.0 169.0h0.7M44.0 171.9h0.7M48.2 177.8h0.7M40.0 181.4h0.7M46.0 177.9h0.7M53.7 184.0h0.7M40.4 171.3h0.7M48.5 182.7h0.7M30.1 187.6h0.7M47.6 181.2h0.7M32.4 182.0h0.7M28.5 187.4h0.7M43.6 176.6h0.7M44.3 171.6h0.7M43.9 180.4h0.7M40.6 176.9h0.7M55.3 184.2h0.7M38.3 167.3h0.7M36.9 192.1h0.7M45.8 186.2h0.7M38.5 181.3h0.7M32.9 169.8h0.7M22.6 180.4h0.7M47.5 177.5h0.7M28.4 176.2h0.7M51.7 180.6h0.7M53.8 179.6h0.7M32.7 180.9h0.7M43.1 165.1h0.7M47.1 180.6h0.7M36.4 169.3h0.7M30.4 180.8h0.7M50.5 176.1h0.7M48.5 191.4h0.7M36.6 174.4h0.7M38.4 183.3h0.7M44.9 186.9h0.7M58.0 185.3h0.7M42.0 175.9h0.7M43.1 180.3h0.7M48.9 177.7h0.7M37.1 181.6h0.7M45.4 181.2h0.7M47.6 169.8h0.7M37.3 174.5h0.7M37.2 181.4h0.7M33.4 175.7h0.7M34.4 182.3h0.7M65.2 189.6h0.7M55.8 179.5h0.7M40.8 184.6h0.7M49.7 186.0h0.7M35.4 188.3h0.7M36.6 173.7h0.7M49.5 181.2h0.7M69.7 182.9h0.7M35.8 174.0h0.7M29.3 184.4h0.7M35.6 183.3h0.7M32.7 186.9h0.7M48.7 178.0h0.7M54.7 170.4h0.7M52.9 186.8h0.7M47.4 178.1h0.7M54.0 170.5h0.7M38.5 178.7h0.7M47.6 185.1h0.7M49.7 191.7h0.7M68.7 181.5h0.7M46.7 183.5h0.7M44.9 173.6h0.7M39.1 184.5h0.7M25.3 178.4h0.7M51.2 193.9h0.7M40.6 173.6h0.7M42.1 181.5h0.7M34.3 176.0h0.7M46.4 184.4h0.7M40.2 190.3h0.7M55.3 174.0h0.7M38.9 179.7h0.7M47.8 180.8h0.7M52.4 185.9h0.7M34.7 183.5h0.7M29.2 185.2h0.7M57.5 183.2h0.7M51.3 189.6h0.7M49.9 183.9h0.7M46.3 180.8h0.7M52.9 171.7h0.7M27.2 178.8h0.7M45.3 181.2h0.7M43.6 168.3h0.7M54.6 181.9h0.7M30.9 173.4h0.7M55.9 175.7h0.7M42.8 190.6h0.7M39.7 182.2h0.7M52.5 176.2h0.7M46.0 176.8h0.7M52.6 176.0h0.7M34.4 182.7h0.7M31.9 178.5h0.7M35.6 182.1h0.7M40.3 183.4h0.7M47.8 178.4h0.7M44.3 189.0h0.7M37.0 176.7h0.7M42.6 170.1h0.7M56.1 186.5h0.7M55.3 170.9h0.7M26.3 178.1h0.7M55.0 177.5h0.7M44.4 172.6h0.7M47.4 192.1h0.7M50.0 180.4h0.7M57.0 179.7h0.7M52.6 181.0h0.7M51.1 174.2h0.7M49.5 189.2h0.7M53.5 172.5h0.7M30.1 182.7h0.7M53.4 176.2h0.7M31.7 177.2h0.7M50.3 176.6h0.7M24.1 190.4h0.7M47.9 182.2h0.7M31.7 174.8h0.7M46.8 172.5h0.7M45.1 187.6h0.7M59.5 177.5h0.7M58.0 186.6h0.7M49.0 182.4h0.7M48.7 176.3h0.7M45.0 175.7h0.7M55.0 182.2h0.7M46.6 183.1h0.7M34.9 178.8h0.7M40.9 187.1h0.7M45.2 185.5h0.7M52.0 192.3h0.7M50.1 174.8h0.7M41.4 192.5h0.7M38.9 180.9h0.7M42.1 173.9h0.7M31.5 185.0h0.7M28.8 186.2h0.7M40.9 181.0h0.7M43.7 182.8h0.7M51.2 174.4h0.7M40.9 182.4h0.7M42.4 183.6h0.7M24.2 176.0h0.7M44.6 184.1h0.7M61.4 189.8h0.7M51.9 186.5h0.7M31.9 173.8h0.7M46.3 182.0h0.7M41.4 174.4h0.7M33.3 184.8h0.7M56.0 182.9h0.7M32.0 174.2h0.7M47.1 169.1h0.7M38.5 177.2h0.7M39.0 193.7h0.7M48.6 175.3h0.7M52.5 165.2h0.7M52.4 185.7h0.7M29.6 179.9h0.7M44.3 176.5h0.7M46.5 174.3h0.7M38.9 182.2h0.7M40.7 177.7h0.7M37.0 179.2h0.7M45.8 181.9h0.7M37.3 181.5h0.7M49.6 179.4h0.7M28.0 175.1h0.7M42.6 167.5h0.7M51.4 180.4h0.7M59.0 176.0h0.7M40.2 188.0h0.7M43.6 183.4h0.7M48.7 184.9h0.7M41.9 190.3h0.7M51.3 168.4h0.7M39.2 181.4h0.7M44.5 189.7h0.7M54.0 187.5h0.7M57.2 178.9h0.7M31.4 186.7h0.7M40.1 182.7h0.7M43.4 170.1h0.7M39.0 171.5h0.7M55.0 186.3h0.7M42.1 174.5h0.7M41.4 185.3h0.7M35.2 169.2h0.7M38.7 171.9h0.7M44.4 174.4h0.7M34.2 182.1h0.7M45.4 178.6h0.7M44.3 193.9h0.7M55.1 177.8h0.7M36.9 178.0h0.7M66.3 175.2h0.7M35.6 176.1h0.7M40.4 170.4h0.7M57.3 158.7h0.7M71.0 200.3h0.7M49.2 174.5h0.7M40.2 178.2h0.7M39.5 176.1h0.7M36.3 179.1h0.7M46.1 180.1h0.7M52.9 170.0h0.7M75.2 178.2h0.7M46.5 176.6h0.7M42.0 172.4h0.7M37.4 167.5h0.7M33.9 170.9h0.7M35.1 185.0h0.7M55.3 177.2h0.7M45.4 188.0h0.7M43.6 175.0h0.7M43.6 190.9h0.7M56.2 174.1h0.7M44.4 190.1h0.7M40.3 180.1h0.7M53.3 167.8h0.7M45.8 187.5h0.7M45.8 166.3h0.7M45.1 187.8h0.7M45.4 173.3h0.7M45.9 177.7h0.7M33.3 177.8h0.7M48.5 182.7h0.7M33.1 183.8h0.7M53.5 170.9h0.7M31.8 182.5h0.7M47.2 178.4h0.7M49.7 183.3h0.7M41.4 174.5h0.7M37.6 183.0h0.7M47.3 183.4h0.7M31.8 170.5h0.7M44.8 188.1h0.7M30.6 181.9h0.7M52.0 186.3h0.7M35.1 180.6h0.7M27.3 177.2h0.7M50.5 176.6h0.7M39.5 173.1h0.7M36.6 185.4h0.7M39.9 192.6h0.7M44.5 175.4h0.7M52.2 182.1h0.7M34.9 179.5h0.7M47.6 177.3h0.7M32.9 179.4h0.7M36.7 176.6h0.7M47.4 183.9h0.7M54.0 193.7h0.7M46.9 182.0h0.7M50.7 192.8h0.7M58.9 185.6h0.7M43.4 191.3h0.7M35.5 192.8h0.7M43.9 187.7h0.7M46.9 177.9h0.7M40.7 180.1h0.7M46.0 187.5h0.7M35.6 187.0h0.7M43.2 177.0h0.7M29.0 174.6h0.7M24.0 176.4h0.7M49.9 172.4h0.7M54.7 170.3h0.7M40.8 183.5h0.7M40.0 184.2h0.7M46.2 175.5h0.7M50.4 182.1h0.7M49.9 186.3h0.7M48.8 171.2h0.7M41.8 177.6h0.7M41.5 191.8h0.7M38.5 193.8h0.7M41.9 180.7h0.7M47.1 184.7h0.7M47.3 178.0h0.7M35.3 167.8h0.7M48.6 173.7h0.7M63.5 179.6h0.7M41.3 172.0h0.7M55.2 187.0h0.7M55.1 177.3h0.7M48.1 177.1h0.7M52.1 177.4h0.7M42.4 172.8h0.7M50.7 175.9h0.7M49.5 191.6h0.7M45.9 178.7h0.7M45.9 188.9h0.7M35.7 182.1h0.7M40.7 182.5h0.7M51.7 171.1h0.7M41.6 185.8h0.7M51.6 180.7h0.7M54.3 172.6h0.7M34.8 185.1h0.7M50.2 178.1h0.7M53.1 178.7h0.7M43.1 179.6h0.7M42.6 175.4h0.7M51.8 182.1h0.7M44.0 186.4h0.7M55.5 170.7h0.7M46.9 176.7h0.7M57.4 166.6h0.7M58.5 174.5h0.7M46.6 186.2h0.7M36.7 196.0h0.7M44.1 187.2h0.7M47.9 187.0h0.7M33.8 180.8h0.7M40.3 186.2h0.7M46.9 179.2h0.7M46.6 181.1h0.7M46.8 171.8h0.7M42.6 185.6h0.7M37.2 183.7h0.7M47.6 172.3h0.7M35.3 191.7h0.7M36.2 174.5h0.7M31.9 169.5h0.7M39.1 182.8h0.7M49.2 181.7h0.7M40.9 178.1h0.7M38.0 176.5h0.7M30.5 191.2h0.7M40.9 176.9h0.7M51.9 181.1h0.7M52.3 184.6h0.7M44.3 176.9h0.7M43.3 185.3h0.7M54.3 177.1h0.7M43.4 184.0h0.7M46.4 187.0h0.7M56.0 180.9h0.7M41.7 185.6h0.7M44.9 176.5h0.7M57.7 177.1h0.7M52.0 174.2h0.7M31.3 184.5h0.7M36.4 179.2h0.7M48.5 180.7h0.7M34.6 183.6h0.7M38.9 184.7h0.7M40.1 183.7h0.7M48.3 170.6h0.7M49.0 164.8h0.7M28.7 182.0h0.7M48.0 170.9h0.7M34.7 189.4h0.7M53.3 185.5h0.7M49.0 191.1h0.7M51.8 173.6h0.7M56.9 182.3h0.7M41.1 171.6h0.7M38.3 186.5h0.7M41.1 177.5h0.7M22.5 177.7h0.7M44.2 186.2h0.7M56.3 181.4h0.7M60.6 181.4h0.7M42.5 181.4h0.7M45.0 179.0h0.7M37.8 179.3h0.7M42.0 190.0h0.7M53.8 179.6h0.7M39.7 171.7h0.7M54.7 173.3h0.7M40.3 172.9h0.7M36.9 159.2h0.7M33.8 168.7h0.7M47.3 177.9h0.7M52.6 174.7h0.7M49.6 171.4h0.7M52.2 178.4h0.7M49.3 175.8h0.7M51.5 182.5h0.7M37.8 178.9h0.7M48.8 183.9h0.7M39.0 185.9h0.7M52.0 181.5h0.7M56.0 172.5h0.7M44.1 186.5h0.7M29.0 184.3h0.7M53.8 180.6h0.7M28.6 192.3h0.7M61.3 174.5h0.7M50.9 183.7h0.7M38.9 176.8h0.7M55.7 181.1h0.7M31.4 192.1h0.7M31.3 175.9h0.7M50.0 175.7h0.7M53.3 180.7h0.7M30.5 181.3h0.7M43.0 182.9h0.7M51.7 175.7h0.7M48.4 171.3h0.7M31.6 182.5h0.7M54.3 179.8h0.7M46.4 177.5h0.7M51.9 179.2h0.7M44.5 182.8h0.7M46.0 182.2h0.7M57.6 177.3h0.7M53.8 174.2h0.7M66.8 180.9h0.7M44.2 172.4h0.7M59.1 185.2h0.7M52.3 178.5h0.7M32.7 174.0h0.7M45.2 194.2h0.7M40.4 177.2h0.7M52.1 179.3h0.7M43.5 179.4h0.7M39.9 181.4h0.7M47.4 182.4h0.7M38.7 180.5h0.7M40.3 178.5h0.7M43.0 173.2h0.7M39.8 183.7h0.7M34.2 162.3h0.7M54.1 178.4h0.7M35.6 181.4h0.7M51.1 179.5h0.7M35.3 176.3h0.7M47.6 190.2h0.7M38.0 180.4h0.7M39.2 184.2h0.7M41.5 183.5h0.7M40.3 181.1h0.7M46.7 176.9h0.7M38.7 184.7h0.7M43.4 169.6h0.7M42.3 177.3h0.7M44.3 180.3h0.7M37.2 168.6h0.7M43.4 167.0h0.7M48.6 176.0h0.7M50.2 184.9h0.7M43.3 168.1h0.7M50.6 175.0h0.7M41.7 162.3h0.7M47.6 168.6h0.7M44.2 188.5h0.7M32.8 175.8h0.7M36.7 176.0h0.7M51.7 184.0h0.7M42.2 189.1h0.7M47.3 176.3h0.7M51.8 184.1h0.7M44.4 190.6h0.7M48.0 171.0h0.7M40.5 168.7h0.7M44.2 174.5h0.7M43.9 168.2h0.7M51.0 184.1h0.7M44.4 168.7h0.7M46.8 170.5h0.7M30.7 185.8h0.7M40.9 179.2h0.7M41.8 180.2h0.7M42.8 177.8h0.7M49.0 171.4h0.7M46.3 182.0h0.7M56.9 174.9h0.7M37.3 190.1h0.7M46.3 181.4h0.7M35.6 188.0h0.7M61.1 183.3h0.7M26.1 175.4h0.7M32.2 187.0h0.7M49.3 187.7h0.7M45.6 173.0h0.7M54.7 187.7h0.7M57.3 176.1h0.7M45.9 186.0h0.7M32.1 179.6h0.7M44.8 174.6h0.7M50.1 188.5h0.7M51.5 182.7h0.7M36.7 196.1h0.7M49.2 178.2h0.7M28.8 180.8h0.7M53.6 178.1h0.7M54.3 180.5h0.7M52.7 177.8h0.7M54.2 185.7h0.7M37.2 182.0h0.7M53.5 189.4h0.7M27.2 186.2h0.7M56.1 168.3h0.7M48.3 177.8h0.7M31.6 172.8h0.7M39.8 179.2h0.7M32.4 191.2h0.7M57.0 176.7h0.7M46.0 183.5h0.7M41.7 186.1h0.7M39.8 185.5h0.7M48.1 174.1h0.7M50.4 184.3h0.7M35.0 197.5h0.7M38.9 171.1h0.7M50.4 179.2h0.7M44.7 172.9h0.7M48.0 189.1h0.7M42.7 170.9h0.7M47.4 181.0h0.7M37.7 173.9h0.7M41.1 177.7h0.7M45.8 170.1h0.7M30.8 184.0h0.7M40.4 189.7h0.7M57.4 177.7h0.7M56.4 165.5h0.7M46.6 182.3h0.7M39.3 170.8h0.7M52.0 174.6h0.7M34.3 184.4h0.7M46.3 183.5h0.7M30.5 189.0h0.7M50.9 174.8h0.7M39.4 180.2h0.7M54.8 192.2h0.7M33.2 191.4h0.7M48.4 169.9h0.7M49.3 176.4h0.7M37.0 184.1h0.7M52.1 177.3h0.7M38.3 186.7h0.7M42.0 182.8h0.7M44.0 188.0h0.7M41.9 185.1h0.7M37.6 180.9h0.7M44.0 176.1h0.7M46.5 179.5h0.7M54.4 187.9h0.7M50.9 179.4h0.7M27.4 171.1h0.7M74.7 185.9h0.7M45.0 188.6h0.7M45.7 174.7h0.7M31.6 183.1h0.7M47.1 172.3h0.7M31.0 182.6h0.7M43.6 181.1h0.7M50.4 182.1h0.7M41.6 189.2h0.7M34.7 193.4h0.7M54.7 180.3h0.7M41.6 189.3h0.7M35.2 180.1h0.7M54.0 185.7h0.7M63.7 184.1h0.7M36.0 195.2h0.7M50.1 177.6h0.7M39.3 184.2h0.7M39.6 183.3h0.7M33.0 183.4h0.7M59.2 175.4h0.7M54.1 177.2h0.7M38.6 187.4h0.7M51.3 172.8h0.7M51.4 172.9h0.7M47.4 172.8h0.7M31.8 182.4h0.7M56.5 174.8h0.7M58.0 185.6h0.7M51.4 184.2h0.7M50.4 180.2h0.7M33.2 175.2h0.7M33.6 185.7h0.7M38.5 181.3h0.7M44.5 172.6h0.7M30.6 189.8h0.7M45.4 174.0h0.7M56.7 179.9h0.7M45.8 170.3h0.7M41.4 180.9h0.7M56.6 183.8h0.7M40.1 189.5h0.7M54.8 178.6h0.7M51.8 171.1h0.7M39.0 187.5h0.7M43.0 183.4h0.7M36.2 179.7h0.7M42.9 183.3h0.7M62.0 171.3h0.7M63.5 173.9h0.7M37.0 184.2h0.7M54.6 184.3h0.7M38.5 187.1h0.7M32.5 176.1h0.7M38.1 183.4h0.7M40.1 187.5h0.7M37.7 182.2h0.7M47.9 174.5h0.7M42.3 185.1h0.7M48.1 184.0h0.7M43.6 181.6h0.7M32.4 175.6h0.7M49.3 183.1h0.7M38.3 182.1h0.7M45.8 184.0h0.7M49.1 178.8h0.7M36.4 183.0h0.7M36.1 169.7h0.7M53.1 185.6h0.7M38.7 179.7h0.7M51.2 181.5h0.7M53.1 181.9h0.7M57.4 172.9h0.7M52.8 177.2h0.7M43.3 176.8h0.7M45.6 171.8h0.7M48.3 175.2h0.7M43.1 174.3h0.7M39.5 173.4h0.7M31.0 177.8h0.7M47.1 182.0h0.7M43.1 176.8h0.7M38.8 175.5h0.7M43.9 171.9h0.7M29.8 189.0h0.7M49.2 181.7h0.7M42.6 185.9h0.7M54.5 182.4h0.7M39.7 178.8h0.7M38.5 182.9h0.7M26.7 167.5h0.7M33.9 177.4h0.7M34.6 176.4h0.7M43.4 184.8h0.7M46.3 175.8h0.7M53.2 188.1h0.7M44.5 187.0h0.7M43.3 181.1h0.7M53.1 176.4h0.7M37.6 178.5h0.7M47.0 179.6h0.7M38.0 178.7h0.7M48.1 178.9h0.7M32.0 180.8h0.7M32.6 171.3h0.7M51.9 185.2h0.7M37.2 183.0h0.7M41.5 185.4h0.7M41.3 180.0h0.7M50.9 176.5h0.7M59.2 179.9h0.7M54.5 177.2h0.7M24.4 167.9h0.7M42.3 182.5h0.7M38.2 174.0h0.7M32.0 184.1h0.7M49.6 182.0h0.7M39.0 187.4h0.7M50.6 186.7h0.7M41.8 185.8h0.7M70.2 176.9h0.7M39.6 184.6h0.7M63.4 191.1h0.7M34.0 173.2h0.7M47.3 187.2h0.7M50.6 178.1h0.7M45.6 178.4h0.7M40.7 186.2h0.7M47.1 188.5h0.7M42.5 185.9h0.7M41.7 184.3h0.7M38.6 186.3h0.7M49.4 164.2h0.7M38.6 172.6h0.7M35.4 186.1h0.7M31.0 188.0h0.7M53.1 190.0h0.7M38.7 182.6h0.7M51.6 175.6h0.7M41.9 181.3h0.7M34.4 175.3h0.7M49.3 177.1h0.7M39.0 186.9h0.7M42.6 179.9h0.7M61.0 173.5h0.7M42.3 183.7h0.7M47.9 181.6h0.7M34.0 179.0h0.7M37.3 183.9h0.7M32.3 189.8h0.7M54.2 184.6h0.7M48.1 174.9h0.7M47.4 176.0h0.7M50.4 185.7h0.7M52.7 174.7h0.7M64.3 177.1h0.7M56.3 181.3h0.7M40.6 174.9h0.7M37.6 170.5h0.7M40.1 168.8h0.7M34.9 181.5h0.7M34.9 186.4h0.7M43.1 183.2h0.7M48.2 193.6h0.7M59.4 183.2h0.7M51.1 182.9h0.7M43.3 191.0h0.7M57.0 181.7h0.7M48.8 183.3h0.7M39.7 177.0h0.7M39.6 190.6h0.7M37.1 189.4h0.7M55.5 173.4h0.7M49.3 181.6h0.7M35.3 181.5h0.7M53.0 181.4h0.7M24.1 179.9h0.7M34.4 170.3h0.7M33.6 183.0h0.7M36.9 182.6h0.7M42.8 172.2h0.7M57.8 180.2h0.7M30.4 180.9h0.7M41.1 175.9h0.7M48.4 177.4h0.7M46.0 173.8h0.7M53.3 179.6h0.7M29.5 180.5h0.7M45.5 181.0h0.7M40.5 187.3h0.7M37.4 196.5h0.7M41.6 184.4h0.7M55.8 182.7h0.7M46.0 171.8h0.7M32.4 195.2h0.7M43.9 177.9h0.7M29.1 178.6h0.7M53.1 170.2h0.7M45.6 183.1h0.7M35.6 187.7h0.7M27.2 183.4h0.7M47.2 176.0h0.7M41.9 182.1h0.7M40.3 190.2h0.7M30.2 183.5h0.7M46.7 177.0h0.7M44.5 186.1h0.7M39.5 185.5h0.7M41.3 180.5h0.7M42.3 182.0h0.7M38.9 175.3h0.7M52.7 175.4h0.7M45.1 174.4h0.7M41.5 179.5h0.7M50.9 175.7h0.7M34.6 185.4h0.7M54.7 184.2h0.7M50.1 178.8h0.7M36.6 176.5h0.7M37.5 183.6h0.7M43.5 179.1h0.7M34.7 175.7h0.7M49.8 177.9h0.7M51.0 175.3h0.7M34.6 178.2h0.7M67.5 173.9h0.7M37.5 177.5h0.7M53.2 172.5h0.7M51.9 173.7h0.7M41.9 181.0h0.7M45.5 175.9h0.7M55.4 173.5h0.7M41.1 179.6h0.7M47.5 168.6h0.7M46.3 175.8h0.7M34.7 177.2h0.7M37.1 181.6h0.7M36.8 194.0h0.7M39.1 176.1h0.7M38.0 182.8h0.7M43.6 185.5h0.7M49.1 170.4h0.7M32.1 173.6h0.7M31.4 181.0h0.7M52.2 180.7h0.7M53.7 187.6h0.7M48.8 184.7h0.7M46.9 184.6h0.7M54.4 188.3h0.7M54.9 174.6h0.7M51.3 184.8h0.7M59.1 165.1h0.7M48.4 184.4h0.7M50.6 182.8h0.7M49.5 177.1h0.7M35.1 184.1h0.7M51.5 189.1h0.7M32.8 180.6h0.7M36.8 187.2h0.7M58.1 173.9h0.7M43.9 190.7h0.7M45.0 185.8h0.7M43.8 193.6h0.7M31.6 188.1h0.7M49.5 175.5h0.7M31.5 192.7h0.7M54.1 184.1h0.7M42.7 179.6h0.7M49.9 182.4h0.7M36.1 176.9h0.7M45.8 185.5h0.7M35.8 186.1h0.7M60.3 180.8h0.7M49.1 197.2h0.7M56.6 180.9h0.7M36.3 174.3h0.7M44.7 169.7h0.7M67.1 171.7h0.7M37.9 182.5h0.7M38.9 179.0h0.7M40.3 189.3h0.7M41.6 189.6h0.7M35.0 172.7h0.7M50.3 170.5h0.7M45.1 187.4h0.7M42.2 177.2h0.7M46.1 182.9h0.7M52.1 182.3h0.7M37.8 184.8h0.7M32.7 177.1h0.7M47.9 174.7h0.7M38.7 184.8h0.7M30.9 190.8h0.7M50.2 183.9h0.7M47.1 174.3h0.7M44.6 182.6h0.7M39.7 166.9h0.7M45.9 179.9h0.7M48.4 175.2h0.7M38.8 170.2h0.7M55.3 171.0h0.7M45.0 172.5h0.7M63.2 174.4h0.7M43.7 194.2h0.7M52.4 181.6h0.7M33.9 183.7h0.7M28.0 189.6h0.7M57.7 178.9h0.7M46.0 173.6h0.7M44.2 191.4h0.7M56.0 173.2h0.7M39.7 167.4h0.7M48.8 173.3h0.7M60.0 182.9h0.7M46.2 186.1h0.7M53.7 185.3h0.7M41.7 192.9h0.7M43.5 175.6h0.7M51.3 187.1h0.7M45.8 178.3h0.7M29.2 174.3h0.7M52.5 186.4h0.7M38.7 180.5h0.7M39.9 179.1h0.7M47.3 174.0h0.7M47.2 182.6h0.7M34.6 174.8h0.7M43.2 186.0h0.7M35.5 175.9h0.7M41.4 185.7h0.7M40.8 185.5h0.7M42.6 182.1h0.7M55.6 203.4h0.7M48.1 182.8h0.7M47.1 178.6h0.7M29.8 189.1h0.7M48.4 180.9h0.7M41.2 172.3h0.7M29.3 163.4h0.7M54.6 173.4h0.7M30.7 173.9h0.7M40.4 175.2h0.7M40.1 182.3h0.7M39.8 179.9h0.7M48.2 189.4h0.7M49.7 173.0h0.7M48.3 177.9h0.7M39.3 168.4h0.7M70.0 180.4h0.7M39.1 186.8h0.7M48.1 173.9h0.7M41.0 180.8h0.7M60.6 190.2h0.7M26.3 178.7h0.7M45.3 170.9h0.7M52.8 175.3h0.7M46.9 175.4h0.7M53.0 170.7h0.7M50.8 187.7h0.7M59.4 175.1h0.7M40.2 196.5h0.7M42.0 173.7h0.7M39.4 186.2h0.7M56.6 183.5h0.7M38.4 192.0h0.7M37.0 172.3h0.7M50.9 176.6h0.7M37.9 190.2h0.7M43.9 177.9h0.7M58.9 174.6h0.7M59.3 178.4h0.7M35.5 187.1h0.7M40.6 174.8h0.7M32.0 182.6h0.7M43.3 177.9h0.7M52.2 187.3h0.7M53.5 182.5h0.7M56.8 186.8h0.7M40.4 175.2h0.7M61.9 186.9h0.7M55.5 181.7h0.7M45.5 177.3h0.7M36.7 184.5h0.7M34.6 183.9h0.7M38.5 182.8h0.7M32.8 171.6h0.7M39.6 183.3h0.7M36.7 183.5h0.7M50.2 180.2h0.7M35.7 177.3h0.7M41.9 181.0h0.7M52.5 188.3h0.7M38.8 184.0h0.7M43.3 176.9h0.7M37.5 184.2h0.7M35.5 180.9h0.7M51.9 174.5h0.7M46.7 181.0h0.7M26.6 185.8h0.7M32.8 182.6h0.7M60.7 184.3h0.7M41.1 180.8h0.7M34.2 186.6h0.7M40.5 185.2h0.7M37.2 176.9h0.7M36.9 189.0h0.7M35.5 165.1h0.7M25.3 191.5h0.7M45.3 181.8h0.7M31.6 186.1h0.7M43.9 185.1h0.7M36.8 181.9h0.7M28.1 186.2h0.7M41.7 177.1h0.7M43.3 185.8h0.7M61.0 185.6h0.7M36.0 178.6h0.7M46.1 185.7h0.7M37.5 171.8h0.7M52.0 186.5h0.7M37.4 177.3h0.7M57.4 174.5h0.7M42.6 175.9h0.7M54.9 189.9h0.7M40.6 183.0h0.7M58.2 175.4h0.7M33.8 181.6h0.7M62.1 187.5h0.7M42.4 181.4h0.7M36.8 173.1h0.7M33.9 178.8h0.7M38.5 170.5h0.7M43.1 179.5h0.7M32.5 182.9h0.7M33.0 177.9h0.7M38.0 172.2h0.7M44.9 172.5h0.7M36.8 195.9h0.7M39.9 185.4h0.7M50.9 193.1h0.7M53.2 177.7h0.7M34.8 180.4h0.7M47.6 180.0h0.7M22.4 175.9h0.7M42.7 172.7h0.7M36.7 172.9h0.7M43.7 182.6h0.7M19.3 184.3h0.7M45.3 185.7h0.7M44.4 175.4h0.7M54.8 179.1h0.7M35.3 168.5h0.7M44.9 178.7h0.7M56.5 164.7h0.7M41.5 197.0h0.7M37.6 206.5h0.7M37.9 191.7h0.7M38.2 190.9h0.7M31.4 202.3h0.7M22.7 206.8h0.7M28.1 201.9h0.7M34.4 201.9h0.7M38.9 209.7h0.7M33.8 199.9h0.7M36.3 201.6h0.7M35.5 192.6h0.7M34.0 208.8h0.7M29.4 201.0h0.7M32.6 195.9h0.7M35.3 194.8h0.7M36.9 207.6h0.7M29.8 207.3h0.7M31.4 205.6h0.7M40.4 190.6h0.7M37.7 194.6h0.7M37.3 199.9h0.7M41.2 197.3h0.7M41.0 192.9h0.7M40.0 193.4h0.7M29.6 209.8h0.7M37.1 205.5h0.7M30.1 205.0h0.7M41.0 201.6h0.7M32.2 205.5h0.7M35.6 194.0h0.7M30.5 205.4h0.7M23.4 197.7h0.7M29.1 203.3h0.7M37.9 204.5h0.7M38.7 196.7h0.7M42.7 193.7h0.7M31.9 199.7h0.7M37.1 199.8h0.7M30.2 202.6h0.7M33.6 204.6h0.7M30.9 202.0h0.7M37.6 194.9h0.7M29.8 205.0h0.7M39.1 192.9h0.7M36.3 199.5h0.7M33.5 205.3h0.7M38.6 198.5h0.7M26.7 205.0h0.7M30.9 208.1h0.7M41.8 201.0h0.7M33.5 197.7h0.7M27.9 207.5h0.7M32.7 197.2h0.7M47.9 193.9h0.7M40.2 196.9h0.7M34.1 201.6h0.7M32.5 192.8h0.7M35.5 194.7h0.7M34.7 208.0h0.7M29.6 198.9h0.7M34.9 203.5h0.7M41.0 197.2h0.7M25.4 201.1h0.7M37.9 203.0h0.7M38.9 190.8h0.7M29.7 207.4h0.7M28.5 206.2h0.7M30.9 197.8h0.7M27.1 206.9h0.7M38.1 195.7h0.7M22.7 201.5h0.7M39.9 194.6h0.7M37.8 195.2h0.7M27.0 204.6h0.7M31.2 205.4h0.7M33.1 204.5h0.7M31.7 204.0h0.7M39.9 198.2h0.7M43.0 194.1h0.7M25.5 203.2h0.7M25.6 205.3h0.7M30.4 204.1h0.7M26.7 204.0h0.7M34.0 202.2h0.7M31.6 204.2h0.7M26.2 209.7h0.7M39.5 200.4h0.7M34.2 197.7h0.7M35.7 196.1h0.7M40.0 193.8h0.7M35.3 195.4h0.7M29.4 207.4h0.7M33.5 197.6h0.7M28.8 202.4h0.7M31.6 192.9h0.7M34.1 200.6h0.7M30.9 200.9h0.7M39.3 197.7h0.7M40.7 193.5h0.7M27.1 202.3h0.7M32.6 192.1h0.7M39.3 190.6h0.7M35.9 198.7h0.7M35.6 194.6h0.7M26.0 206.0h0.7M31.1 196.1h0.7M32.1 199.2h0.7M31.8 199.8h0.7M31.6 198.1h0.7M29.8 198.2h0.7M28.5 209.1h0.7M28.0 198.1h0.7M28.4 204.0h0.7M37.0 204.6h0.7M31.8 194.2h0.7M39.3 198.6h0.7M31.3 193.9h0.7M34.3 200.4h0.7M32.7 207.9h0.7M30.7 204.9h0.7M39.9 203.4h0.7M34.4 194.2h0.7M29.7 203.6h0.7M37.9 197.9h0.7M33.0 206.9h0.7M36.1 187.8h0.7M27.8 202.8h0.7M31.3 199.2h0.7M35.6 205.2h0.7M29.5 200.5h0.7M32.0 201.2h0.7M38.1 196.7h0.7M31.7 202.1h0.7M21.9 204.1h0.7M35.5 192.3h0.7M37.5 197.9h0.7M36.8 201.2h0.7M32.3 202.1h0.7M35.4 195.9h0.7M36.7 195.8h0.7M20.1 208.2h0.7M36.3 203.1h0.7M25.5 203.7h0.7M34.7 199.3h0.7M40.1 209.3h0.7M34.4 194.3h0.7M32.0 189.8h0.7M29.8 206.6h0.7M29.0 201.3h0.7M33.8 192.3h0.7M35.2 198.9h0.7M41.5 192.4h0.7M34.8 204.5h0.7M40.1 199.5h0.7M43.7 202.2h0.7M37.0 197.3h0.7M33.5 199.5h0.7M37.5 198.4h0.7M31.4 196.0h0.7M31.5 201.3h0.7M26.5 204.1h0.7M32.9 198.3h0.7M36.4 192.5h0.7M34.7 186.9h0.7M30.1 209.2h0.7M25.4 204.6h0.7M24.6 205.6h0.7M43.6 200.2h0.7M26.9 198.6h0.7M30.5 203.7h0.7M42.7 199.8h0.7M35.7 198.2h0.7M29.7 204.2h0.7M33.9 209.6h0.7M44.9 194.5h0.7M25.4 206.1h0.7M29.3 209.4h0.7M31.4 201.9h0.7M40.2 199.9h0.7M35.6 200.7h0.7M34.2 202.5h0.7M30.1 204.8h0.7M28.9 204.3h0.7M34.5 191.9h0.7M27.3 193.5h0.7M27.9 207.4h0.7M36.5 201.5h0.7M34.0 196.7h0.7M36.4 199.4h0.7M38.9 199.6h0.7M29.2 199.1h0.7M32.6 195.7h0.7M22.4 206.5h0.7M38.2 200.8h0.7M40.2 192.5h0.7M29.7 199.2h0.7M30.4 199.0h0.7M35.9 192.6h0.7M29.5 200.9h0.7M39.2 189.2h0.7M31.3 205.3h0.7M32.9 203.9h0.7M35.0 193.8h0.7M43.0 198.7h0.7M30.3 200.6h0.7M27.0 200.1h0.7M29.4 208.8h0.7M34.6 199.4h0.7M35.4 200.0h0.7M29.5 208.9h0.7M30.2 195.9h0.7M33.2 197.6h0.7M45.4 201.4h0.7M27.6 199.8h0.7M42.5 190.3h0.7M32.3 208.0h0.7M27.7 204.9h0.7M32.4 194.6h0.7M29.2 207.3h0.7M31.4 201.4h0.7M38.5 196.5h0.7M33.8 194.2h0.7M29.1 191.4h0.7M33.2 191.4h0.7M37.0 191.5h0.7M29.4 198.0h0.7M19.5 208.0h0.7M26.0 209.6h0.7M29.8 197.7h0.7M28.1 199.0h0.7M30.3 206.8h0.7M37.3 195.5h0.7M28.4 194.0h0.7M28.9 206.1h0.7M30.0 201.5h0.7M35.9 200.8h0.7M35.6 196.7h0.7M27.3 205.2h0.7M45.9 194.8h0.7M33.7 201.7h0.7M29.8 196.6h0.7M26.5 204.1h0.7M27.8 202.9h0.7M27.7 205.3h0.7M31.9 189.5h0.7M34.3 192.4h0.7M45.8 196.8h0.7M35.4 198.3h0.7M36.0 203.1h0.7" stroke="#222" stroke-width="0.7" stroke-opacity="0.8" fill="none"/>
<rect x="16.5" y="151.0" width="64.7" height="59.7" fill="none" stroke="#6a6a6a" stroke-width="0.9"/>
<line x1="33.5" y1="151.0" x2="33.5" y2="210.7" stroke="#6a6a6a" stroke-width="0.8"/>
<line x1="16.5" y1="196.3" x2="81.2" y2="196.3" stroke="#6a6a6a" stroke-width="0.8"/>
<text x="11.9" y="152.2" font-size="3.4" fill="#444">10<tspan font-size="2.6" dy="-1.2">4</tspan></text>
<text x="16.7" y="214.9" font-size="3.4" fill="#444">10<tspan font-size="2.6" dy="-1.2">0</tspan></text>
<text x="11.9" y="167.1" font-size="3.4" fill="#444">10<tspan font-size="2.6" dy="-1.2">3</tspan></text>
<text x="32.9" y="214.9" font-size="3.4" fill="#444">10<tspan font-size="2.6" dy="-1.2">1</tspan></text>
<text x="11.9" y="182.0" font-size="3.4" fill="#444">10<tspan font-size="2.6" dy="-1.2">2</tspan></text>
<text x="49.1" y="214.9" font-size="3.4" fill="#444">10<tspan font-size="2.6" dy="-1.2">2</tspan></text>
<text x="11.9" y="197.0" font-size="3.4" fill="#444">10<tspan font-size="2.6" dy="-1.2">1</tspan></text>
<text x="65.2" y="214.9" font-size="3.4" fill="#444">10<tspan font-size="2.6" dy="-1.2">3</tspan></text>
<text x="11.9" y="211.9" font-size="3.4" fill="#444">10<tspan font-size="2.6" dy="-1.2">0</tspan></text>
<text x="81.4" y="214.9" font-size="3.4" fill="#444">10<tspan font-size="2.6" dy="-1.2">4</tspan></text>
<text x="16.9" y="144.6" font-size="8.7" fill="#111" stroke="#111" stroke-width="0.3" text-anchor="start" textLength="25.4" lengthAdjust="spacingAndGlyphs" >mDCs</text>
<text x="20.2" y="165.4" font-size="8.7" fill="#111" stroke="#111" stroke-width="0.3" text-anchor="start" textLength="9.6" lengthAdjust="spacingAndGlyphs" >15</text>
<text x="64.4" y="165.4" font-size="8.7" fill="#111" stroke="#111" stroke-width="0.3" text-anchor="start" textLength="9.6" lengthAdjust="spacingAndGlyphs" >83</text>
<text transform="translate(8.4 207.0) rotate(-90)" font-size="8.7" fill="#111" stroke="#111" stroke-width="0.3" textLength="27.4" lengthAdjust="spacingAndGlyphs">CD11c</text>
<text x="23.0" y="224.0" font-size="8.7" fill="#111" stroke="#111" stroke-width="0.3" text-anchor="start" textLength="22.3" lengthAdjust="spacingAndGlyphs" >CD86</text>
<text x="124.6" y="36.0" font-size="10.2" fill="#111" stroke="#111" stroke-width="0.3" text-anchor="start" textLength="112.7" lengthAdjust="spacingAndGlyphs" >Gated on CD11c+cells</text>
<text x="260.4" y="37.3" font-size="8.2" fill="#111" stroke="#111" stroke-width="0.3" text-anchor="start" textLength="19.6" lengthAdjust="spacingAndGlyphs" >iDCs</text>
<text x="255.0" y="144.6" font-size="8.2" fill="#111" stroke="#111" stroke-width="0.3" text-anchor="start" textLength="25.0" lengthAdjust="spacingAndGlyphs" >mDCs</text>
<line x1="121.7" y1="99.3" x2="121.7" y2="57.0" stroke="#111" stroke-width="1.7"/>
<path d="M121.7 51.8 L119.1 58.3 L124.3 58.3 Z" fill="#111"/>
<text transform="translate(123.9 174.2) rotate(-90)" font-size="9.8" fill="#111" stroke="#111" stroke-width="0.3" textLength="50.9" lengthAdjust="spacingAndGlyphs">Cell number</text>
<line x1="119.8" y1="181.3" x2="119.8" y2="210.0" stroke="#111" stroke-width="1.8"/>
<path d="M128.5 104.8 L128.5 103.9 L128.6 76.9 L129.6 79.6 L130.6 84.3 L131.7 88.6 L132.7 92.1 L133.6 95.5 L134.6 99.0 L135.6 100.7 L136.6 102.1 L137.5 103.0 L138.5 104.8 L138.5 104.8 Z" fill="#595959" stroke="none" stroke-width="0.6" stroke-linejoin="round"/>
<line x1="128.3" y1="54.2" x2="128.3" y2="104.8" stroke="#777" stroke-width="0.9"/>
<line x1="127.3" y1="104.8" x2="172.3" y2="104.8" stroke="#777" stroke-width="0.9"/>
<line x1="128.3" y1="104.8" x2="128.3" y2="106.4" stroke="#777" stroke-width="0.8"/>
<line x1="139.3" y1="104.8" x2="139.3" y2="106.4" stroke="#777" stroke-width="0.8"/>
<line x1="150.3" y1="104.8" x2="150.3" y2="106.4" stroke="#777" stroke-width="0.8"/>
<line x1="161.3" y1="104.8" x2="161.3" y2="106.4" stroke="#777" stroke-width="0.8"/>
<line x1="172.3" y1="104.8" x2="172.3" y2="106.4" stroke="#777" stroke-width="0.8"/>
<line x1="139.0" y1="80.6" x2="172.7" y2="80.6" stroke="#666" stroke-width="1"/>
<text x="139.0" y="76.7" font-size="8.6" fill="#111" stroke="#111" stroke-width="0.3" text-anchor="start" textLength="26.0" lengthAdjust="spacingAndGlyphs" >0.0 (1)</text>
<text x="130.8" y="114.3" font-size="8.7" fill="#111" stroke="#111" stroke-width="0.3" text-anchor="start" textLength="30.4" lengthAdjust="spacingAndGlyphs" >Isotype</text>
<path d="M198.5 103.5 L198.5 102.6 L199.5 100.4 L200.5 98.9 L201.6 96.6 L202.7 93.6 L203.6 92.3 L204.6 91.0 L205.5 89.9 L206.5 88.3 L207.5 87.0 L209.1 84.3 L209.9 86.5 L210.8 88.1 L211.8 89.6 L212.8 90.8 L213.8 91.7 L214.7 92.8 L215.5 91.9 L216.3 90.6 L217.5 89.1 L219.0 88.6 L220.5 90.0 L221.8 96.6 L222.8 100.7 L224.0 103.5 L224.0 103.5 Z" fill="#595959" stroke="none" stroke-width="0.6" stroke-linejoin="round"/>
<line x1="197.3" y1="53.5" x2="197.3" y2="103.5" stroke="#777" stroke-width="0.9"/>
<line x1="196.3" y1="103.5" x2="248.3" y2="103.5" stroke="#777" stroke-width="0.9"/>
<line x1="197.3" y1="103.5" x2="197.3" y2="105.1" stroke="#777" stroke-width="0.8"/>
<line x1="210.1" y1="103.5" x2="210.1" y2="105.1" stroke="#777" stroke-width="0.8"/>
<line x1="222.8" y1="103.5" x2="222.8" y2="105.1" stroke="#777" stroke-width="0.8"/>
<line x1="235.6" y1="103.5" x2="235.6" y2="105.1" stroke="#777" stroke-width="0.8"/>
<line x1="248.3" y1="103.5" x2="248.3" y2="105.1" stroke="#777" stroke-width="0.8"/>
<line x1="247.9" y1="100.0" x2="247.9" y2="103.5" stroke="#777" stroke-width="0.9"/>
<line x1="207.0" y1="78.5" x2="247.7" y2="78.5" stroke="#666" stroke-width="1"/>
<text x="207.3" y="76.5" font-size="8.6" fill="#111" stroke="#111" stroke-width="0.3" text-anchor="start" textLength="28.1" lengthAdjust="spacingAndGlyphs" >77 (24)</text>
<text x="200.3" y="115.7" font-size="8.7" fill="#111" stroke="#111" stroke-width="0.3" textLength="23.4" lengthAdjust="spacingAndGlyphs">H-2K<tspan font-size="7" dy="-2.2">b</tspan></text>
<path d="M266.4 104.4 L266.4 103.8 L266.6 87.5 L268.0 90.7 L269.0 92.4 L270.0 94.2 L271.0 96.6 L272.0 95.8 L273.0 94.2 L274.0 94.2 L275.0 93.6 L275.8 93.6 L276.7 94.8 L277.5 95.2 L278.6 96.4 L279.8 97.1 L280.9 96.5 L282.0 94.9 L283.1 94.4 L284.2 94.3 L285.4 95.5 L286.5 96.9 L287.5 98.0 L288.5 98.0 L289.4 98.4 L290.2 98.8 L291.1 99.3 L292.0 98.7 L292.8 99.5 L293.6 99.7 L294.4 99.9 L295.2 100.5 L296.0 100.7 L296.8 101.3 L297.7 101.0 L298.5 101.5 L299.3 101.2 L300.2 101.4 L301.0 102.2 L301.8 102.4 L302.7 102.5 L303.5 102.0 L304.4 102.7 L305.2 102.7 L306.0 103.2 L306.9 103.2 L307.7 103.5 L308.9 103.8 L310.0 104.4 L310.0 104.4 Z" fill="#595959" stroke="none" stroke-width="0.6" stroke-linejoin="round"/>
<line x1="266.3" y1="53.0" x2="266.3" y2="104.4" stroke="#777" stroke-width="0.9"/>
<line x1="265.3" y1="104.4" x2="311.5" y2="104.4" stroke="#777" stroke-width="0.9"/>
<line x1="266.3" y1="104.4" x2="266.3" y2="106.0" stroke="#777" stroke-width="0.8"/>
<line x1="277.6" y1="104.4" x2="277.6" y2="106.0" stroke="#777" stroke-width="0.8"/>
<line x1="288.9" y1="104.4" x2="288.9" y2="106.0" stroke="#777" stroke-width="0.8"/>
<line x1="300.2" y1="104.4" x2="300.2" y2="106.0" stroke="#777" stroke-width="0.8"/>
<line x1="311.5" y1="104.4" x2="311.5" y2="106.0" stroke="#777" stroke-width="0.8"/>
<line x1="278.5" y1="79.4" x2="311.0" y2="79.4" stroke="#555" stroke-width="1"/>
<text x="278.5" y="76.5" font-size="8.6" fill="#111" stroke="#111" stroke-width="0.3" text-anchor="start" textLength="27.5" lengthAdjust="spacingAndGlyphs" >66 (32)</text>
<text x="268.7" y="115.8" font-size="8.7" fill="#111" stroke="#111" stroke-width="0.3" textLength="16.4" lengthAdjust="spacingAndGlyphs">I-A<tspan font-size="7" dy="-2.2">b</tspan></text>
<path d="M335.3 103.6 L335.3 102.7 L335.6 99.3 L336.5 96.1 L337.4 93.8 L338.2 92.0 L339.1 89.6 L340.1 87.1 L341.0 85.4 L342.1 83.7 L343.1 82.8 L344.5 86.2 L345.4 87.9 L346.2 89.3 L347.4 89.4 L348.5 89.2 L349.4 87.9 L350.4 87.6 L351.4 87.5 L352.5 87.4 L353.6 87.3 L354.7 86.3 L355.8 88.1 L356.8 90.6 L357.9 94.8 L358.9 99.6 L360.3 103.6 L360.3 103.6 Z" fill="#595959" stroke="none" stroke-width="0.6" stroke-linejoin="round"/>
<line x1="335.3" y1="53.0" x2="335.3" y2="103.6" stroke="#777" stroke-width="0.9"/>
<line x1="334.3" y1="103.6" x2="383.8" y2="103.6" stroke="#777" stroke-width="0.9"/>
<line x1="335.3" y1="103.6" x2="335.3" y2="105.2" stroke="#777" stroke-width="0.8"/>
<line x1="347.4" y1="103.6" x2="347.4" y2="105.2" stroke="#777" stroke-width="0.8"/>
<line x1="359.6" y1="103.6" x2="359.6" y2="105.2" stroke="#777" stroke-width="0.8"/>
<line x1="371.7" y1="103.6" x2="371.7" y2="105.2" stroke="#777" stroke-width="0.8"/>
<line x1="383.8" y1="103.6" x2="383.8" y2="105.2" stroke="#777" stroke-width="0.8"/>
<line x1="347.0" y1="79.4" x2="383.8" y2="79.4" stroke="#666" stroke-width="1"/>
<text x="347.0" y="76.5" font-size="8.6" fill="#111" stroke="#111" stroke-width="0.3" text-anchor="start" textLength="28.4" lengthAdjust="spacingAndGlyphs" >47 (22)</text>
<text x="335.8" y="116.0" font-size="8.7" fill="#111" stroke="#111" stroke-width="0.3" text-anchor="start" textLength="21.7" lengthAdjust="spacingAndGlyphs" >CD80</text>
<path d="M406.6 105.0 L406.6 104.1 L406.7 67.6 L407.4 65.7 L408.6 61.9 L409.8 58.7 L410.6 64.4 L412.0 73.2 L413.0 78.7 L414.0 83.9 L415.1 89.1 L416.2 93.9 L417.3 98.4 L418.3 101.2 L419.1 102.2 L420.0 102.9 L420.9 103.3 L421.8 104.0 L422.6 104.0 L423.4 104.0 L424.2 103.7 L425.1 103.9 L425.9 104.3 L426.7 104.0 L427.5 104.5 L428.3 104.3 L429.1 104.6 L429.9 104.7 L430.7 104.2 L431.5 104.6 L432.3 104.7 L433.2 104.2 L434.0 104.3 L434.8 104.7 L435.6 104.3 L436.4 104.6 L437.2 104.6 L438.0 105.0 L438.0 105.0 Z" fill="#595959" stroke="none" stroke-width="0.6" stroke-linejoin="round"/>
<line x1="406.5" y1="52.2" x2="406.5" y2="105.0" stroke="#777" stroke-width="0.9"/>
<line x1="405.5" y1="105.0" x2="452.0" y2="105.0" stroke="#777" stroke-width="0.9"/>
<line x1="406.5" y1="105.0" x2="406.5" y2="106.6" stroke="#777" stroke-width="0.8"/>
<line x1="417.9" y1="105.0" x2="417.9" y2="106.6" stroke="#777" stroke-width="0.8"/>
<line x1="429.2" y1="105.0" x2="429.2" y2="106.6" stroke="#777" stroke-width="0.8"/>
<line x1="440.6" y1="105.0" x2="440.6" y2="106.6" stroke="#777" stroke-width="0.8"/>
<line x1="452.0" y1="105.0" x2="452.0" y2="106.6" stroke="#777" stroke-width="0.8"/>
<line x1="418.3" y1="79.5" x2="451.5" y2="79.5" stroke="#999" stroke-width="0.9"/>
<text x="418.0" y="76.5" font-size="8.6" fill="#111" stroke="#111" stroke-width="0.3" text-anchor="start" textLength="23.0" lengthAdjust="spacingAndGlyphs" >4 (24)</text>
<text x="408.7" y="116.0" font-size="8.7" fill="#111" stroke="#111" stroke-width="0.3" text-anchor="start" textLength="22.1" lengthAdjust="spacingAndGlyphs" >CD40</text>
<path d="M128.6 212.0 L128.6 211.2 L128.8 174.6 L129.8 169.0 L130.6 174.9 L131.7 183.7 L133.0 192.7 L134.6 201.8 L136.0 206.1 L137.5 209.2 L138.5 209.9 L139.4 211.0 L140.4 212.0 L140.4 212.0 Z" fill="#595959" stroke="none" stroke-width="0.6" stroke-linejoin="round"/>
<line x1="128.5" y1="160.6" x2="128.5" y2="212.0" stroke="#777" stroke-width="0.9"/>
<line x1="127.5" y1="212.0" x2="172.7" y2="212.0" stroke="#777" stroke-width="0.9"/>
<line x1="128.5" y1="212.0" x2="128.5" y2="213.6" stroke="#777" stroke-width="0.8"/>
<line x1="139.6" y1="212.0" x2="139.6" y2="213.6" stroke="#777" stroke-width="0.8"/>
<line x1="150.6" y1="212.0" x2="150.6" y2="213.6" stroke="#777" stroke-width="0.8"/>
<line x1="161.6" y1="212.0" x2="161.6" y2="213.6" stroke="#777" stroke-width="0.8"/>
<line x1="172.7" y1="212.0" x2="172.7" y2="213.6" stroke="#777" stroke-width="0.8"/>
<line x1="139.0" y1="187.3" x2="171.5" y2="187.3" stroke="#666" stroke-width="1"/>
<text x="139.0" y="178.7" font-size="8.6" fill="#111" stroke="#111" stroke-width="0.3" text-anchor="start" textLength="35.0" lengthAdjust="spacingAndGlyphs" >0.55 (11)</text>
<text x="130.8" y="222.1" font-size="8.7" fill="#111" stroke="#111" stroke-width="0.3" text-anchor="start" textLength="30.4" lengthAdjust="spacingAndGlyphs" >Isotype</text>
<path d="M207.0 210.4 L207.0 210.1 L207.9 206.9 L208.8 203.1 L210.0 202.0 L211.2 199.9 L212.0 200.9 L212.8 201.9 L214.2 203.2 L215.1 201.8 L216.0 199.6 L217.5 195.9 L218.4 193.7 L219.3 191.1 L220.2 189.2 L221.0 188.2 L222.6 190.8 L224.2 194.4 L225.1 195.6 L226.0 197.5 L227.0 199.5 L228.0 200.8 L229.2 203.8 L230.3 205.2 L231.3 207.3 L232.3 209.1 L233.2 209.5 L234.1 209.7 L235.0 210.4 L235.0 210.4 Z" fill="#595959" stroke="none" stroke-width="0.6" stroke-linejoin="round"/>
<line x1="195.3" y1="210.4" x2="247.7" y2="210.4" stroke="#777" stroke-width="0.9"/>
<line x1="196.3" y1="210.4" x2="196.3" y2="212.0" stroke="#777" stroke-width="0.8"/>
<line x1="209.2" y1="210.4" x2="209.2" y2="212.0" stroke="#777" stroke-width="0.8"/>
<line x1="222.0" y1="210.4" x2="222.0" y2="212.0" stroke="#777" stroke-width="0.8"/>
<line x1="234.8" y1="210.4" x2="234.8" y2="212.0" stroke="#777" stroke-width="0.8"/>
<line x1="247.7" y1="210.4" x2="247.7" y2="212.0" stroke="#777" stroke-width="0.8"/>
<line x1="247.3" y1="191.0" x2="247.3" y2="210.4" stroke="#666" stroke-width="0.9"/>
<line x1="207.5" y1="185.8" x2="247.7" y2="185.8" stroke="#666" stroke-width="1"/>
<text x="206.0" y="179.6" font-size="8.6" fill="#111" stroke="#111" stroke-width="0.3" text-anchor="start" textLength="27.8" lengthAdjust="spacingAndGlyphs" >99 (85)</text>
<text x="200.8" y="222.0" font-size="8.7" fill="#111" stroke="#111" stroke-width="0.3" textLength="23.4" lengthAdjust="spacingAndGlyphs">H-2K<tspan font-size="7" dy="-2.2">b</tspan></text>
<path d="M266.4 210.8 L266.4 209.6 L266.6 197.0 L267.5 200.1 L268.3 197.6 L269.1 199.9 L270.0 199.0 L270.8 195.9 L271.6 199.0 L272.4 197.1 L273.2 197.8 L274.0 197.7 L274.8 197.4 L275.6 198.5 L276.4 195.9 L277.2 198.7 L278.0 198.1 L278.8 198.9 L279.6 197.9 L280.4 197.4 L281.2 195.4 L282.0 197.5 L282.8 198.7 L283.6 198.4 L284.4 195.6 L285.2 199.5 L286.0 197.5 L287.0 198.8 L288.0 198.0 L289.0 199.6 L290.1 199.1 L291.3 200.7 L292.2 202.7 L292.2 210.8 Z" fill="#595959" stroke="none" stroke-width="0.6" stroke-linejoin="round"/>
<line x1="266.3" y1="159.4" x2="266.3" y2="210.8" stroke="#777" stroke-width="0.9"/>
<line x1="265.3" y1="210.8" x2="315.4" y2="210.8" stroke="#777" stroke-width="0.9"/>
<path d="M290.6 210.8 L290.6 203.9 L291.2 202.5 L292.5 197.7 L294.0 192.2 L295.5 186.6 L296.8 182.6 L297.8 180.6 L299.2 179.1 L300.5 179.8 L302.0 180.8 L303.2 182.9 L304.3 187.7 L305.3 191.9 L306.2 198.4 L307.0 204.3 L308.5 207.7 L310.0 209.8 L311.0 210.1 L312.0 209.9 L313.0 210.8 L313.0 210.8 Z" fill="#595959" stroke="none" stroke-width="0.6" stroke-linejoin="round"/>
<line x1="266.3" y1="159.4" x2="266.3" y2="210.8" stroke="#777" stroke-width="0.9"/>
<line x1="265.3" y1="210.8" x2="315.4" y2="210.8" stroke="#777" stroke-width="0.9"/>
<line x1="266.3" y1="210.8" x2="266.3" y2="212.4" stroke="#777" stroke-width="0.8"/>
<line x1="278.6" y1="210.8" x2="278.6" y2="212.4" stroke="#777" stroke-width="0.8"/>
<line x1="290.9" y1="210.8" x2="290.9" y2="212.4" stroke="#777" stroke-width="0.8"/>
<line x1="303.1" y1="210.8" x2="303.1" y2="212.4" stroke="#777" stroke-width="0.8"/>
<line x1="315.4" y1="210.8" x2="315.4" y2="212.4" stroke="#777" stroke-width="0.8"/>
<line x1="299.3" y1="169.5" x2="299.3" y2="181.0" stroke="#595959" stroke-width="0.9"/>
<line x1="315.0" y1="205.6" x2="315.0" y2="210.8" stroke="#666" stroke-width="0.9"/>
<line x1="278.5" y1="186.3" x2="315.8" y2="186.3" stroke="#666" stroke-width="1"/>
<text x="277.5" y="179.2" font-size="8.6" fill="#111" stroke="#111" stroke-width="0.3" text-anchor="start" textLength="28.3" lengthAdjust="spacingAndGlyphs" >86 (93)</text>
<text x="268.7" y="222.0" font-size="8.7" fill="#111" stroke="#111" stroke-width="0.3" textLength="16.8" lengthAdjust="spacingAndGlyphs">I-A<tspan font-size="7" dy="-2.2">b</tspan></text>
<path d="M344.0 210.0 L344.0 209.6 L344.8 209.3 L345.7 209.2 L346.5 208.1 L347.3 208.6 L348.1 207.8 L349.0 207.0 L349.8 207.4 L350.8 205.3 L351.8 203.4 L352.8 201.4 L353.7 198.5 L354.5 195.3 L355.3 192.6 L356.1 189.3 L357.0 186.9 L358.5 181.3 L360.0 185.9 L361.1 190.0 L362.3 194.2 L363.3 197.5 L364.3 200.3 L365.2 203.4 L366.2 205.8 L367.1 208.2 L368.0 210.0 L368.0 210.0 Z" fill="#595959" stroke="none" stroke-width="0.6" stroke-linejoin="round"/>
<line x1="335.3" y1="210.0" x2="384.4" y2="210.0" stroke="#777" stroke-width="0.9"/>
<line x1="336.3" y1="210.0" x2="336.3" y2="211.6" stroke="#777" stroke-width="0.8"/>
<line x1="348.3" y1="210.0" x2="348.3" y2="211.6" stroke="#777" stroke-width="0.8"/>
<line x1="360.4" y1="210.0" x2="360.4" y2="211.6" stroke="#777" stroke-width="0.8"/>
<line x1="372.4" y1="210.0" x2="372.4" y2="211.6" stroke="#777" stroke-width="0.8"/>
<line x1="384.4" y1="210.0" x2="384.4" y2="211.6" stroke="#777" stroke-width="0.8"/>
<line x1="348.8" y1="184.4" x2="384.4" y2="184.4" stroke="#666" stroke-width="1"/>
<text x="347.9" y="179.2" font-size="8.6" fill="#111" stroke="#111" stroke-width="0.3" text-anchor="start" textLength="32.3" lengthAdjust="spacingAndGlyphs" >100 (69)</text>
<text x="340.8" y="221.5" font-size="8.7" fill="#111" stroke="#111" stroke-width="0.3" text-anchor="start" textLength="22.5" lengthAdjust="spacingAndGlyphs" >CD80</text>
<path d="M407.8 210.0 L407.8 208.6 L408.0 196.4 L409.5 194.1 L410.4 193.7 L411.2 191.8 L412.1 193.3 L413.0 195.0 L413.8 196.4 L414.7 196.6 L415.5 197.5 L416.3 198.1 L417.1 197.5 L418.0 197.9 L418.8 199.7 L419.9 197.1 L421.0 196.1 L422.1 194.4 L423.3 192.6 L424.2 190.1 L425.2 188.5 L426.0 190.1 L426.8 192.0 L427.6 195.7 L428.5 197.6 L430.0 201.5 L431.3 205.0 L432.4 206.3 L433.5 207.9 L434.3 208.3 L435.2 208.3 L436.0 207.4 L436.9 208.4 L437.8 208.4 L438.6 207.6 L439.5 208.6 L440.4 208.3 L441.2 208.5 L442.1 209.1 L443.0 208.4 L443.9 208.1 L444.8 209.2 L445.6 209.2 L446.5 209.0 L447.4 209.7 L448.2 209.1 L449.1 208.7 L450.0 210.0 L450.0 210.0 Z" fill="#595959" stroke="none" stroke-width="0.6" stroke-linejoin="round"/>
<line x1="407.7" y1="157.0" x2="407.7" y2="210.0" stroke="#777" stroke-width="0.9"/>
<line x1="406.7" y1="210.0" x2="453.5" y2="210.0" stroke="#777" stroke-width="0.9"/>
<line x1="407.7" y1="210.0" x2="407.7" y2="211.6" stroke="#777" stroke-width="0.8"/>
<line x1="419.1" y1="210.0" x2="419.1" y2="211.6" stroke="#777" stroke-width="0.8"/>
<line x1="430.6" y1="210.0" x2="430.6" y2="211.6" stroke="#777" stroke-width="0.8"/>
<line x1="442.1" y1="210.0" x2="442.1" y2="211.6" stroke="#777" stroke-width="0.8"/>
<line x1="453.5" y1="210.0" x2="453.5" y2="211.6" stroke="#777" stroke-width="0.8"/>
<line x1="418.8" y1="184.4" x2="453.0" y2="184.4" stroke="#999" stroke-width="0.9"/>
<text x="419.2" y="179.6" font-size="8.6" fill="#111" stroke="#111" stroke-width="0.3" text-anchor="start" textLength="24.6" lengthAdjust="spacingAndGlyphs" >68(43)</text>
<text x="409.6" y="221.5" font-size="8.7" fill="#111" stroke="#111" stroke-width="0.3" text-anchor="start" textLength="22.1" lengthAdjust="spacingAndGlyphs" >CD40</text>
<line x1="40.4" y1="288.3" x2="40.4" y2="423.6" stroke="#666" stroke-width="0.9"/>
<line x1="38.4" y1="423.5" x2="232.0" y2="423.5" stroke="#666" stroke-width="0.9"/>
<line x1="38.4" y1="288.7" x2="40.4" y2="288.7" stroke="#666" stroke-width="0.9"/>
<line x1="38.4" y1="322.4" x2="40.4" y2="322.4" stroke="#666" stroke-width="0.9"/>
<line x1="38.4" y1="356.2" x2="40.4" y2="356.2" stroke="#666" stroke-width="0.9"/>
<line x1="38.4" y1="390.1" x2="40.4" y2="390.1" stroke="#666" stroke-width="0.9"/>
<text x="34.0" y="292.1" font-size="8.2" fill="#111" stroke="#111" stroke-width="0.3" text-anchor="end" >100</text>
<text x="34.0" y="326.0" font-size="8.2" fill="#111" stroke="#111" stroke-width="0.3" text-anchor="end" >75</text>
<text x="34.0" y="359.7" font-size="8.2" fill="#111" stroke="#111" stroke-width="0.3" text-anchor="end" >50</text>
<text x="34.0" y="393.5" font-size="8.2" fill="#111" stroke="#111" stroke-width="0.3" text-anchor="end" >25</text>
<text x="34.0" y="426.8" font-size="8.2" fill="#111" stroke="#111" stroke-width="0.3" text-anchor="end" >0</text>
<text transform="translate(15.9 408.8) rotate(-90)" font-size="8.3" fill="#111" textLength="110.3" lengthAdjust="spacingAndGlyphs">Luc. RLU/ µg protein x 10<tspan font-size="5.6" dy="-3">3</tspan></text>
<rect x="76.1" y="298.8" width="7.4" height="7.2" fill="#fff" stroke="#444" stroke-width="1"/>
<rect x="76.1" y="318.2" width="7.4" height="7.2" fill="#777" stroke="#333" stroke-width="1"/>
<text x="93.8" y="306.8" font-size="8.7" fill="#111" stroke="#111" stroke-width="0.3" text-anchor="start" textLength="19.6" lengthAdjust="spacingAndGlyphs" >iDCs</text>
<text x="93.4" y="325.2" font-size="8.7" fill="#111" stroke="#111" stroke-width="0.3" text-anchor="start" textLength="25.2" lengthAdjust="spacingAndGlyphs" >mDCs</text>
<line x1="66.3" y1="422.6" x2="85.0" y2="422.6" stroke="#888" stroke-width="0.9"/>
<rect x="92.9" y="417" width="18" height="6.3" fill="#fff" stroke="#222" stroke-width="0.9"/>
<line x1="101.9" y1="415.0" x2="101.9" y2="417.6" stroke="#222" stroke-width="0.8"/>
<line x1="100.6" y1="415.0" x2="103.2" y2="415.0" stroke="#222" stroke-width="0.8"/>
<line x1="100.6" y1="417.6" x2="103.2" y2="417.6" stroke="#222" stroke-width="0.8"/>
<line x1="162.5" y1="422.6" x2="181.3" y2="422.6" stroke="#888" stroke-width="0.9"/>
<rect x="188.5" y="324.8" width="18.7" height="98.5" fill="#6c6c6c" stroke="#3a3a3a" stroke-width="1"/>
<line x1="197.8" y1="315.4" x2="197.8" y2="333.3" stroke="#222" stroke-width="1.1"/>
<line x1="195.7" y1="315.4" x2="200.0" y2="315.4" stroke="#222" stroke-width="1"/>
<line x1="195.7" y1="333.3" x2="200.0" y2="333.3" stroke="#222" stroke-width="1"/>
<path d="M69.2 393.6 V387.4 Q69.2 386.2 70.5 386.2 H105.8 Q107.1 386.2 107.1 387.4 V393.6" fill="none" stroke="#111" stroke-width="1.7"/>
<path d="M161 307.6 V300.4 Q161 299.2 162.3 299.2 H214.3 Q215.6 299.2 215.6 300.4 V307.6" fill="none" stroke="#111" stroke-width="1.7"/>
<text x="86.5" y="385.5" font-size="11" fill="#333" stroke="#333" stroke-width="0.3" text-anchor="middle" font-weight="normal" letter-spacing="0.9">**</text>
<text x="102.0" y="414.3" font-size="11" fill="#333" stroke="#333" stroke-width="0.3" text-anchor="middle" font-weight="normal">*</text>
<text x="191.0" y="295.3" font-size="11" fill="#333" stroke="#333" stroke-width="0.3" text-anchor="middle" font-weight="normal" letter-spacing="0.9">**</text>
<text x="197.5" y="313.1" font-size="11" fill="#333" stroke="#333" stroke-width="0.3" text-anchor="middle" font-weight="normal">*</text>
<text x="63.3" y="447.5" font-size="8.7" fill="#111" stroke="#111" stroke-width="0.3" text-anchor="start" textLength="26.0" lengthAdjust="spacingAndGlyphs" >pBack</text>
<text x="95.1" y="445.5" font-size="8.7" fill="#111" stroke="#111" stroke-width="0.3" text-anchor="start" textLength="24.5" lengthAdjust="spacingAndGlyphs" >pCMV</text>
<text x="95.4" y="456.0" font-size="8.7" fill="#111" stroke="#111" stroke-width="0.3" text-anchor="start" textLength="20.2" lengthAdjust="spacingAndGlyphs" >-Luc.</text>
<text x="155.3" y="447.5" font-size="8.7" fill="#111" stroke="#111" stroke-width="0.3" text-anchor="start" textLength="26.2" lengthAdjust="spacingAndGlyphs" >pBack</text>
<text x="189.3" y="445.5" font-size="8.7" fill="#111" stroke="#111" stroke-width="0.3" text-anchor="start" textLength="24.8" lengthAdjust="spacingAndGlyphs" >pCMV</text>
<text x="189.3" y="456.3" font-size="8.7" fill="#111" stroke="#111" stroke-width="0.3" text-anchor="start" textLength="20.2" lengthAdjust="spacingAndGlyphs" >-Luc.</text>
<text x="393.0" y="276.7" font-size="8.5" fill="#111" stroke="#111" stroke-width="0.3" text-anchor="start" textLength="15.0" lengthAdjust="spacingAndGlyphs" >iDC</text>
<text x="389.5" y="374.2" font-size="8.5" fill="#111" stroke="#111" stroke-width="0.3" text-anchor="start" textLength="18.0" lengthAdjust="spacingAndGlyphs" >mDC</text>
<line x1="301.3" y1="286.0" x2="301.3" y2="310.5" stroke="#111" stroke-width="1.1"/>
<path d="M301.3 282.6 L298.6 288.2 L304 288.2 Z" fill="#111"/>
<text transform="translate(303.8 378.5) rotate(-90)" font-size="9.8" fill="#111" stroke="#111" stroke-width="0.3" textLength="50.9" lengthAdjust="spacingAndGlyphs">Cell number</text>
<line x1="300.8" y1="391.2" x2="300.8" y2="448.8" stroke="#111" stroke-width="1.3"/>
<line x1="317.5" y1="455.0" x2="355.5" y2="455.0" stroke="#111" stroke-width="1.3"/>
<text x="373.8" y="456.2" font-size="8.8" fill="#111" stroke="#111" stroke-width="0.3" text-anchor="start" textLength="67.0" lengthAdjust="spacingAndGlyphs" >OVA expression</text>
<line x1="452.3" y1="455.5" x2="507.0" y2="455.5" stroke="#111" stroke-width="1.6"/>
<path d="M511.6 455.5 L505.8 452.8 L505.8 458.2 Z" fill="#111"/>
<path d="M317.7 349.0 L317.7 348.5 L317.8 303.7 L318.3 315.4 L318.9 327.0 L320.0 325.7 L321.1 324.3 L322.4 326.4 L323.5 330.2 L324.5 334.6 L325.4 339.0 L326.5 342.9 L327.4 344.3 L328.3 345.9 L329.3 346.1 L330.3 346.7 L331.3 347.7 L332.2 347.3 L333.2 347.6 L334.1 348.0 L335.1 348.2 L336.0 348.8 L336.0 349.0 Z" fill="#a8a8a8" stroke="#444" stroke-width="0.6" stroke-linejoin="round"/>
<line x1="317.6" y1="291.2" x2="317.6" y2="349.0" stroke="#555" stroke-width="0.9"/>
<line x1="316.6" y1="349.0" x2="393.0" y2="349.0" stroke="#555" stroke-width="0.9"/>
<text x="318.6" y="353.3" font-size="3.4" fill="#333" text-anchor="middle">10<tspan font-size="2.6" dy="-1.2">0</tspan></text>
<text x="337.2" y="353.3" font-size="3.4" fill="#333" text-anchor="middle">10<tspan font-size="2.6" dy="-1.2">1</tspan></text>
<text x="355.8" y="353.3" font-size="3.4" fill="#333" text-anchor="middle">10<tspan font-size="2.6" dy="-1.2">2</tspan></text>
<text x="374.4" y="353.3" font-size="3.4" fill="#333" text-anchor="middle">10<tspan font-size="2.6" dy="-1.2">3</tspan></text>
<text x="393.0" y="353.3" font-size="3.4" fill="#333" text-anchor="middle">10<tspan font-size="2.6" dy="-1.2">4</tspan></text>
<text x="316.4" y="293.4" font-size="3.2" fill="#333" text-anchor="end">2</text>
<line x1="331.1" y1="322.4" x2="392.9" y2="322.4" stroke="#444" stroke-width="1"/>
<text x="348.8" y="315.5" font-size="8.6" fill="#111" stroke="#111" stroke-width="0.3" text-anchor="start" textLength="25.5" lengthAdjust="spacingAndGlyphs" >1.5 (8)</text>
<text x="322.0" y="293.8" font-size="8.7" fill="#111" stroke="#111" stroke-width="0.3" text-anchor="start" textLength="30.5" lengthAdjust="spacingAndGlyphs" >Control</text>
<path d="M429.3 348.5 L429.3 347.7 L429.4 301.6 L429.9 311.6 L430.5 320.7 L432.0 322.5 L432.9 323.6 L433.7 325.0 L434.6 326.0 L435.5 328.8 L436.3 331.6 L437.1 334.7 L438.0 337.6 L439.0 339.7 L440.0 341.3 L440.9 342.1 L441.8 342.2 L442.7 343.3 L443.6 343.1 L444.4 343.9 L445.3 343.9 L446.1 344.5 L447.0 344.8 L447.9 344.7 L448.7 345.4 L449.6 345.6 L450.4 345.3 L451.3 345.7 L452.1 346.1 L453.0 345.8 L453.9 346.0 L454.8 346.7 L455.6 346.6 L456.5 347.0 L457.4 347.0 L458.2 347.0 L459.1 347.4 L460.0 347.3 L460.9 347.8 L461.7 347.8 L462.6 347.6 L463.4 347.9 L464.3 348.0 L465.1 348.0 L466.0 348.5 L466.0 348.5 Z" fill="#a8a8a8" stroke="#444" stroke-width="0.6" stroke-linejoin="round"/>
<line x1="429.2" y1="289.6" x2="429.2" y2="348.5" stroke="#555" stroke-width="0.9"/>
<line x1="428.2" y1="348.5" x2="506.6" y2="348.5" stroke="#555" stroke-width="0.9"/>
<text x="430.2" y="352.8" font-size="3.4" fill="#333" text-anchor="middle">10<tspan font-size="2.6" dy="-1.2">0</tspan></text>
<text x="449.3" y="352.8" font-size="3.4" fill="#333" text-anchor="middle">10<tspan font-size="2.6" dy="-1.2">1</tspan></text>
<text x="468.4" y="352.8" font-size="3.4" fill="#333" text-anchor="middle">10<tspan font-size="2.6" dy="-1.2">2</tspan></text>
<text x="487.5" y="352.8" font-size="3.4" fill="#333" text-anchor="middle">10<tspan font-size="2.6" dy="-1.2">3</tspan></text>
<text x="506.6" y="352.8" font-size="3.4" fill="#333" text-anchor="middle">10<tspan font-size="2.6" dy="-1.2">4</tspan></text>
<text x="428.0" y="291.8" font-size="3.2" fill="#333" text-anchor="end">2</text>
<line x1="450.0" y1="320.7" x2="505.7" y2="320.7" stroke="#444" stroke-width="1"/>
<text x="461.2" y="314.5" font-size="8.6" fill="#111" stroke="#111" stroke-width="0.3" text-anchor="start" textLength="21.8" lengthAdjust="spacingAndGlyphs" >5 (11)</text>
<text x="432.3" y="293.8" font-size="8.7" fill="#111" stroke="#111" stroke-width="0.3" text-anchor="start" textLength="62.8" lengthAdjust="spacingAndGlyphs" >pCMV-OVA-TR</text>
<path d="M317.7 441.2 L317.7 440.6 L317.8 398.6 L318.3 397.9 L318.8 407.5 L319.2 414.9 L320.2 405.9 L321.3 397.9 L322.5 395.1 L323.5 398.6 L324.4 404.6 L325.2 410.1 L326.0 413.8 L326.8 417.3 L328.3 423.8 L329.4 426.5 L330.5 429.6 L331.6 432.4 L332.8 434.6 L333.9 435.8 L335.0 436.5 L336.2 437.3 L337.4 438.1 L338.3 438.5 L339.2 438.9 L340.1 439.1 L341.0 439.5 L341.8 440.0 L342.6 439.7 L343.4 440.1 L344.2 440.0 L345.0 440.3 L345.8 440.4 L346.7 440.5 L347.5 440.5 L348.3 440.7 L349.2 440.9 L350.0 440.5 L350.8 440.6 L351.7 440.5 L352.5 441.2 L352.5 441.2 Z" fill="#a8a8a8" stroke="#444" stroke-width="0.6" stroke-linejoin="round"/>
<line x1="317.6" y1="384.4" x2="317.6" y2="441.2" stroke="#555" stroke-width="0.9"/>
<line x1="316.6" y1="441.2" x2="392.5" y2="441.2" stroke="#555" stroke-width="0.9"/>
<text x="318.6" y="445.5" font-size="3.4" fill="#333" text-anchor="middle">10<tspan font-size="2.6" dy="-1.2">0</tspan></text>
<text x="337.1" y="445.5" font-size="3.4" fill="#333" text-anchor="middle">10<tspan font-size="2.6" dy="-1.2">1</tspan></text>
<text x="355.6" y="445.5" font-size="3.4" fill="#333" text-anchor="middle">10<tspan font-size="2.6" dy="-1.2">2</tspan></text>
<text x="374.0" y="445.5" font-size="3.4" fill="#333" text-anchor="middle">10<tspan font-size="2.6" dy="-1.2">3</tspan></text>
<text x="392.5" y="445.5" font-size="3.4" fill="#333" text-anchor="middle">10<tspan font-size="2.6" dy="-1.2">4</tspan></text>
<text x="316.4" y="386.6" font-size="3.2" fill="#333" text-anchor="end">2</text>
<line x1="332.6" y1="412.2" x2="391.2" y2="412.2" stroke="#444" stroke-width="1"/>
<line x1="332.6" y1="411.0" x2="332.6" y2="413.4" stroke="#444" stroke-width="0.8"/>
<line x1="391.2" y1="411.0" x2="391.2" y2="413.4" stroke="#444" stroke-width="0.8"/>
<text x="346.2" y="407.0" font-size="8.6" fill="#111" stroke="#111" stroke-width="0.3" text-anchor="start" textLength="26.2" lengthAdjust="spacingAndGlyphs" >1.2 (3)</text>
<text x="322.0" y="389.2" font-size="8.7" fill="#111" stroke="#111" stroke-width="0.3" text-anchor="start" textLength="30.5" lengthAdjust="spacingAndGlyphs" >Control</text>
<path d="M432.2 441.0 L432.2 440.9 L433.4 438.6 L434.5 436.6 L435.6 433.8 L436.7 431.6 L437.6 428.2 L438.6 424.6 L439.6 421.1 L440.5 417.8 L442.0 412.6 L442.8 410.8 L443.6 408.5 L445.1 406.5 L446.5 409.9 L447.4 412.7 L448.2 416.3 L449.3 421.8 L450.4 426.7 L451.2 429.2 L452.0 431.9 L453.5 435.3 L454.5 436.2 L455.5 437.4 L456.3 437.5 L457.2 438.2 L458.0 438.4 L459.0 439.0 L460.0 439.3 L461.0 439.2 L462.0 439.8 L463.1 439.7 L464.1 440.3 L465.1 440.3 L466.1 440.3 L467.0 440.5 L468.0 441.0 L468.0 441.0 Z" fill="#a8a8a8" stroke="#444" stroke-width="0.6" stroke-linejoin="round"/>
<line x1="430.6" y1="385.0" x2="430.6" y2="441.0" stroke="#555" stroke-width="0.9"/>
<line x1="429.6" y1="441.0" x2="504.5" y2="441.0" stroke="#555" stroke-width="0.9"/>
<text x="431.6" y="445.3" font-size="3.4" fill="#333" text-anchor="middle">10<tspan font-size="2.6" dy="-1.2">0</tspan></text>
<text x="449.8" y="445.3" font-size="3.4" fill="#333" text-anchor="middle">10<tspan font-size="2.6" dy="-1.2">1</tspan></text>
<text x="468.1" y="445.3" font-size="3.4" fill="#333" text-anchor="middle">10<tspan font-size="2.6" dy="-1.2">2</tspan></text>
<text x="486.3" y="445.3" font-size="3.4" fill="#333" text-anchor="middle">10<tspan font-size="2.6" dy="-1.2">3</tspan></text>
<text x="504.5" y="445.3" font-size="3.4" fill="#333" text-anchor="middle">10<tspan font-size="2.6" dy="-1.2">4</tspan></text>
<text x="429.4" y="387.2" font-size="3.2" fill="#333" text-anchor="end">2</text>
<line x1="446.3" y1="412.3" x2="504.0" y2="412.3" stroke="#444" stroke-width="1"/>
<text x="461.0" y="407.4" font-size="8.6" fill="#111" stroke="#111" stroke-width="0.3" text-anchor="start" textLength="27.5" lengthAdjust="spacingAndGlyphs" >38 (25)</text>
<text x="433.0" y="388.3" font-size="8.7" fill="#111" stroke="#111" stroke-width="0.3" text-anchor="start" textLength="62.2" lengthAdjust="spacingAndGlyphs" >pCMV-OVA-TR</text>
</svg>
</body></html>
